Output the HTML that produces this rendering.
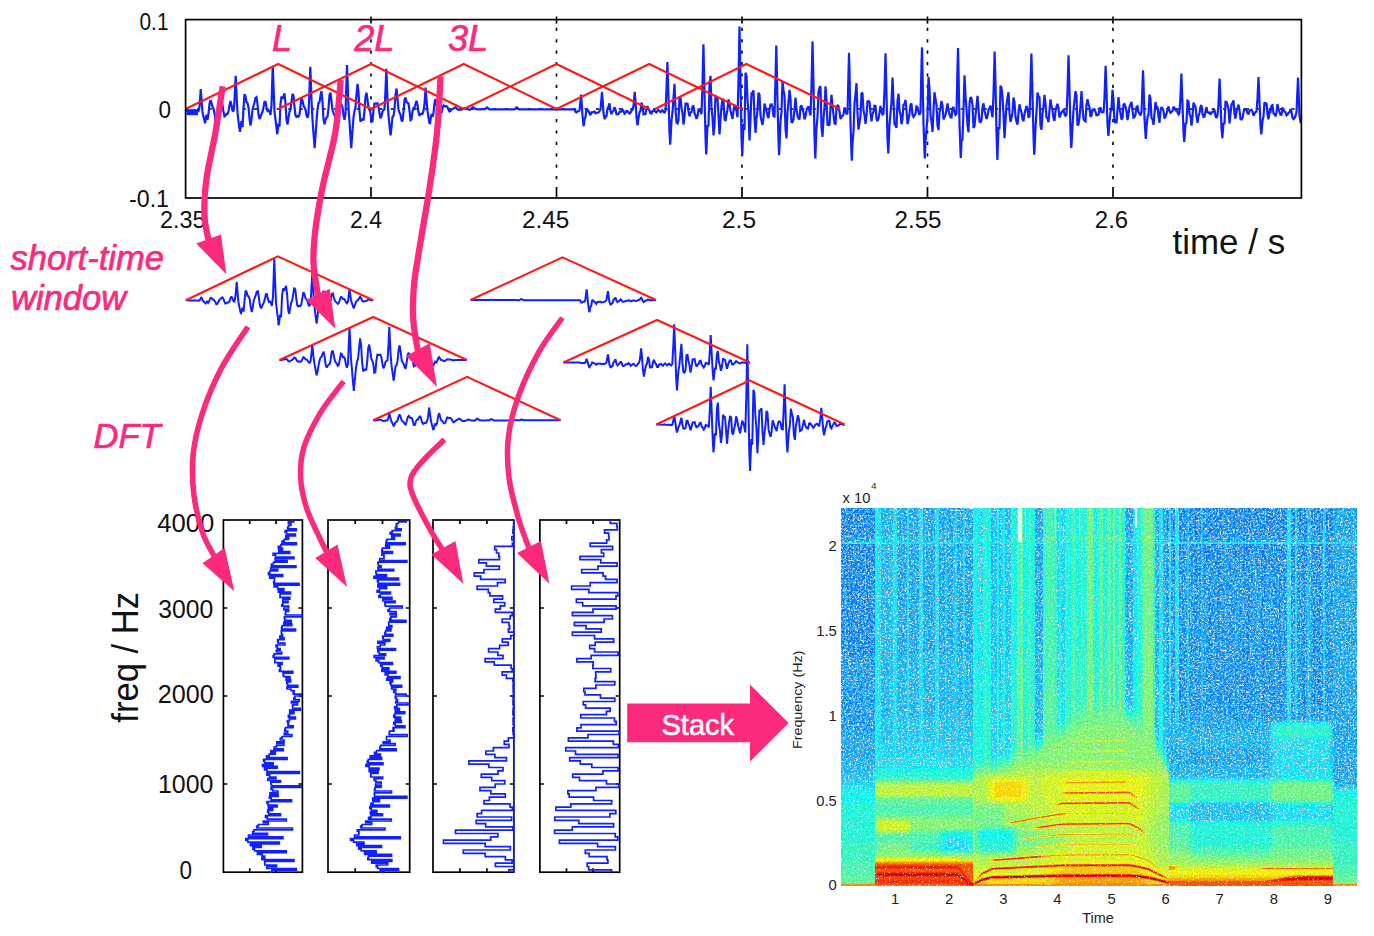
<!DOCTYPE html>
<html><head><meta charset="utf-8"><title>STFT</title>
<style>
html,body{margin:0;padding:0;background:#fff}
svg{display:block}
text{font-family:"Liberation Sans",sans-serif}
.pk{fill:#fb2a7c;font-style:italic;stroke:#fb2a7c;stroke-width:.7}
.ar{fill:none;stroke:#fb2a7c;stroke-linecap:butt;stroke-linejoin:round}
.bl{fill:none;stroke:#1020ff;stroke-linejoin:miter;stroke-miterlimit:2}
.rd{fill:none;stroke:#ff1a1a;stroke-width:2.1;stroke-linejoin:miter}
.ax{fill:none;stroke:#000;stroke-width:1.7}
.gd{fill:none;stroke:#000;stroke-width:1.6;stroke-dasharray:3.2 8.2}
</style></head>
<body>
<svg width="1374" height="936" viewBox="0 0 1374 936">
<rect width="1374" height="936" fill="#fff"/>
<g id="topplot">
<path class="gd" d="M371 16.4V186"/>
<path class="ax" d="M371 198v-11"/>
<path class="ax" d="M371 19.6v4"/>
<path class="gd" d="M556.5 16.4V186"/>
<path class="ax" d="M556.5 198v-11"/>
<path class="ax" d="M556.5 19.6v4"/>
<path class="gd" d="M742 16.4V186"/>
<path class="ax" d="M742 198v-11"/>
<path class="ax" d="M742 19.6v4"/>
<path class="gd" d="M927.5 16.4V186"/>
<path class="ax" d="M927.5 198v-11"/>
<path class="ax" d="M927.5 19.6v4"/>
<path class="gd" d="M1113 16.4V186"/>
<path class="ax" d="M1113 198v-11"/>
<path class="ax" d="M1113 19.6v4"/>
<path class="gd" d="M185.6 109H1301.4"/>
<path class="bl" stroke-width="2.2" d="M185.5 109.5L186.5 110.6L187.5 111L188.5 111L189.5 111.6L190.5 111.4L191.5 111.9L192.5 112.2L193.5 110.6L194.5 110.2L195.5 111.4L196.5 111.2L197.5 110.7L198.5 111.1L199.5 106.6L200.5 93L200.7 89.1L201.5 99.5L202.5 111.9L203.5 117.1L204.5 120.5L205 123.2L205.5 120.8L206.5 114.7L207.5 119.7L208.5 114L209.5 103.8L210.5 100L211.5 102.9L212.5 107L213.5 109L214.5 113.3L215.5 120.1L216.5 120.6L217.5 114.4L218.5 108.5L219.5 105.9L220.5 103.2L221.5 101.4L222.5 104.9L223.5 111.7L224.5 116.5L225.5 115.8L226.5 114L227.5 114.1L228.5 111.8L229.5 105L230.5 101.1L231.5 105.5L232.5 110.6L233.5 111.4L234.5 101L235.5 80L235.7 75.8L236.5 93.7L237.5 112.9L238.5 121.5L239.5 128.8L240 131.9L240.5 127.6L241.5 120.9L242.5 127.1L243.5 108.2L244.5 94.1L245.5 96.3L246.5 102.2L247.5 103.1L248.5 107.1L249.5 118.6L250.5 125.5L251.5 119L252.5 109.7L253.5 105.7L254.5 102.5L255.5 98L256.5 97.3L257.5 104.5L258.5 114.3L259.5 118.9L260.5 117.1L261.5 114L262.5 111.8L263.5 107.3L264.5 101.8L265.5 101.8L266.5 107.5L267.5 110.9L268.5 110.2L269.5 111.6L270.5 115L271.5 105.1L272.5 73.5L272.8 65.7L273.5 86.1L274.5 111.7L275.5 119.9L276.5 127.6L277.1 134.2L277.5 132.3L278.5 123.6L279.5 126.6L280.5 103.9L281.5 96.4L282.5 98.9L283.5 96.1L284.5 93.3L285.5 103.6L286.5 119.9L287.5 124.5L288.5 117.6L289.5 111.9L290.5 109.2L291.5 102L292.5 93.8L293.5 95.7L294.5 106.8L295.5 115.5L296.5 116.8L297.5 115.9L298.5 116.7L299.5 114.9L300.5 105.7L301.5 97.9L302.5 100.4L303.5 105.9L304.5 107.3L305.5 109.6L306.5 115.1L307.5 117.8L308.5 113.9L309.5 89.2L310.3 66.9L310.5 72.2L311.5 100.3L312.5 119.6L313.5 133.4L314.5 146L314.6 148.1L315.5 136.2L316.5 121.3L317.5 109.4L318.5 103.1L319.5 102.2L320.5 95.4L321.5 91.1L322.5 102.1L323.5 119.2L324.5 124.4L325.5 119.7L326.5 117.6L327.5 116.7L328.5 107.9L329.5 95.1L330.5 92.7L331.5 101.6L332.5 109.9L333.5 113.1L334.5 115.2L335.5 118.4L336.5 116.5L337.5 107.4L338.5 99.2L339.5 100.2L340.5 104.8L341.5 104.7L342.5 107.2L343.5 115.4L344.5 119.8L345.5 113.7L346.5 80.4L347 65.1L347.5 78.9L348.5 107.6L349.5 121.9L350.5 137.1L351.3 148.1L351.5 144L352.5 130.5L353.5 117.4L354.5 110.9L355.5 107.3L356.5 94.7L357.5 83.8L358.5 91.9L359.5 111.5L360.5 121.8L361.5 119.7L362.5 119.2L363.5 120.3L364.5 110.9L365.5 96.8L366.5 92.7L367.5 99.6L368.5 107.6L369.5 109.6L370.5 113.2L371.5 121.9L372.5 121.4L373.5 110.3L374.5 103.4L375.5 103.5L376.5 103.7L377.5 103.3L378.5 106.3L379.5 113.3L380.5 118.3L381.5 116.1L382.5 111.5L383.5 110.2L384.5 109.3L385.5 91L386.3 68.9L386.5 73.4L387.5 100.1L388.5 115.6L389.5 125.5L390.5 134.9L390.6 135.4L391.5 126.6L392.5 116.9L393.5 115.8L394.5 109.5L395.5 95.1L396.5 88.5L397.5 98L398.5 109.6L399.5 112.7L400.5 114.7L401.5 120.3L402.5 121.5L403.5 112.1L404.5 100.1L405.5 97.4L406.5 101.8L407.5 103.1L408.5 103.4L409.5 110.9L410.5 120.2L411.5 119.5L412.5 111.5L413.5 107.9L414.5 107.8L415.5 104L416.5 100.7L417.5 104.6L418.5 112.3L419.5 115.7L420.5 114.6L421.5 113.7L422.5 113.8L423.5 110.8L424.5 104.2L425.5 89.5L425.6 87.6L426.5 100.2L427.5 111.2L428.5 117.5L429.5 123.2L429.9 124.2L430.5 119.8L431.5 114L432.5 116.9L433.5 113.1L434.5 102.9L435.5 99.1L436.5 104.7L437.5 109.1L438.5 109.8L439.5 111.9L440.5 113.2L441.5 112.5L442.5 107.9L443.5 105.5L444.5 106.4L445.5 105.9L446.5 106.3L447.5 107.1L448.5 109.7L449.5 111.4L450.5 110.8L451.5 109.5L452.5 109L453.5 108.6L454.5 107.7L455.5 107.3L456.5 108.1L457.5 109.3L458.5 109.8L459.5 109.7L460.5 109.7L461.5 109.7L462.5 109.1L463.5 108.5L464.5 108.4L465.5 108.7L466.5 109L467.5 109.2L468.5 109.4L469.5 109.6L470.5 109.6L471.5 108.7L472.5 107.3L473.5 107.3L474.5 108.4L475.5 109L476.5 109.1L477.5 109.3L478.5 109.4L479.5 109.4L480.5 109.3L481.5 109.2L482.5 109.2L483.5 109.1L484.5 109.3L485.5 108.8L486.5 107.7L487.5 107.7L488.5 108.8L489.5 109.3L490.5 109.3L491.5 109.3L492.5 109.3L493.5 109.3L494.5 109.3L495.5 109.3L496.5 109.3L497.5 109.3L498.5 109.3L499.5 109.3L500.5 109.3L501.5 109.3L502.5 109.3L503.5 109.3L504.5 109.3L505.5 109.3L506.5 109.3L507.5 109.3L508.5 109.3L509.5 109.3L510.5 109.3L511.5 109.3L512.5 109.3L513.5 109.3L514.5 109.3L515.5 108.5L516.5 107.4L517.5 107.9L518.5 109L519.5 109.3L520.5 109.3L521.5 109.3L522.5 109.3L523.5 109.3L524.5 109.3L525.5 109.3L526.5 109.3L527.5 109.3L528.5 109.3L529.5 109.3L530.5 109.3L531.5 109.3L532.5 109.3L533.5 109.3L534.5 109.3L535.5 109.3L536.5 109.3L537.5 109.3L538.5 109.3L539.5 109.3L540.5 109.3L541.5 109.3L542.5 109.3L543.5 109.3L544.5 109.3L545.5 109.3L546.5 109.3L547.5 109.3L548.5 109.3L549.5 109.3L550.5 109.3L551.5 109.3L552.5 109.3L553.5 109.3L554.5 109.3L555.5 109.3L556.5 109.3L557.5 109.3L558.5 109.3L559.5 109.3L560.5 109.3L561.5 109.3L562.5 109.3L563.5 109.3L564.5 109.3L565.5 109.3L566.5 109.3L567.5 109.3L568.5 109.3L569.5 109.3L570.5 109.3L571.5 109.3L572.5 109.3L573.5 109.3L574.5 109.3L575.5 112L576.5 112.4L577.5 111.3L578.5 111.2L579.5 110.4L580.5 100.5L581 94.7L581.5 99.5L582.5 115.4L583.5 125.2L583.8 126L584.5 119.5L585.5 117L586.5 108.7L587.5 110.1L588.5 111.2L589.5 113.2L590.5 115.2L591.5 112.4L592.5 112.4L593.5 111.8L594.5 111.6L595.5 113.3L596.5 112.8L597.5 112.7L598.5 112.5L599.5 111.2L600.5 109.5L601.5 97.8L602 91.8L602.5 98.1L603.5 113L604.5 118.3L604.8 119.3L605.5 116.5L606.5 116.1L607.5 108.5L608.5 106.4L609.5 103.3L610.5 111.2L611.5 114.1L612.5 111.8L613.5 110.8L614.5 107.1L615.5 109.7L616.5 114.2L617.5 114.3L618.5 113.8L619.5 111.9L620.5 111.4L621.5 111.5L622.5 109.8L623.5 111.1L624.5 113.8L625.5 112.8L626.5 111L627.5 111L628.5 112.5L629.5 113.6L630.5 112.8L631.5 110.7L632.5 109.8L633.5 106.1L634.5 94.7L634.7 91.9L635.5 101.4L636.5 117.2L637.5 125.4L638.5 118.2L639.5 112.4L640.5 110.6L641.5 102.7L642.5 105.9L643.5 114.3L644.5 113.9L645.5 114L646.5 108.5L647.5 106.1L648.5 109.6L649.5 110.5L650.5 113.4L651.5 113.4L652.5 111L653.5 110.8L654.5 110.6L655.5 111.9L656.5 112.5L657.5 110.5L658.5 110L659.5 111.3L660.5 112.2L661.5 111.1L662.5 110.2L663.5 111.9L664.5 112.5L665.5 110.7L666.5 88.8L667.4 62.1L667.5 65L668.5 98.1L669.5 132.2L670.2 144.7L670.5 139.6L671.5 120.3L672.5 112.5L673.5 97.9L674.5 83.8L675.5 109.3L676.5 122.5L677.5 123.4L678.5 120.1L679.5 98.1L680.5 97.7L681.5 107.7L682.5 112.9L683.5 124.6L684.5 116.5L685.5 103.7L686.5 104L687.5 103.2L688.5 111.4L689.5 116.4L690.5 112.5L691.5 112.1L692.5 106.5L693.5 105.7L694.5 113L695.5 115.7L696.5 118.9L697.5 116.2L698.5 109.8L699.5 110.6L700.5 110.8L701.5 114.3L702.5 84.3L703.4 44.2L703.5 48.1L704.5 93.3L705.5 136.5L706.2 154.5L706.5 149L707.5 125.2L708.5 126L709.5 85.1L710.5 75.8L711.5 107.8L712.5 117.5L713.5 135.5L714.5 124.4L715.5 95.3L716.5 98.3L717.5 99.1L718.5 115.5L719.5 134.5L720.5 119.2L721.5 106.9L722.5 99.2L723.5 100L724.5 119L725.5 121.1L726.5 114.3L727.5 109.4L728.5 99.4L729.5 103.3L730.5 110.9L731.5 114.8L732.5 118.9L733.5 111.1L734.5 105L735.5 107.2L736.5 111L737.5 117.2L738.5 80.3L739.5 26.6L740.5 81.2L741.5 137.4L742.3 155.7L742.5 149.3L743.5 123.8L744.5 129.9L745.5 72.7L746.5 75.9L747.5 99.8L748.5 112.5L749.5 140.4L750.5 119L751.5 93.4L752.5 92.6L753.5 90.4L754.5 118L755.5 132.8L756.5 118.9L757.5 110.3L758.5 92.6L759.5 94.7L760.5 115.7L761.5 120.6L762.5 124.9L763.5 117.8L764.5 103.6L765.5 107.1L766.5 111.2L767.5 115.4L768.5 118.2L769.5 109.3L770.5 104.6L771.5 104.3L772.5 107.3L773.5 116.1L774.5 116.5L775.5 79.7L776.3 45.6L776.5 54.3L777.5 101.3L778.5 140.8L779.1 155.3L779.5 146L780.5 121.2L781.5 111.9L782.5 81.1L783.5 90.4L784.5 95.4L785.5 128.4L786.5 138.4L787.5 111.9L788.5 101.5L789.5 89.9L790.5 98.8L791.5 122.8L792.5 121.9L793.5 119.4L794.5 109.1L795.5 97.7L796.5 109.5L797.5 115.6L798.5 118.5L799.5 119.3L800.5 106.7L801.5 105.5L802.5 109.7L803.5 112.2L804.5 119.3L805.5 116.4L806.5 110.2L807.5 107.8L808.5 106.3L809.5 111.4L810.5 115.5L811.5 86.6L812.5 41.4L813.5 84.1L814.5 136.9L815.3 158.5L815.5 153L816.5 127.9L817.5 117.1L818.5 92.1L819.5 87.6L820.5 86.2L821.5 126.9L822.5 136.8L823.5 118.7L824.5 107.3L825.5 86.4L826.5 100.3L827.5 124.7L828.5 125.1L829.5 124.7L830.5 107.2L831.5 94.8L832.5 106.7L833.5 114.1L834.5 123.6L835.5 124L836.5 108.9L837.5 105L838.5 106.2L839.5 111.2L840.5 119.1L841.5 116.6L842.5 116.1L843.5 114.2L844.5 107.3L845.5 110L846.5 114.3L847.5 113L848.5 73.4L849 52.9L849.5 71.4L850.5 123.7L851.5 153.4L851.8 160.6L852.5 143L853.5 131.5L854.5 103.6L855.5 94.3L856.5 83.2L857.5 112.9L858.5 129.6L859.5 122.9L860.5 116.3L861.5 92.7L862.5 93.5L863.5 110.6L864.5 115.1L865.5 123.8L866.5 116.1L867.5 101.3L868.5 101.1L869.5 101.8L870.5 113.2L871.5 121.3L872.5 114.3L873.5 111.6L874.5 105.7L875.5 106.1L876.5 118.8L877.5 121.2L878.5 118.6L879.5 112.5L880.5 106L881.5 111.6L882.5 114.5L883.5 113.7L884.5 89.8L885.5 53.2L886.5 94.4L887.5 138.8L888.3 153.5L888.5 147.9L889.5 124.7L890.5 113.1L891.5 102.1L892.5 77.5L893.5 100.6L894.5 124.1L895.5 125.5L896.5 127.9L897.5 101.3L898.5 93.6L899.5 110.5L900.5 114.5L901.5 124.2L902.5 118.7L903.5 104.7L904.5 104.2L905.5 99.9L906.5 110L907.5 124.1L908.5 119.5L909.5 113.5L910.5 104.9L911.5 103.5L912.5 114.9L913.5 116.8L914.5 115.3L915.5 113.8L916.5 106.4L917.5 107.1L918.5 112L919.5 115L920.5 111.6L921.5 65.3L922 47.4L922.5 70.9L923.5 124.4L924.5 151.6L924.8 158.5L925.5 141.1L926.5 129.9L927.5 116.1L928.5 76.9L929.5 88.6L930.5 115.5L931.5 121.4L932.5 132L933.5 110.4L934.5 92.2L935.5 99.3L936.5 104.8L937.5 125.6L938.5 130.1L939.5 112.6L940.5 107.8L941.5 101L942.5 105.5L943.5 119.5L944.5 117L945.5 115L946.5 109.6L947.5 103.3L948.5 110.4L949.5 114.2L950.5 117.2L951.5 117.4L952.5 108.1L953.5 107L954.5 111.8L955.5 114.8L956.5 113.7L957.5 67.6L958 48L958.5 69.7L959.5 123.7L960.5 151.5L960.8 158L961.5 140.9L962.5 139.2L963.5 109.6L964.5 75.4L965.5 96L966.5 108.9L967.5 125.2L968.5 132.3L969.5 103.9L970.5 97L971.5 98.5L972.5 105.1L973.5 127.9L974.5 126.1L975.5 115.3L976.5 106.5L977.5 95.9L978.5 108.9L979.5 121.7L980.5 122.1L981.5 120.2L982.5 107.1L983.5 103.3L984.5 110.9L985.5 114.8L986.5 119.1L987.5 116L988.5 109.9L989.5 108.1L990.5 105.6L991.5 111.3L992.5 117.4L993.5 94.3L994.5 56.8L994.6 51.6L995.5 82.7L996.5 133.4L997.4 159.9L997.5 155.3L998.5 128L999.5 128.1L1000.5 85.6L1001.5 87.9L1002.5 97.4L1003.5 114.1L1004.5 138.3L1005.5 121L1006.5 105.1L1007.5 97.6L1008.5 92.3L1009.5 112.9L1010.5 122L1011.5 117.7L1012.5 112.6L1013.5 97.5L1014.5 102.1L1015.5 116.8L1016.5 121.7L1017.5 124.7L1018.5 113.2L1019.5 104.3L1020.5 109.2L1021.5 112.1L1022.5 119L1023.5 121.2L1024.5 113.9L1025.5 109.8L1026.5 105.9L1027.5 109.1L1028.5 117.7L1029.5 116.4L1030.5 86.3L1031.4 53.6L1031.5 57.7L1032.5 94.9L1033.5 135.8L1034.2 154.8L1034.5 150.4L1035.5 127.6L1036.5 111.9L1037.5 92.6L1038.5 96.4L1039.5 97.2L1040.5 125.6L1041.5 129.8L1042.5 113.5L1043.5 106.7L1044.5 94.9L1045.5 103.6L1046.5 117.5L1047.5 118.5L1048.5 122.2L1049.5 110.1L1050.5 99.4L1051.5 106.3L1052.5 110.2L1053.5 118L1054.5 120.9L1055.5 111.2L1056.5 106.6L1057.5 103.8L1058.5 108.3L1059.5 117.5L1060.5 115.1L1061.5 112.4L1062.5 111.2L1063.5 109.7L1064.5 114L1065.5 115.7L1066.5 114.7L1067.5 90.8L1068.5 55.2L1069.5 90L1070.5 131.6L1071.3 148L1071.5 144.9L1072.5 126.4L1073.5 110.1L1074.5 100.4L1075.5 91.1L1076.5 96.1L1077.5 125.4L1078.5 124.5L1079.5 117.7L1080.5 105.8L1081.5 91.1L1082.5 107.3L1083.5 118.8L1084.5 120.7L1085.5 121.3L1086.5 104.6L1087.5 99.2L1088.5 104.3L1089.5 107.1L1090.5 116.8L1091.5 115.6L1092.5 108.9L1093.5 110L1094.5 109.4L1095.5 111.9L1096.5 115.3L1097.5 115.2L1098.5 114.5L1099.5 108.5L1100.5 107.5L1101.5 112.2L1102.5 111.8L1103.5 112.7L1104.5 97.6L1105.5 69.3L1105.6 65.9L1106.5 91.3L1107.5 123.9L1108.4 135.8L1108.5 134.9L1109.5 121.8L1110.5 112.2L1111.5 108.3L1112.5 89.9L1113.5 99.9L1114.5 122.6L1115.5 121.3L1116.5 123.1L1117.5 109.8L1118.5 97.2L1119.5 107.9L1120.5 113.4L1121.5 119.6L1122.5 118.2L1123.5 104.6L1124.5 104.1L1125.5 106.5L1126.5 111.5L1127.5 120L1128.5 113.7L1129.5 106.8L1130.5 104.2L1131.5 101.8L1132.5 110.4L1133.5 117.6L1134.5 117.2L1135.5 114.5L1136.5 106.8L1137.5 106.2L1138.5 112.2L1139.5 113.7L1140.5 115.3L1141.5 112.1L1142.5 85.1L1143 70.2L1143.5 83L1144.5 118.1L1145.5 134.8L1145.8 138.9L1146.5 127.5L1147.5 117L1148.5 115L1149.5 94.6L1150.5 98.9L1151.5 117.8L1152.5 119.4L1153.5 124.8L1154.5 113.4L1155.5 102L1156.5 107.4L1157.5 106.6L1158.5 116.6L1159.5 122.7L1160.5 109.9L1161.5 107.1L1162.5 108.3L1163.5 111.2L1164.5 118.5L1165.5 116.7L1166.5 113.7L1167.5 110.1L1168.5 106.4L1169.5 110.8L1170.5 112.8L1171.5 112L1172.5 110.9L1173.5 106.7L1174.5 108.2L1175.5 109.9L1176.5 108.5L1177.5 112.3L1178.5 114.3L1179.5 112.9L1180.5 95.8L1181.4 73.5L1181.5 77.5L1182.5 105.1L1183.5 131.8L1184.2 142L1184.5 139.1L1185.5 123.7L1186.5 122.5L1187.5 100.7L1188.5 101.3L1189.5 114.2L1190.5 116L1191.5 125.6L1192.5 116.8L1193.5 102.6L1194.5 105.2L1195.5 106.6L1196.5 116.2L1197.5 122.8L1198.5 116L1199.5 113L1200.5 106.7L1201.5 105.1L1202.5 114.1L1203.5 117L1204.5 116.7L1205.5 111.5L1206.5 107.1L1207.5 112.3L1208.5 112.9L1209.5 112.6L1210.5 114.4L1211.5 112.4L1212.5 112.2L1213.5 110.9L1214.5 109.8L1215.5 115.9L1216.5 118.1L1217.5 115L1218.5 104.1L1219.5 80.7L1219.6 78.6L1220.5 101.3L1221.5 128.6L1222.4 138.3L1222.5 135.8L1223.5 122.8L1224.5 124.1L1225.5 101.8L1226.5 102L1227.5 104.9L1228.5 109.4L1229.5 123.5L1230.5 113.7L1231.5 104.4L1232.5 102.7L1233.5 100.3L1234.5 114.2L1235.5 118.7L1236.5 111.1L1237.5 108.5L1238.5 104.6L1239.5 110.2L1240.5 119.1L1241.5 119.4L1242.5 118.1L1243.5 112.5L1244.5 108.3L1245.5 109.8L1246.5 109.9L1247.5 113.1L1248.5 114.4L1249.5 110.5L1250.5 110.1L1251.5 109.8L1252.5 111.8L1253.5 115.8L1254.5 113.6L1255.5 111.9L1256.5 111.7L1257.5 98.4L1258.5 77L1259.5 101.6L1260.5 125.9L1261.3 134.5L1261.5 132.4L1262.5 120.9L1263.5 116.3L1264.5 102.1L1265.5 105L1266.5 102.7L1267.5 114.3L1268.5 119.4L1269.5 111.4L1270.5 111.9L1271.5 105.8L1272.5 105.3L1273.5 113.6L1274.5 113.7L1275.5 116.5L1276.5 112.2L1277.5 104.1L1278.5 108.7L1279.5 112.2L1280.5 114.8L1281.5 114.7L1282.5 108.3L1283.5 109L1284.5 111.8L1285.5 112.3L1286.5 115.4L1287.5 114.5L1288.5 112.8L1289.5 112.3L1290.5 109.1L1291.5 111.7L1292.5 117.8L1293.5 119.1L1294.5 118.1L1295.5 115.8L1296.5 112.1L1297.5 89.5L1298 77.6L1298.5 90L1299.5 115.2L1300.5 122L1300.8 123.1"/>
<path class="bl" stroke-width="6" d="M186.6 112.2H198"/>
<path class="rd" d="M185.5 109L278.2 64L371 109M278.2 109L371 64L463.8 109M371 109L463.8 64L556.5 109M463.8 109L556.5 64L649.2 109M556.5 109L649.2 64L742 109M655 109L746.4 64L840 109"/>
<rect class="ax" x="185.6" y="19.6" width="1115.8" height="178.4"/>
</g>
<g fill="#111">
<text x="168.5" y="30" font-size="24.5" text-anchor="end" textLength="29" lengthAdjust="spacingAndGlyphs">0.1</text>
<text x="171" y="118" font-size="24.5" text-anchor="end" textLength="12.5" lengthAdjust="spacingAndGlyphs">0</text>
<text x="169" y="207" font-size="24.5" text-anchor="end" textLength="40" lengthAdjust="spacingAndGlyphs">-0.1</text>
<text x="182.8" y="228.3" font-size="24.5" text-anchor="middle" textLength="45.5" lengthAdjust="spacingAndGlyphs">2.35</text>
<text x="366" y="228.3" font-size="24.5" text-anchor="middle" textLength="32" lengthAdjust="spacingAndGlyphs">2.4</text>
<text x="545.7" y="228.3" font-size="24.5" text-anchor="middle" textLength="47.4" lengthAdjust="spacingAndGlyphs">2.45</text>
<text x="739" y="228.3" font-size="24.5" text-anchor="middle" textLength="34" lengthAdjust="spacingAndGlyphs">2.5</text>
<text x="918" y="228.3" font-size="24.5" text-anchor="middle" textLength="47" lengthAdjust="spacingAndGlyphs">2.55</text>
<text x="1111.5" y="228.3" font-size="24.5" text-anchor="middle" textLength="33.3" lengthAdjust="spacingAndGlyphs">2.6</text>
<text x="1172.6" y="254.3" font-size="34.7" text-anchor="start" textLength="112.5" lengthAdjust="spacingAndGlyphs">time / s</text>
</g>
<g id="windows">
<path class="bl" stroke-width="2" d="M185.8 300.3L185.8 300.3L186.8 300.3L187.8 300.3L188.8 300.4L189.9 300.4L190.9 300.4L191.9 300.5L192.9 300.6L193.9 300.4L194.9 300.4L195.9 300.6L196.9 300.6L198 300.5L199 300.6L200 299.9L201 297.7L201.2 297L202 298.6L203 300.8L204 301.9L205.1 302.7L205.6 303.4L206.1 302.9L207.1 301.6L208.1 302.9L209.1 301.6L210.1 298.9L211.1 297.8L212.2 298.5L213.2 299.7L214.2 300.3L215.2 301.7L216.2 304L217.2 304.2L218.2 302.2L219.2 300.1L220.3 299.1L221.3 298L222.3 297.3L223.3 298.6L224.3 301.4L225.3 303.5L226.3 303.3L227.4 302.6L228.4 302.6L229.4 301.6L230.4 298.4L231.4 296.4L232.4 298.5L233.4 301.1L234.4 301.6L235.5 296L236.5 284.4L236.7 281.9L237.5 291.7L238.5 302.5L239.5 307.6L240.5 312.1L241 314.1L241.5 311.5L242.6 307.6L243.6 311.6L244.6 299.8L245.6 290.6L246.6 291.9L247.6 295.8L248.6 296.3L249.7 299L250.7 307.1L251.7 312.1L252.7 307.6L253.7 300.9L254.7 297.8L255.7 295.4L256.7 291.8L257.8 291.2L258.8 296.8L259.8 304.6L260.8 308.3L261.8 307L262.8 304.5L263.8 302.7L264.9 298.9L265.9 294.1L266.9 294L267.9 298.9L268.9 302L269.9 301.4L270.9 302.7L271.9 305.9L273 296.6L274 266.3L274.3 258.7L275 278.1L276 303L277 311.1L278 318.8L278.6 325.3L279 323.3L280.1 314.6L281.1 317.3L282.1 295.4L283.1 288.3L284.1 290.9L285.1 288.3L286.1 285.9L287.2 295.4L288.2 310.1L289.2 313.9L290.2 307.8L291.2 302.8L292.2 300.5L293.2 294.4L294.2 287.7L295.3 289.4L296.3 298.5L297.3 305.5L298.3 306.4L299.3 305.6L300.3 306.2L301.3 304.7L302.4 297.9L303.4 292.2L304.4 294.1L305.4 298.1L306.4 299.1L307.4 300.7L308.4 304.5L309.4 306.2L310.5 303.5L311.5 287.4L312.3 273.4L312.5 276.9L313.5 294.9L314.5 306.8L315.5 315.1L316.5 322.3L316.6 323.5L317.6 316.2L318.6 307.4L319.6 300.5L320.6 297L321.6 296.6L322.6 293.1L323.6 291L324.6 296.8L325.7 305.4L326.7 307.8L327.7 305.4L328.7 304.3L329.7 303.8L330.7 299.8L331.7 294.2L332.8 293.4L333.8 297.2L334.8 300.6L335.8 301.9L336.8 302.7L337.8 303.8L338.8 303L339.9 299.7L340.9 297L341.9 297.4L342.9 299L343.9 299L344.9 299.8L345.9 302.2L346.9 303.3L348 301.6L349 293L349.5 289.3L350 293L351 300L352 303.2L353 306.3L353.8 308.3L354 307.4L355.1 304.4L356.1 301.8L357.1 300.6L358.1 300L359.1 298.2L360.1 296.8L361.1 298.1L362.1 300.6L363.2 301.7L364.2 301.3L365.2 301.2L366.2 301.1L367.2 300.4L368.2 299.6L369.2 299.6L370.3 300L371.3 300.3L372.3 300.3L373.3 300.3L373.3 300.3"/>
<path class="bl" stroke-width="2" d="M279.5 360L280.1 360.1L281.1 360.3L282.1 359.9L283.1 359.5L284.1 359.5L285.1 359.2L286.1 358.9L287.2 359.6L288.2 361L289.2 361.6L290.2 361L291.2 360.4L292.2 360L293.2 359L294.2 357.6L295.3 357.8L296.3 359.6L297.3 361.2L298.3 361.6L299.3 361.4L300.3 361.7L301.3 361.4L302.4 359.2L303.4 357.2L304.4 357.7L305.4 359.1L306.4 359.5L307.4 360.2L308.4 361.9L309.4 362.8L310.5 361.6L311.5 353.2L312.3 345.3L312.5 347.1L313.5 356.9L314.5 364L315.5 369.4L316.5 374.6L316.6 375.5L317.6 371L318.6 365.1L319.6 360.2L320.6 357.4L321.6 356.9L322.6 353.8L323.6 351.6L324.6 356.7L325.7 365L326.7 367.7L327.7 365.5L328.7 364.5L329.7 364.1L330.7 359.4L331.7 352.2L332.8 350.7L333.8 355.7L334.8 360.5L335.8 362.4L336.8 363.8L337.8 365.8L338.8 364.8L339.9 359L340.9 353.6L341.9 354.1L342.9 357.2L343.9 357.1L344.9 358.7L345.9 364.6L346.9 367.8L348 363.4L349 338.8L349.5 327.3L350 337.4L351 358.9L352 370L353 382.1L353.8 391L354 387.8L355.1 377.4L356.1 366.9L357.1 361.6L358.1 358.6L359.1 347.9L360.1 338.4L361.1 345.1L362.1 362.2L363.2 371.4L364.2 369.7L365.2 369.3L366.2 370.4L367.2 361.8L368.2 348.4L369.2 344.4L370.3 350.9L371.3 358.7L372.3 360.6L373.3 364.2L374.3 372.8L375.3 372.1L376.3 361.3L377.4 354.7L378.4 354.8L379.4 355L380.4 354.7L381.4 357.5L382.4 363.9L383.4 368.3L384.4 366.3L385.5 362.1L386.5 361L387.5 360.3L388.5 344.9L389.3 326.7L389.5 330.5L390.5 352.7L391.5 365.3L392.6 373.1L393.6 380.3L393.7 380.6L394.6 373.6L395.6 366L396.6 365.1L397.6 360.4L398.6 349.9L399.6 345.3L400.7 352.2L401.7 360.4L402.7 362.5L403.7 363.9L404.7 367.5L405.7 368.1L406.7 362L407.8 354.4L408.8 352.8L409.8 355.6L410.8 356.5L411.8 356.7L412.8 361.1L413.8 366.3L414.9 365.9L415.9 361.4L416.9 359.4L417.9 359.4L418.9 357.4L419.9 355.8L420.9 357.8L421.9 361.6L423 363.2L424 362.6L425 362.1L426 362.1L427 360.8L428 358L429 352.1L429.1 351.4L430.1 356.5L431.1 360.9L432.1 363.2L433.1 365.2L433.5 365.4L434.1 363.8L435.1 361.7L436.1 362.6L437.1 361.3L438.2 358.1L439.2 357.1L440.2 358.8L441.2 360L442.2 360.2L443.2 360.7L444.2 361L445.3 360.8L446.3 359.8L447.3 359.3L448.3 359.5L449.3 359.4L450.3 359.5L451.3 359.7L452.4 360.1L453.4 360.3L454.4 360.2L455.4 360.1L456.4 360L457.4 360L458.4 359.9L459.4 359.9L460.5 359.9L461.5 360L462.5 360L463.5 360L464.5 360L465.5 360L466.5 360L467 360"/>
<path class="bl" stroke-width="2" d="M373.2 420.2L373.3 420.2L374.3 420.4L375.3 420.5L376.3 420.2L377.4 420L378.4 419.9L379.4 419.8L380.4 419.8L381.4 420L382.4 420.6L383.4 421.2L384.4 421.1L385.5 420.5L386.5 420.4L387.5 420.2L388.5 417.3L389.3 413.3L389.5 414L390.5 418.6L391.5 421.5L392.6 423.6L393.6 425.8L393.7 425.9L394.6 424.2L395.6 422.1L396.6 421.9L397.6 420.3L398.6 416.4L399.6 414.4L400.7 417L401.7 420.4L402.7 421.4L403.7 422.1L404.7 424L405.7 424.5L406.7 421.3L407.8 416.9L408.8 415.8L409.8 417.4L410.8 417.9L411.8 417.9L412.8 421L413.8 425L414.9 424.9L415.9 421.3L416.9 419.7L417.9 419.6L418.9 417.8L419.9 416.1L420.9 417.9L421.9 421.9L423 423.8L424 423.2L425 422.8L426 422.9L427 421.2L428 417.4L429 408.6L429.1 407.5L430.1 414.9L431.1 421.6L432.1 425.5L433.1 429.3L433.5 430L434.1 427.2L435.1 423.5L436.1 425.5L437.1 423L438.2 415.9L439.2 413.2L440.2 417.1L441.2 420.3L442.2 420.8L443.2 422.3L444.2 423.4L445.3 422.9L446.3 419.3L447.3 417.4L448.3 418.1L449.3 417.7L450.3 418L451.3 418.7L452.4 420.7L453.4 422.2L454.4 421.8L455.4 420.7L456.4 420.2L457.4 419.8L458.4 419L459.4 418.6L460.5 419.3L461.5 420.5L462.5 420.9L463.5 420.9L464.5 420.9L465.5 420.8L466.5 420.3L467.6 419.7L468.6 419.6L469.6 419.9L470.6 420.2L471.6 420.4L472.6 420.6L473.6 420.8L474.6 420.7L475.7 419.9L476.7 418.7L477.7 418.7L478.7 419.7L479.7 420.2L480.7 420.3L481.7 420.5L482.8 420.6L483.8 420.5L484.8 420.4L485.8 420.4L486.8 420.3L487.8 420.3L488.8 420.4L489.9 420L490.9 419.2L491.9 419.2L492.9 420L493.9 420.4L494.9 420.4L495.9 420.4L496.9 420.4L498 420.4L499 420.4L500 420.4L501 420.4L502 420.4L503 420.4L504 420.4L505.1 420.4L506.1 420.4L507.1 420.4L508.1 420.4L509.1 420.4L510.1 420.4L511.1 420.4L512.1 420.4L513.2 420.4L514.2 420.3L515.2 420.3L516.2 420.3L517.2 420.3L518.2 420.3L519.2 420.3L520.3 420L521.3 419.5L522.3 419.7L523.3 420.2L524.3 420.3L525.3 420.3L526.3 420.3L527.3 420.3L528.4 420.3L529.4 420.3L530.4 420.3L531.4 420.3L532.4 420.3L533.4 420.3L534.4 420.3L535.5 420.3L536.5 420.3L537.5 420.3L538.5 420.3L539.5 420.3L540.5 420.3L541.5 420.3L542.6 420.3L543.6 420.3L544.6 420.3L545.6 420.2L546.6 420.2L547.6 420.2L548.6 420.2L549.6 420.2L550.7 420.2L551.7 420.2L552.7 420.2L553.7 420.2L554.7 420.2L555.7 420.2L556.7 420.2L557.8 420.2L558.8 420.2L559.8 420.2L560.6 420.2"/>
<path class="bl" stroke-width="2" d="M470.5 300L470.6 300L471.6 300L472.6 300L473.6 300L474.6 300L475.7 300L476.7 299.9L477.7 299.9L478.7 300L479.7 300L480.7 300L481.7 300L482.8 300.1L483.8 300.1L484.8 300L485.8 300L486.8 300L487.8 300L488.8 300.1L489.9 299.9L490.9 299.7L491.9 299.7L492.9 299.9L493.9 300.1L494.9 300.1L495.9 300.1L496.9 300.1L498 300.1L499 300.1L500 300.1L501 300.1L502 300.1L503 300.1L504 300.1L505.1 300.1L506.1 300.1L507.1 300.1L508.1 300.1L509.1 300.1L510.1 300.1L511.1 300.1L512.1 300.1L513.2 300.1L514.2 300.1L515.2 300.1L516.2 300.1L517.2 300.2L518.2 300.2L519.2 300.2L520.3 299.7L521.3 299.1L522.3 299.4L523.3 300L524.3 300.2L525.3 300.2L526.3 300.2L527.3 300.2L528.4 300.2L529.4 300.2L530.4 300.2L531.4 300.2L532.4 300.2L533.4 300.2L534.4 300.2L535.5 300.2L536.5 300.2L537.5 300.2L538.5 300.2L539.5 300.2L540.5 300.2L541.5 300.2L542.6 300.2L543.6 300.2L544.6 300.2L545.6 300.2L546.6 300.2L547.6 300.3L548.6 300.3L549.6 300.3L550.7 300.3L551.7 300.3L552.7 300.3L553.7 300.3L554.7 300.3L555.7 300.3L556.7 300.3L557.8 300.3L558.8 300.3L559.8 300.3L560.8 300.3L561.8 300.3L562.8 300.3L563.8 300.3L564.8 300.3L565.9 300.3L566.9 300.3L567.9 300.3L568.9 300.3L569.9 300.3L570.9 300.3L571.9 300.3L573 300.3L574 300.3L575 300.3L576 300.3L577 300.3L578 300.3L579 300.2L580.1 300.2L581.1 302.4L582.1 302.7L583.1 301.8L584.1 301.7L585.1 301.1L586.1 293.6L586.6 289.4L587.1 293L588.2 304.6L589.2 311.6L589.5 312.1L590.2 307.4L591.2 305.6L592.2 299.8L593.2 300.8L594.2 301.5L595.3 302.7L596.3 304L597.3 302.1L598.3 302.1L599.3 301.7L600.3 301.6L601.3 302.5L602.3 302.2L603.4 302.1L604.4 301.9L605.4 301.2L606.4 300.3L607.4 294.2L607.9 291.2L608.4 294.5L609.4 302L610.5 304.5L610.8 305L611.5 303.6L612.5 303.3L613.5 299.8L614.5 298.8L615.5 297.5L616.5 300.9L617.6 302.1L618.6 301.1L619.6 300.7L620.6 299.3L621.6 300.3L622.6 301.8L623.6 301.8L624.6 301.6L625.7 300.9L626.7 300.8L627.7 300.8L628.7 300.2L629.7 300.6L630.7 301.3L631.7 301L632.8 300.5L633.8 300.5L634.8 300.8L635.8 301L636.8 300.8L637.8 300.3L638.8 300.1L639.8 299.5L640.9 297.7L641.1 297.3L641.9 298.9L642.9 301.2L643.9 302.1L644.9 301.1L645.9 300.4L646.9 300.2L648 299.5L649 299.8L650 300.3L651 300.3L652 300.2L653 300L654 299.9L655.1 300L656 300"/>
<path class="bl" stroke-width="2" d="M563.3 362.5L563.8 362.5L564.8 362.5L565.9 362.5L566.9 362.5L567.9 362.5L568.9 362.5L569.9 362.5L570.9 362.5L571.9 362.5L573 362.5L574 362.5L575 362.5L576 362.5L577 362.5L578 362.5L579 362.6L580.1 362.6L581.1 363.1L582.1 363.2L583.1 363L584.1 363L585.1 362.8L586.1 360.4L586.6 358.9L587.1 360.1L588.2 364.2L589.2 367L589.5 367.2L590.2 365.5L591.2 364.9L592.2 362.4L593.2 362.9L594.2 363.2L595.3 363.9L596.3 364.7L597.3 363.7L598.3 363.8L599.3 363.6L600.3 363.5L601.3 364.3L602.3 364.1L603.4 364.1L604.4 364L605.4 363.5L606.4 362.7L607.4 357.2L607.9 354.3L608.4 357.3L609.4 364.5L610.5 367.2L610.8 367.7L611.5 366.3L612.5 366.2L613.5 362.2L614.5 361.1L615.5 359.3L616.5 363.7L617.6 365.5L618.6 364.2L619.6 363.6L620.6 361.3L621.6 362.9L622.6 365.8L623.6 365.9L624.6 365.7L625.7 364.4L626.7 364.1L627.7 364.2L628.7 363.1L629.7 364L630.7 365.9L631.7 365.2L632.8 364L633.8 364L634.8 365.1L635.8 366.1L636.8 365.5L637.8 363.8L638.8 363.1L639.8 360.1L640.9 350.7L641.1 348.4L641.9 356.1L642.9 369.5L643.9 376.6L644.9 370.5L645.9 365.5L646.9 363.9L648 356.8L649 359.6L650 367.4L651 367.1L652 367.2L653 362L654 359.7L655.1 363.1L656.1 364L657.1 366.9L658.1 366.9L659.1 364.5L660.1 364.3L661.1 364L662.1 365.3L663.2 365.8L664.2 363.9L665.2 363.4L666.2 364.6L667.2 365.4L668.2 364.3L669.2 363.6L670.3 365L671.3 365.5L672.3 363.9L673.3 345.8L674.2 324.2L674.3 326.6L675.3 353.7L676.3 380.9L677 390.5L677.3 386.4L678.4 371.2L679.4 365.2L680.4 354.2L681.4 343.9L682.4 362.8L683.4 372.1L684.4 372.6L685.5 370.2L686.5 355.1L687.5 354.9L688.5 361.6L689.5 365.1L690.5 372.5L691.5 367.2L692.6 359.3L693.6 359.4L694.6 359.1L695.6 363.9L696.6 366.7L697.6 364.5L698.6 364.2L699.6 361.1L700.7 360.8L701.7 364.6L702.7 365.9L703.7 367.5L704.7 366L705.7 362.9L706.7 363.2L707.8 363.3L708.8 364.9L709.8 351.8L710.7 335.1L710.8 336.8L711.8 356L712.8 373.5L713.5 380.4L713.8 378.1L714.8 368.6L715.9 368.7L716.9 354L717.9 351L718.9 362.1L719.9 365.3L720.9 370.8L721.9 367.1L723 358.5L724 359.5L725 359.9L726 364.2L727 368.8L728 364.9L729 362L730 360.4L731.1 360.7L732.1 364.4L733.1 364.7L734.1 363.4L735.1 362.6L736.1 361.1L737.1 361.7L738.2 362.7L739.2 363.2L740.2 363.5L741.2 362.7L742.2 362.2L743.2 362.4L744.2 362.6L745.3 362.9L746.3 361.4L747.3 360.2L748.3 362L749.3 362.7L749.9 362.5"/>
<path class="bl" stroke-width="2" d="M656.3 424.5L657.1 424.5L658.1 424.6L659.1 424.6L660.1 424.6L661.1 424.6L662.1 424.7L663.2 424.8L664.2 424.6L665.2 424.6L666.2 424.7L667.2 424.9L668.2 424.8L669.2 424.7L670.3 424.9L671.3 425.1L672.3 424.8L673.3 420.8L674.2 415.5L674.3 416L675.3 422.3L676.3 429.5L677 432.4L677.3 431.4L678.4 427.2L679.4 425.4L680.4 421.6L681.4 417.7L682.4 424.6L683.4 428.4L684.4 428.8L685.5 428L686.5 421L687.5 420.7L688.5 424.1L689.5 425.9L690.5 430.2L691.5 427.3L692.6 422.5L693.6 422.5L694.6 422.1L695.6 425.5L696.6 427.7L697.6 426.1L698.6 425.9L699.6 423.3L700.7 422.9L701.7 426.4L702.7 427.8L703.7 429.6L704.7 428.2L705.7 424.9L706.7 425.4L707.8 425.5L708.8 427.5L709.8 410.3L710.7 386.7L710.8 388.9L711.8 415.1L712.8 441.1L713.5 452.4L713.8 449.2L714.8 434.6L715.9 435.3L716.9 409L717.9 402.6L718.9 423.7L719.9 430.3L720.9 442.9L721.9 435.3L723 414.7L724 416.8L725 417.2L726 429.4L727 443.8L728 432.3L729 422.9L730 416.7L731.1 417.2L732.1 432.6L733.1 434.5L734.1 428.9L735.1 424.8L736.1 416.3L737.1 419.6L738.2 426.2L739.2 429.7L740.2 433.4L741.2 426.4L742.2 420.8L743.2 422.8L744.2 426.4L745.3 432.4L746.3 396.8L747.3 344.2L748.3 397.1L749.3 452.8L750.1 470.9L750.3 464.5L751.3 439L752.3 444.8L753.4 389.7L754.4 393.1L755.4 415.9L756.4 427.7L757.4 453.3L758.4 433.6L759.4 410.5L760.5 409.9L761.5 408.2L762.5 432.3L763.5 444.9L764.5 432.9L765.5 425.5L766.5 411L767.5 412.9L768.6 429.9L769.6 433.7L770.6 436.9L771.6 431.2L772.6 420.4L773.6 423.1L774.6 426.1L775.7 429.1L776.7 431.1L777.7 424.7L778.7 421.5L779.7 421.3L780.7 423.3L781.7 429.2L782.8 429.4L783.8 405.7L784.6 384.4L784.8 390L785.8 419.7L786.8 443.9L787.4 452.4L787.8 446.6L788.8 431.7L789.8 426.2L790.9 408.7L791.9 414.1L792.9 417.1L793.9 434.9L794.9 439.9L795.9 426L796.9 420.7L798 415.1L799 419.6L800 431L801 430.4L802 429.2L803 424.5L804 419.6L805 424.7L806.1 427.2L807.1 428.3L808.1 428.5L809.1 423.6L810.1 423.2L811.1 424.8L812.1 425.6L813.2 427.9L814.2 426.9L815.2 424.9L816.2 424.1L817.2 423.7L818.2 425.2L819.2 426.2L820.3 418.7L821.3 407.8L822.3 418.6L823.3 430.8L824.1 435.3L824.3 434L825.3 428.4L826.3 426.1L827.3 421.4L828.4 420.8L829.4 420.8L830.4 427.2L831.4 428.4L832.4 425.8L833.4 424.3L834.4 422L835.5 423.6L836.5 425.9L837.5 425.7L838.5 425.5L839.5 424.4L840.5 423.9L841.5 424.4L842.5 424.6L843.6 424.7L844.6 424.5L844.8 424.5"/>
<path class="rd" d="M185.8 300.3L277.9 256.3L373.3 300.3M279.5 360L373.3 317L467 360M373.2 420.2L467.1 376.9L560.6 420.2M470.5 300L562.5 257.3L656 300M563.3 362.5L657.1 320L749.9 362.5M656.3 424.5L749.6 380.5L844.8 424.5"/>
</g>
<g id="dft">
<rect class="ax" x="223.4" y="520" width="79" height="352.2"/>
<path class="ax" stroke-width="1.4" d="M249.7 520v4M249.7 872.2v-4M276.1 520v4M276.1 872.2v-4M223.4 608h4M302.4 608h-4M223.4 696h4M302.4 696h-4M223.4 784h4M302.4 784h-4"/>
<path class="bl" stroke-width="1.7" d="M293.8 520V521.8H288.4V523.5H290.9V525.3H288.6V527H287.7V528.8H296.3V530.6H285.1V532.3H286.6V534.1H295.4V535.8H285.8V537.6H288.6V539.4H284.2V541.1H282V542.9H296.4V544.6H280.8V546.4H278.3V548.2H282.4V549.9H278.8V551.7H289.8V553.4H273.1V555.2H275.5V557H294V558.7H275.2V560.5H287.1V562.2H273.5V564H271.5V565.8H295.9V567.5H270.9V569.3H277.7V571H269.8V572.8H268.5V574.6H282.7V576.3H269.7V578.1H274.5V579.8H274.4V581.6H273.7V583.4H299V585.1H274.1V586.9H277.6V588.6H283.8V590.4H278.3V592.2H290.5V593.9H280.1V595.7H280V597.4H289.8V599.2H282.9V601H288V602.7H282.8V604.5H281.9V606.2H288.6V608H284V609.8H288.6V611.5H285.7V613.3H285.3V615H301.9V616.8H284.4V618.6H284.8V620.3H291.1V622.1H283.9V623.8H291.8V625.6H282.1V627.4H281.6V629.1H295.5V630.9H281.3V632.6H281.5V634.4H282.5V636.2H279.9V637.9H284.1V639.7H277.6V641.4H278.1V643.2H284.9V645H276V646.7H277.3V648.5H280.2V650.2H276.4V652H281.7V653.8H274.2V655.5H273.2V657.3H288.8V659H274.9V660.8H274.8V662.6H282.1V664.3H278.1V666.1H280.3V667.8H280.5V669.6H279.4V671.4H292.8V673.1H283.1V674.9H283.6V676.6H290V678.4H286.1V680.2H290.6V681.9H286.8V683.7H287.6V685.4H297.8V687.2H287V689H291V690.7H294.1V692.5H293.2V694.2H301.2V696H295V697.8H293.9V699.5H299.2V701.3H291.4V703H297.5V704.8H292.5V706.6H292.8V708.3H300.3V710.1H289.7V711.8H293.9V713.6H289.7V715.4H288.4V717.1H295.4V718.9H289.4V720.6H287.4V722.4H288.6V724.2H288V725.9H293.2V727.7H285.4V729.4H284.8V731.2H287.7V733H284.3V734.7H291.8V736.5H282V738.2H280.3V740H284V741.8H276.8V743.5H283.8V745.3H276.4V747H274.1V748.8H283.3V750.6H270.8V752.3H275.3V754.1H269.2V755.8H266.5V757.6H287.1V759.4H263.6V761.1H264.6V762.9H273.1V764.6H262.5V766.4H277.3V768.2H264.5V769.9H267V771.7H299.4V773.4H266.9V775.2H269.5V777H275.9V778.7H267.8V780.5H280.5V782.2H270.8V784H271.5V785.8H301.2V787.5H271V789.3H272.8V791H277.9V792.8H270V794.6H278.1V796.3H269.4V798.1H271.1V799.8H291.6V801.6H267V803.4H268V805.1H277.1V806.9H268.4V808.6H272.7V810.4H267.7V812.2H268.6V813.9H280.6V815.7H265.5V817.4H267.3V819.2H286.3V821H263.3V822.7H268.2V824.5H258.4V826.2H256.7V828H292.5V829.8H254.1V831.5H252.7V833.3H267.5V835H248.5V836.8H282.9V838.6H245.8V840.3H247.8V842.1H279.3V843.8H250.4V845.6H261.2V847.4H252.9V849.1H254.5V850.9H286.2V852.6H257.4V854.4H262.1V856.2H264.7V857.9H261.9V859.7H293.9V861.4H264.9V863.2H264.8V865H276.5V866.7H266.8V868.5H296.3V870.2H271.9V872H269.5V872.2"/>
<rect class="ax" x="328" y="520" width="81.7" height="352.2"/>
<path class="ax" stroke-width="1.4" d="M355.2 520v4M355.2 872.2v-4M382.5 520v4M382.5 872.2v-4M328 608h4M409.7 608h-4M328 696h4M409.7 696h-4M328 784h4M409.7 784h-4"/>
<path class="bl" stroke-width="1.7" d="M406.4 520V521.8H398.5V523.5H396.3V525.3H396.9V527H395.5V528.8H401.1V530.6H392.2V532.3H390.2V534.1H400.1V535.8H391.7V537.6H394.4V539.4H386.7V541.1H386.1V542.9H405.2V544.6H385.7V546.4H389.5V548.2H382.4V549.9H381.8V551.7H392.5V553.4H382V555.2H383.9V557H384V558.7H379.7V560.5H406.8V562.2H378V564H378.5V565.8H381.1V567.5H377.9V569.3H393.7V571H375.9V572.8H376.3V574.6H386.4V576.3H374V578.1H398.5V579.8H377.5V581.6H378.3V583.4H399.6V585.1H377.8V586.9H386.6V588.6H379.5V590.4H377.1V592.2H390.5V593.9H380.4V595.7H378.8V597.4H391.9V599.2H382.9V601H395.2V602.7H384.8V604.5H385.3V606.2H402.2V608H389.6V609.8H388V611.5H396.1V613.3H390.1V615H396.2V616.8H390.9V618.6H389.8V620.3H405.9V622.1H388.8V623.8H388.7V625.6H391.8V627.4H386.6V629.1H390.9V630.9H385.6V632.6H384.9V634.4H392.8V636.2H382.7V637.9H383.2V639.7H389.8V641.4H377.9V643.2H384.8V645H380.2V646.7H377.4V648.5H395.5V650.2H377.8V652H379.3V653.8H385.6V655.5H374.1V657.3H384.1V659H376.1V660.8H378.6V662.6H392.4V664.3H380.7V666.1H382.2V667.8H388.8V669.6H381.8V671.4H395.9V673.1H385.2V674.9H387.9V676.6H399.9V678.4H386.7V680.2H392.6V681.9H390.1V683.7H391V685.4H401.6V687.2H391.7V689H395.8V690.7H393.7V692.5H395.6V694.2H406.1V696H395.3V697.8H396.2V699.5H397.5V701.3H395.7V703H408V704.8H396.9V706.6H394.7V708.3H399.4V710.1H395.3V711.8H404.8V713.6H394.9V715.4H393.8V717.1H400.5V718.9H395.2V720.6H401.3V722.4H393.8V724.2H395.3V725.9H404.9V727.7H393.1V729.4H393.9V731.2H389.5V733H389.2V734.7H407.1V736.5H386.5V738.2H386.5V740H390V741.8H383.2V743.5H395.1V745.3H380.6V747H379.8V748.8H396.2V750.6H376.6V752.3H374.5V754.1H380.4V755.8H370.2V757.6H381.6V759.4H368.3V761.1H367.3V762.9H382.9V764.6H366V766.4H369.1V768.2H379V769.9H369.2V771.7H378V773.4H370.8V775.2H370.7V777H382.7V778.7H374.2V780.5H375.8V782.2H381.2V784H375.6V785.8H381.1V787.5H375V789.3H374.5V791H391.5V792.8H374.4V794.6H374.6V796.3H406.9V798.1H372.7V799.8H379.5V801.6H373V803.4H370.9V805.1H389.4V806.9H369.8V808.6H371.3V810.4H376.9V812.2H370.4V813.9H382.5V815.7H371V817.4H368.6V819.2H391.2V821H365.7V822.7H371.6V824.5H362.1V826.2H360.7V828H384.9V829.8H357.3V831.5H359V833.3H358.8V835H354.5V836.8H400.3V838.6H350.5V840.3H353.6V842.1H363.9V843.8H356.8V845.6H381.5V847.4H358.7V849.1H361.2V850.9H376.1V852.6H364.6V854.4H391.5V856.2H368.5V857.9H367.8V859.7H391.8V861.4H371.7V863.2H387.7V865H376.2V866.7H377.6V868.5H398.5V870.2H380.2V872H383.7V872.2"/>
<rect class="ax" x="433" y="520" width="80.8" height="352.2"/>
<path class="ax" stroke-width="1.4" d="M459.9 520v4M459.9 872.2v-4M486.9 520v4M486.9 872.2v-4M433 608h4M513.8 608h-4M433 696h4M513.8 696h-4M433 784h4M513.8 784h-4"/>
<path class="bl" stroke-width="1.7" d="M513.8 520V523.3H513.7V526.6H513.3V529.9H512.9V533.2H513.8V536.5H511.8V539.8H513.6V543.1H512.4V546.4H494.7V549.7H496.5V553H498.8V556.3H499.5V559.6H478.8V562.9H486.4V566.2H499.3V569.5H483.9V572.8H474.3V576.1H480.7V579.4H505.2V582.7H497.5V586H477.1V589.3H488.3V592.6H489.9V595.9H502.6V599.2H493.8V602.5H504.7V605.8H500.3V609.1H495.3V612.4H512.2V615.7H510.2V619H502.2V622.3H509V625.6H509.7V628.9H508.4V632.2H513.8V635.5H510.8V638.8H502.3V642.1H508.2V645.4H499.6V648.7H488.6V652H497.8V655.3H503V658.6H485.1V661.9H494.3V665.2H511.1V668.5H512.2V671.8H502.2V675.1H506.4V678.4H512.9V681.7H513.4V685H513.1V688.3H513.2V691.6H513.4V694.9H513.5V698.2H513.1V701.5H513V704.8H513.8V708.1H513.2V711.4H512.9V714.7H513.8V718H513.1V721.3H513.2V724.6H513.8V727.9H512.9V731.2H513.2V734.5H513.8V737.8H508.4V741.1H504.3V744.4H509V747.7H493.4V751H485.9V754.3H494.9V757.6H506.5V760.9H468.9V764.2H488.9V767.5H503V770.8H498V774.1H481.3V777.4H491.7V780.7H504.8V784H495.2V787.3H480V790.6H490.9V793.9H505.3V797.2H489.4V800.5H484V803.8H510.1V807.1H512.3V810.4H481.6V813.7H477.1V817H511.6V820.3H476.2V823.6H485.7V826.9H512.9V830.2H455.5V833.5H497.9V836.8H490.7V840.1H443.5V843.4H485.3V846.7H510.4V850H463.3V853.3H485.2V856.6H505.4V859.9H512.1V863.2H495.4V866.5H513.8V869.8H508.8V872.2"/>
<path class="bl" stroke-width="1.3" d="M513.8 520V872.2"/>
<rect class="ax" x="539.9" y="520" width="79.8" height="352.2"/>
<path class="ax" stroke-width="1.4" d="M566.5 520v4M566.5 872.2v-4M593.1 520v4M593.1 872.2v-4M539.9 608h4M619.7 608h-4M539.9 696h4M619.7 696h-4M539.9 784h4M619.7 784h-4"/>
<path class="bl" stroke-width="1.7" d="M610.3 520V523.3H616.9V526.6H617.3V529.9H604.6V533.2H608.7V536.5H609V539.8H606.7V543.1H590.2V546.4H612.6V549.7H601.4V553H603.7V556.3H580V559.6H600.8V562.9H617.1V566.2H598V569.5H581.7V572.8H603.1V576.1H605.6V579.4H617.1V582.7H590.2V586H571.6V589.3H588.9V592.6H617.8V595.9H616V599.2H576.4V602.5H582.7V605.8H616.1V609.1H593V612.4H572.4V615.7H612.4V619H604.1V622.3H574.4V625.6H586.1V628.9H601.2V632.2H572.4V635.5H594.6V638.8H613.7V642.1H595.2V645.4H589.7V648.7H594.6V652H618.2V655.3H591.1V658.6H576.8V661.9H593.2V665.2H592.8V668.5H610.7V671.8H595.7V675.1H595.9V678.4H595.1V681.7H614.8V685H595.9V688.3H583.8V691.6H585V694.9H600.5V698.2H614.8V701.5H583.3V704.8H585.6V708.1H610.1V711.4H606.5V714.7H580.8V718H614.5V721.3H616.2V724.6H581V727.9H576.9V731.2H619V734.5H588V737.8H568.4V741.1H613.4V744.4H618.4V747.7H565.8V751H575.5V754.3H618.1V757.6H569.7V760.9H580.3V764.2H591.8V767.5H618.1V770.8H602.9V774.1H572.7V777.4H579.5V780.7H606.5V784H619V787.3H595.9V790.6H567.9V793.9H569.2V797.2H593.6V800.5H611.7V803.8H570.8V807.1H555.9V810.4H615.8V813.7H609.9V817H554.8V820.3H578.8V823.6H613.6V826.9H572.3V830.2H554.6V833.5H615.2V836.8H617.8V840.1H559.4V843.4H597.6V846.7H615.4V850H585.3V853.3H589.2V856.6H607V859.9H607.9V863.2H587.2V866.5H588.7V869.8H611.6V872.2"/>
</g>
<g fill="#111">
<text x="185.7" y="532.1" font-size="25.5" text-anchor="middle" textLength="57" lengthAdjust="spacingAndGlyphs">4000</text>
<text x="185.7" y="618.1" font-size="25.5" text-anchor="middle" textLength="55" lengthAdjust="spacingAndGlyphs">3000</text>
<text x="185.7" y="702.8" font-size="25.5" text-anchor="middle" textLength="56" lengthAdjust="spacingAndGlyphs">2000</text>
<text x="185.7" y="792.5" font-size="25.5" text-anchor="middle" textLength="55.5" lengthAdjust="spacingAndGlyphs">1000</text>
<text x="185.7" y="879.1" font-size="25.5" text-anchor="middle" textLength="12.5" lengthAdjust="spacingAndGlyphs">0</text>
<text transform="translate(138 722.7) rotate(-90)" font-size="36" textLength="130.7" lengthAdjust="spacingAndGlyphs">freq / Hz</text>
</g>
<defs>
<clipPath id="sc"><rect x="841" y="508" width="516" height="378"/></clipPath>
<filter id="n0" x="0" y="0" width="100%" height="100%" color-interpolation-filters="sRGB"><feTurbulence type="fractalNoise" baseFrequency="0.45" numOctaves="1" seed="4"/><feColorMatrix type="matrix" values="0 0 0 0 0.3 0 0 0 0 0.78 0 0 0 0 1 14 0 0 0 -6.8"/><feGaussianBlur stdDeviation="0.5"/></filter>
<filter id="n1" x="0" y="0" width="100%" height="100%" color-interpolation-filters="sRGB"><feTurbulence type="fractalNoise" baseFrequency="0.6" numOctaves="1" seed="11"/><feColorMatrix type="matrix" values="0 0 0 0 1 0 0 0 0 1 0 0 0 0 1 0 14 0 0 -8.4"/><feGaussianBlur stdDeviation="0.45"/></filter>
<filter id="n2" x="0" y="0" width="100%" height="100%" color-interpolation-filters="sRGB"><feTurbulence type="fractalNoise" baseFrequency="0.75" numOctaves="1" seed="9"/><feColorMatrix type="matrix" values="0 0 0 0 1 0 0 0 0 1 0 0 0 0 1 14 0 0 0 -9.0"/></filter>
<filter id="tx" x="0" y="0" width="100%" height="100%" color-interpolation-filters="sRGB"><feTurbulence type="fractalNoise" baseFrequency="0.6" numOctaves="2" seed="21"/><feColorMatrix type="matrix" values="4 0 0 0 -1.5 0 4 0 0 -1.5 0 0 4 0 -1.5 0 0 0 0 .10"/></filter>
</defs>
<g id="spec" clip-path="url(#sc)" shape-rendering="crispEdges" fill="none" stroke-width="2">
<rect x="841" y="508" width="516" height="378" fill="#0080ff" stroke="none"/>
<path stroke="#0062ff" d="m1196 508v27"/>
<path stroke="#0077ff" d="m842 508v28m0 8v112m2-148v28m0 8v112m2-148v28m0 8v44m2-80v28m0 8v112m2-148v28m0 8v112m2-148v28m0 8v112m2-148v28m0 8v112m2-148v28m0 8v112m2-148v28m0 8v112m2-148v28m0 8v112m2-148v28m0 8v112m2-148v28m0 8v112m2-148v28m0 8v112m2-148v28m0 8v112m2-148v28m0 8v112m2-148v28m0 8v112m2-148v28m0 8v112m294-148v27m0 9v5m4-41v27m0 9v3m2-39v28m0 8v29m6-65v28m0 5v1m0 2v167m2-203v27m2-27v28m0 8v35m6-71v27m0 9v1m2-37v28m0 8v12m2-48v28m0 8v16m2-25v7m0 2v172m4-208v28m0 8v41m4-77v28m0 8v33m2-69v28m0 8v18m2-54v28m0 8v20m2-56v28m0 5v1m0 2v166m2-202v28m0 8v19m2-55v27m0 9v1m2-37v28m0 8v26m2-62v28m0 5v1m0 2v168m2-204v28m0 8v31m2-67v28m0 8v7m6-43v27m0 9v6m2-42v28m0 5v1m0 2v165m4-201v28m0 8v14m2-50v28m0 8v21m4-57v27m2-27v27m2-27v28m0 5v1m0 2v167m2-203v28m0 8v32m2-68v28m0 5v1m0 2v170m2-206v28m0 8v9m2-45v28m0 8v13m4-49v28m0 8v8m2-44v28m0 8v24m4-60v28m0 5v1m0 2v166m2-202v28m0 5v1m0 2v169m2-205v28m0 8v32m2-68v27m2-27v28m0 8v24m2-60v28m0 8v26m2-62v28m0 5v1m0 2v167m4-203v28m0 8v32m2-68v28m0 5v1m0 2v167m2-203v28m0 8v18m2-54v28m0 8v40m2-76v28m0 8v21m6-57v28m0 8v16m2-52v28m0 8v24m4-60v18m2-18v27m2-27v28m0 8v24m2-60v28m0 5v1m0 2v164m2-200v28m0 8v18m6-54v28m0 8v18m2-54v29m0 4v1m0 2v171m4-207v28m0 5v1m0 2v169m2-205v28m0 5v1m0 2v168m2-204v28m0 8v25m4-61v28m0 8v13m2-49v28m0 8v38m2-74v28m0 8v23m2-59v28m0 8v32"/>
<path stroke="#008cff" d="m842 536v6m0 114v76m2-196v6m0 114v76m2-196v6m0 46v144m2-196v6m0 114v76m2-196v6m0 114v76m2-196v6m0 114v76m2-196v6m0 114v76m2-196v6m0 114v76m2-196v6m0 114v76m2-196v6m0 114v76m2-196v6m0 114v76m2-196v6m0 114v76m2-196v6m0 114v76m2-196v6m0 114v76m2-196v6m0 114v76m2-196v6m0 114v76m2-196v6m0 114v76m162-224v27m0 9v2m94-38v25m38 2v7m0 7v120m4-134v7m0 5v172m2-183v6m0 31v147m6-184v5m0 170v10m2-186v7m0 2v175m2-183v6m0 37v142m2-213v28m0 5v1m0 2v172m4-181v7m0 3v174m2-183v6m0 14v163m2-183v6m0 18v160m2-4v7m2-215v28m0 5v1m0 2v173m2-181v6m0 43v136m4-185v6m0 35v144m2-185v6m0 20v158m2-184v6m0 22v156m2-184v5m0 169v11m2-185v6m0 21v157m2-185v7m0 3v174m2-183v6m0 28v150m2-184v5m0 171v10m2-186v6m0 33v145m2-184v6m0 9v168m2-211v29m0 4v1m0 2v173m2-209v29m0 4v1m0 2v174m2-183v7m0 8v169m2-183v5m0 168v12m2-213v29m0 4v1m0 2v174m2-182v6m0 16v162m2-184v6m0 23v155m2-212v29m0 4v1m0 2v174m2-183v7m0 2v174m2-183v7m0 2v175m2-183v5m0 170v10m2-185v6m0 34v145m2-185v5m0 173v8m2-186v6m0 11v166m2-183v6m0 15v163m2-212v29m0 4v1m0 2v174m2-182v6m0 10v167m2-183v6m0 26v152m2-212v28m0 8v41m2-49v5m0 169v11m2-185v5m0 172v9m2-186v6m0 34v145m2-186v7m0 2v175m2-183v6m0 26v151m2-183v6m0 28v149m2-183v5m0 170v8m2-211v28m0 5v1m0 2v172m2-180v6m0 34v143m2-183v5m0 170v8m2-183v6m0 20v157m2-183v6m0 42v135m2-183v6m0 23v154m6-183v6m0 18v159m2-183v6m0 26v151m4-193v11m0 4v1m0 2v174m2-183v7m0 2v174m2-182v6m0 26v151m2-183v5m0 167v11m2-183v6m0 20v157m6-183v6m0 20v157m2-182v4m0 174v5m2-212v29m0 4v1m0 2v174m2-182v5m0 172v6m2-183v5m0 171v7m2-183v6m0 27v150m4-183v6m0 15v162m2-183v6m0 40v137m2-183v6m0 25v152m2-183v6m0 34v143"/>
<path stroke="#00a1ff" d="m842 732v26m2-26v26m2-26v26m2-26v26m2-26v26m2-26v26m2-26v26m2-26v26m2-26v26m2-26v26m2-26v26m2-26v26m2-26v26m2-26v26m2-26v26m2-26v26m2-26v26m24-250v28m0 8v110m2-146v28m0 8v110m2-146v28m0 8v110m2-146v28m0 8v110m2-146v28m0 8v110m4-146v28m0 8v110m2-146v28m0 8v110m2-146v28m0 8v110m2-146v28m0 8v110m2-146v28m0 8v110m6-146v28m0 8v110m2-146v28m0 8v110m2-146v28m0 8v110m2-146v28m0 8v110m2-146v28m0 8v110m2-146v28m0 8v110m6-146v28m0 8v110m2-146v28m0 8v110m2-146v28m0 8v110m4-146v28m0 8v110m2-146v28m0 8v110m2-146v28m0 8v110m6-146v28m0 8v110m2-146v28m0 8v110m2-146v28m0 8v110m4-146v28m0 8v110m2-146v28m0 8v110m2-146v28m0 8v110m2-146v28m0 8v110m64-119v7m0 4v121m2-159v28m0 5v1m0 2v99m2-135v28m0 5v1m0 2v98m2-134v28m0 5v1m0 2v89m84-125v27m2-27v28m0 5v1m0 2v89m2-100v4m0 4v1m0 2v115m2-151v27m0 9v6m24-42v28m0 8v11m2-47v28m0 5v1m0 2v86m6-122v28m0 8v37m2-73v28m0 5v1m0 2v83m2 42v86m2-7v18m2-47v11m0 18v18m2-46v11m0 17v18m2-18v18m2-18v18m2-45v11m0 16v18m2-47v11m0 18v18m2-45v10m0 17v18m2-230v5m0 175v13m0 19v18m2-18v18m2-47v11m0 18v18m2-47v12m0 17v18m2-46v11m0 17v18m2-43v9m0 16v18m2-230v5m0 176v12m0 19v18m2-45v10m0 17v18m2-18v18m2-45v10m0 17v18m2-46v11m0 17v18m2-46v11m0 17v18m2-45v10m0 17v18m2-46v11m0 17v18m2-47v11m0 18v18m2-46v11m0 17v18m2-44v10m0 16v18m2-46v11m0 17v18m2-47v11m0 18v18m2-229v4m0 176v13m0 18v18m2-229v4m0 177v12m0 18v18m2-47v11m0 18v18m2-45v10m0 17v18m2-229v4m0 177v12m0 18v18m2-46v11m0 17v18m2-46v11m0 17v18m2-229v4m0 177v12m0 18v18m2-48v12m0 18v18m2-47v11m0 18v18m2-45v11m0 16v18m2-45v10m0 17v18m2-44v10m0 16v18m2-47v12m0 17v18m2-46v11m0 17v18m2-229v4m0 177v12m0 18v18m2-47v12m0 17v18m2-46v11m0 17v18m2-230v6m0 43v143m0 20v18m2-45v10m0 17v18m2-44v10m0 16v18m2-45v10m0 17v18m2-47v7m0 26v9m2-42v3m2-3v2m2-2v2m2-185v5m0 175v4m2-1v2m2-2v2m2-2v1m2-1v2m2-2v1m6-1v1m2-1v1m4-183v4m0 177v2m2-2v2m2-1v1m2-1v2m2-2v1m6-1v1m2 0v1m2-184v4m0 177v2m2-1v2m2-2v2m2-2v1m4-1v1m2-1v2m2-2v2m2-2v2m2-213v29m0 4v1m0 2v240m2-276v29m0 4v1m0 2v240m2-276v29m0 4v1m0 2v240m2-276v29m0 4v1m0 2v240m2-276v29m0 4v1m0 2v240m2-276v29m0 4v1m0 2v240m2-276v29m0 4v1m0 2v240m2-276v29m0 4v1m0 2v240m2-276v29m0 4v1m0 2v240m2-276v29m0 4v1m0 2v240m2-276v29m0 4v1m0 2v240m2-276v29m0 4v1m0 2v240"/>
<path stroke="#00b6ff" d="m842 758v15m2-15v15m2-15v15m2-15v15m2-15v15m2-15v15m2-15v15m2-15v15m2-15v15m2-15v15m2-15v15m2-15v15m2-15v15m2-15v15m2-15v15m2-15v15m2-15v15m8-265v28m0 5v1m0 2v173m2-209v28m0 5v1m0 2v173m2-209v28m0 5v1m0 2v173m2-209v28m0 5v1m0 2v173m2-209v27m0 9v4m2-40v28m0 8v12m6-20v6m0 112v63m2-181v6m0 112v63m2-181v6m0 112v63m2-181v6m0 112v63m2-181v6m0 112v63m4-181v6m0 112v63m2-181v6m0 112v63m2-181v6m0 112v63m2-181v6m0 112v63m2-181v6m0 112v63m6-181v6m0 112v63m2-181v6m0 112v63m2-181v6m0 112v63m2-181v6m0 112v63m2-181v6m0 112v63m2-181v6m0 112v63m6-181v6m0 112v63m2-181v6m0 112v63m2-181v6m0 112v63m2-209v28m0 8v9m2-17v6m0 112v63m2-181v6m0 112v63m2-181v6m0 112v63m2-209v28m0 8v15m4-23v6m0 112v63m2-181v6m0 112v63m2-181v6m0 112v63m4-181v6m0 112v63m2-181v6m0 112v63m2-181v6m0 112v63m2-181v6m0 112v63m20-209v28m0 5v1m0 2v93m4-129v28m0 8v18m4-54v28m0 8v19m6-55v19m30 140v67m2-198v5m0 102v82m2-189v5m0 101v82m2-188v5m0 92v76m84-174v7m0 2v118m2-126v5m0 92v66m2-162v4m0 118v44m2-168v7m0 8v120m24-134v6m0 13v119m2-138v5m0 89v76m6-170v6m0 39v113m2-158v5m0 86v77m2 51v3m2-29v19m0 18v11m2-47v18m0 18v11m2-46v17m0 18v11m2-47v18m0 18v11m2-48v19m0 18v11m2-45v16m0 18v11m2-47v18m0 18v11m2-46v17m0 18v11m2-48v19m0 18v11m2-269v27m0 184v29m0 18v11m2-47v18m0 18v11m2-46v17m0 18v11m2-46v17m0 18v11m2-45v16m0 18v11m2-48v19m0 18v11m2-46v17m0 18v11m2-269v29m0 4v1m0 2v204m0 18v11m2-46v17m0 18v11m2-46v17m0 18v11m2-46v17m0 18v11m2-46v17m0 18v11m2-46v17m0 18v11m2-47v18m0 18v11m2-46v17m0 18v11m2-45v16m0 18v11m2-46v17m0 18v11m2-47v18m0 18v11m2-47v18m0 18v11m2-47v18m0 18v11m2-47v18m0 18v11m2-46v17m0 18v11m2-47v18m0 18v11m2-46v17m0 18v11m2-46v17m0 18v11m2-47v18m0 18v11m2-47v18m0 18v11m2-47v18m0 18v11m2-45v16m0 18v11m2-46v17m0 18v11m2-45v16m0 18v11m2-46v17m0 18v11m2-46v17m0 18v11m2-47v18m0 18v11m2-46v17m0 18v11m2-46v17m0 18v11m2-49v20m0 18v11m2-46v17m0 18v11m2-45v16m0 18v11m2-46v17m0 18v11m2-51v26m0 9v16m2-55v3m0 25v14m2-43v1m2-1v1m2-2v1m2 0v1m2-1v1m2-2v1m2 0v1m2-2v1m6-1v1m2-1v2m4-2v1m2-1v1m2-1v2m2-1v1m2-2v1m2-213v28m0 8v29m0 137v9m2-211v28m0 5v1m0 2v176m2 0v1m2 0v1m2-2v1m2 0v1m2-1v1m2-2v2m4-2v1m2 0v1m2-1v1m2-1v2m2-186v4m0 243v2m2-249v4m0 243v2m2-249v4m0 243v2m2-249v4m0 243v2m2-249v4m0 243v2m2-249v4m0 243v2m2-249v4m0 243v2m2-249v4m0 243v2m2-249v4m0 243v2m2-249v4m0 243v2m2-249v4m0 243v2m2-249v4m0 243v2"/>
<path stroke="#00caff" d="m842 773v7m2-7v7m2-7v7m2-7v7m2-7v7m2-7v7m2-7v7m2-7v7m2-7v7m2-7v7m2-7v7m2-7v7m2-7v7m2-7v7m2-7v7m2-7v7m2-7v7m8-244v5m0 176v25m2-206v5m0 176v25m2-206v5m0 176v25m2-206v5m0 176v25m2-207v7m0 6v194m2-206v6m0 14v186m6-25v25m2-25v25m2-25v25m2-25v25m2-25v25m4-25v25m2-25v25m2-25v25m2-25v25m2-25v25m6-25v25m2-25v25m2-25v25m2-25v25m2-25v25m2-25v25m6-25v25m2-25v25m2-25v25m2-206v6m0 11v189m2-25v25m2-25v25m2-25v25m2-206v6m0 17v183m4-25v25m2-25v25m2-25v25m4-25v25m2-25v25m2-25v25m2-25v25m20-206v5m0 96v76m2-205v29m0 4v1m0 2v111m2-119v6m0 20v118m4-144v6m0 21v118m6-154v10m0 4v1m0 2v114m2-150v29m0 4v1m0 2v113m2-149v29m0 4v1m0 2v107m26 83v4m2-13v11m2-12v11m2-26v24m84-71v39m2-2v5m2-1v4m2-37v36m24-32v60m2-28v33m6-45v55m2-45v49m2 5v2m2-40v9m0 48v1m2-1v1m2-1v1m2-56v8m0 47v1m2-57v8m0 48v1m2-1v1m2-1v1m2-1v1m2-1v1m2-243v7m0 2v175m0 58v1m2-1v1m2-1v1m0 27v14m2-42v1m0 27v15m2-43v1m0 26v16m2-43v1m0 26v16m2-43v1m0 26v16m2-283v4m0 236v1m0 26v16m2-43v1m0 26v16m2-43v1m0 26v16m2-43v1m0 26v16m2-43v1m0 26v16m2-43v1m0 26v16m2-43v1m0 26v16m2-43v1m0 26v16m2-43v1m0 26v16m2-43v1m0 26v16m2-43v1m0 26v16m2-43v1m0 26v16m2-43v1m0 26v16m2-43v1m0 26v16m2-43v1m0 26v16m2-43v1m0 26v16m2-43v1m0 26v16m2-43v1m0 26v16m2-43v1m0 26v16m2-43v1m0 26v16m2-43v1m0 26v16m2-43v1m0 26v16m2-43v1m0 26v16m2-43v1m0 26v16m2-43v1m0 26v16m2-43v1m0 26v16m2-43v1m0 26v16m2-43v1m0 26v16m2-43v1m0 26v16m2-43v1m0 26v16m2-43v1m0 26v16m2-43v1m0 26v16m2-43v1m0 26v16m2-43v1m0 27v15m2-95v8m0 3v14m0 14v13m2-55v2m0 29v6m2-37v1m2-2v1m4 0v1m2-2v1m4-1v1m6-1v1m4-6v3m2 2v1m2-1v1m4 0v1m2-2v1m2-186v6m0 31v137m0 9v2m2-185v5m0 179v1m2 0v1m2 0v1m2-2v1m2 0v1m2-1v1m4-6v1m2 3v1m4 0v1m2 0v2m0 20v25m0 4v2m2 10v1m2-1v1m2-1v1m2-1v1m2-1v1m2-1v1m2-1v1m2-1v1m2-1v1m2-1v1m2-1v1m2-1v1"/>
<path stroke="#00dfff" d="m842 780v5m2-5v5m2-5v5m2-5v5m2-5v5m2-5v5m2-5v5m2-5v5m2-5v5m2-5v5m2-5v5m2-5v5m2-5v5m2-5v5m2-5v5m2-5v5m2-5v5m8-43v15m2-15v15m2-15v15m2-15v15m2-15v15m2-15v15m6-15v15m2-15v15m2-15v15m2-15v15m2-15v15m4-15v15m2-15v15m2-15v15m2-15v15m2-15v15m6-15v15m2-15v15m2-15v15m2-15v15m2-15v15m2-15v15m6-15v15m2-15v15m2-15v15m2-15v15m2-15v15m2-15v15m2-15v15m2-15v15m2-249v29m0 4v1m0 2v213m2-15v15m2-15v15m2-15v15m2-249v29m0 4v1m0 2v213m2-15v15m2-15v15m2-15v15m2-15v15m10-249v27m0 9v90m10 79v44m2-220v4m0 114v98m2-73v75m4-74v73m2-246v29m0 4v1m0 2v151m4-158v4m0 117v92m2-213v4m0 116v92m2-212v4m0 110v96m26-9v3m2-5v3m2-4v3m2-5v3m16-228v29m0 4v1m0 2v145m4-181v28m0 8v115m2-151v28m0 5v1m0 2v128m62 29v4m2-1v3m2 0v2m2-3v3m24 25v3m2 2v3m6 7v3m2 1v3m2 4v2m2-54v12m0 58v1m2-1v1m2-1v1m2-67v10m0 56v1m2-69v11m0 57v1m2-1v1m2-1v1m2-1v1m2-1v1m2-1v1m2-1v1m0 26v15m2-42v1m0 25v1m0 14v1m2-42v1m0 25v1m0 15v1m2-43v1m0 24v1m0 16v1m2-43v1m0 24v1m0 16v1m2-43v1m0 24v1m0 16v1m2-43v1m0 24v1m0 16v1m2-43v1m0 24v1m0 16v1m2-43v1m0 24v1m0 16v1m2-43v1m0 24v1m0 16v1m2-43v1m0 24v1m0 16v1m2-43v1m0 24v1m0 16v1m2-43v1m0 24v1m0 16v1m2-43v1m0 24v1m0 16v1m2-43v1m0 24v1m0 16v1m2-43v1m0 24v1m0 16v1m2-43v1m0 24v1m0 16v1m2-43v1m0 24v1m0 16v1m2-43v1m0 24v1m0 16v1m2-43v1m0 24v1m0 16v1m2-43v1m0 24v1m0 16v1m2-43v1m0 24v1m0 16v1m2-43v1m0 24v1m0 16v1m2-43v1m0 24v1m0 16v1m2-43v1m0 24v1m0 16v1m2-43v1m0 24v1m0 16v1m2-43v1m0 24v1m0 16v1m2-43v1m0 24v1m0 16v1m2-43v1m0 24v1m0 16v1m2-43v1m0 24v1m0 16v1m2-43v1m0 24v1m0 16v1m2-43v1m0 24v1m0 16v1m2-43v1m0 24v1m0 16v1m2-43v1m0 24v1m0 16v1m2-43v1m0 24v1m0 16v1m2-43v1m0 24v1m0 16v1m2-43v1m0 24v1m0 16v1m2-43v1m0 24v1m0 16v1m2-43v1m0 24v1m0 16v1m2-43v1m0 25v1m0 15v1m2-88v3m0 41v1m0 26v16m2-96v1m0 14v14m0 6v18m0 28v14m2-96v1m0 27v10m0 14v2m2-55v1m2-1v1m4-1v1m2-1v1m2-1v1m2-9v6m2-11v12m2 1v1m2-1v1m2-215v28m0 8v172m0 3v2m2 1v1m2-1v1m2-1v1m4-1v1m2-2v1m2-1v1m2 0v1m2 0v1m2-2v1m6-1v1m2-215v28m0 8v173m0 1v3m2 1v1m2-1v1m2 0v1m0 22v23m0 5v3m2-52v4m0 8v8m0 25v4m0 2v2m0 27v15m2-33v2m2-2v2m2-2v2m2-2v2m2-2v2m2-2v2m2-2v2m2-2v2m2-2v2m2-2v2m2-2v2m2-2v2"/>
<path stroke="#00f4ff" d="m842 542v2m0 241v4m2-247v2m0 241v4m2-247v2m0 241v4m2-247v2m0 241v4m2-247v2m0 241v4m2-247v2m0 241v4m2-247v2m0 241v4m2-247v2m0 241v4m2-247v2m0 241v4m2-247v2m0 241v4m2-247v2m0 241v4m2-247v2m0 241v4m2-247v2m0 241v4m2-247v2m0 241v4m2-247v2m0 241v4m2-247v2m0 241v4m2-247v2m0 241v4m2-29v7m2-259v28m0 5v227m2-260v27m0 7v226m2-226v2m0 213v11m2-226v2m0 213v11m2-226v2m0 213v11m2-226v2m0 213v11m2-226v2m0 213v11m2-226v2m0 213v11m2-260v28m0 6v226m2-260v28m0 6v226m2-226v2m0 213v11m2-226v2m0 213v11m2-226v2m0 213v11m2-226v2m0 213v11m2-226v2m0 213v11m2-260v28m0 6v226m2-226v2m0 213v11m2-226v2m0 213v11m2-226v2m0 213v11m2-226v2m0 213v11m2-226v2m0 213v11m2-260v28m0 6v226m2-260v29m0 4v227m2-226v2m0 213v11m2-226v2m0 213v11m2-226v2m0 213v11m2-226v2m0 213v11m2-226v2m0 213v11m2-226v2m0 213v11m2-260v27m0 7v226m2-260v28m0 6v226m2-226v2m0 213v11m2-226v2m0 213v11m2-226v2m0 213v11m0 79v1m2-306v2m0 213v11m0 72v9m2-307v2m0 213v11m0 70v11m2-307v2m0 213v11m0 70v11m2-307v2m0 213v11m0 70v11m2-307v2m0 213v11m0 70v11m2-312v4m0 1v2m0 213v11m0 70v11m2-307v2m0 213v11m0 70v11m2-307v2m0 213v11m0 70v11m2-307v2m0 213v11m0 70v11m2-312v4m0 1v2m0 213v11m0 70v11m2-307v2m0 213v11m0 70v11m2-307v2m0 213v11m0 75v6m2-307v2m0 213v11m2-226v2m0 213v11m6-260v28m0 5v137m2-170v28m0 6v100m2-107v9m0 90v76m10-168v2m0 213v3m2-218v2m0 209v5m2-216v2m0 211v3m4-216v2m0 210v4m2-221v4m0 1v2m0 151v60m4-213v2m0 206v5m2-213v2m0 205v5m2-212v2m0 203v5m26-210v2m0 197v2m2-201v2m0 195v2m2-199v2m0 194v2m2-198v2m0 192v3m16-202v4m0 1v2m0 145v34m4-187v8m0 115v59m2-182v5m0 1v2m0 128v45m62-175v2m0 161v3m2-166v2m0 163v2m2-167v2m0 165v3m2-170v2m0 165v3m2-204v28m0 6v105m2-139v28m0 6v104m20-104v2m0 193v3m2-198v2m0 198v3m2-237v28m0 6v101m2-135v28m0 6v119m2-119v2m0 208v3m2-213v2m0 212v3m2-217v2m0 218v2m2-256v29m0 4v167m0 71v1m0 24v16m2-278v2m0 235v1m0 25v14m2-277v2m0 235v1m0 25v14m2-311v28m0 5v171m0 67v1m0 25v14m2-311v28m0 5v169m0 69v1m0 25v14m2-277v2m0 235v1m0 25v14m2-277v2m0 235v1m0 25v14m2-277v2m0 235v1m0 25v14m2-277v2m0 235v1m0 25v14m2-277v2m0 235v1m0 24v16m2-278v2m0 235v1m0 24v1m0 15v1m2-279v2m0 235v1m0 23v1m0 16v2m2-280v2m0 235v1m0 22v2m0 17v1m2-280v2m0 235v1m0 22v1m0 18v1m2-280v2m0 235v1m0 22v1m0 18v1m2-280v2m0 235v1m0 22v1m0 18v1m2-280v2m0 235v1m0 22v1m0 18v1m2-280v2m0 235v1m0 22v1m0 18v1m2-280v2m0 235v1m0 22v1m0 18v1m2-280v2m0 235v1m0 22v1m0 18v1m2-280v2m0 235v1m0 22v1m0 18v1m2-280v2m0 235v1m0 22v1m0 18v1m2-280v2m0 235v1m0 22v1m0 18v1m2-280v2m0 235v1m0 22v1m0 18v1m2-280v2m0 235v1m0 22v1m0 18v1m2-280v2m0 235v1m0 22v1m0 18v1m2-280v2m0 235v1m0 22v1m0 18v1m2-280v2m0 235v1m0 22v1m0 18v1m2-280v2m0 235v1m0 22v1m0 18v1m2-280v2m0 235v1m0 22v1m0 18v1m2-280v2m0 235v1m0 22v1m0 18v1m2-280v2m0 235v1m0 22v1m0 18v1m2-280v2m0 235v1m0 22v1m0 18v1m2-280v2m0 235v1m0 22v1m0 18v1m2-280v2m0 235v1m0 22v1m0 18v1m2-280v2m0 235v1m0 22v1m0 18v1m2-280v2m0 235v1m0 22v1m0 18v1m2-280v2m0 235v1m0 22v1m0 18v1m2-280v2m0 235v1m0 22v1m0 18v1m2-280v2m0 235v1m0 22v1m0 18v1m2-280v2m0 235v1m0 22v1m0 18v1m2-280v2m0 235v1m0 22v1m0 18v1m2-280v2m0 235v1m0 22v1m0 18v1m2-280v2m0 235v1m0 22v1m0 18v1m2-280v2m0 235v1m0 22v1m0 18v1m2-280v2m0 235v1m0 22v1m0 18v1m2-280v2m0 235v1m0 22v1m0 18v1m2-280v2m0 235v1m0 22v1m0 18v1m2-280v2m0 235v1m0 22v1m0 18v1m2-280v2m0 235v1m0 22v2m0 17v1m2-280v2m0 234v2m0 23v1m0 16v2m2-280v2m0 181v9m0 2v3m0 38v2m0 25v1m0 14v2m2-279v2m0 180v1m0 14v12m0 10v14m0 2v1m0 27v15m2-278v2m0 179v1m0 16v38m0 27v15m2-278v2m0 179v1m0 16v38m0 27v15m2-278v2m0 179v1m0 16v38m0 27v15m2-278v2m0 179v1m0 16v38m0 27v15m2-278v2m0 179v1m0 16v38m0 27v15m2-278v2m0 179v1m0 16v38m0 27v15m2-312v28m0 6v172m0 6v1m0 19v38m0 27v15m2-312v29m0 4v168m0 12v1m0 18v38m0 27v15m2-278v2m0 179v1m0 16v38m0 27v15m2-278v2m0 179v1m0 16v38m0 27v15m2-284v8m0 177v1m0 18v38m0 27v15m2-278v2m0 179v1m0 16v38m0 27v15m2-278v2m0 179v1m0 16v38m0 27v15m2-278v2m0 179v1m0 16v38m0 27v15m2-278v2m0 179v1m0 16v38m0 27v15m2-278v2m0 179v1m0 16v38m0 27v15m2-278v2m0 178v1m0 17v38m0 27v15m2-278v2m0 178v1m0 17v38m0 27v15m2-278v2m0 179v1m0 16v38m0 27v15m2-278v2m0 180v1m0 15v38m0 27v15m2-278v2m0 179v1m0 16v38m0 27v15m2-278v2m0 179v1m0 16v38m0 27v15m2-278v2m0 179v1m0 16v38m0 27v15m2-278v2m0 179v1m0 16v38m0 27v15m2-284v8m0 177v1m0 18v38m0 27v15m2-278v2m0 179v1m0 16v38m0 27v15m2-278v2m0 179v1m0 16v38m0 27v15m2-278v2m0 180v1m0 14v7m0 23v5m0 3v1m0 27v15m2-278v2m0 185v8m0 41v1m0 25v1m0 15v1m2-279v2m0 245v2m2-249v2m0 245v2m2-249v2m0 245v2m2-249v2m0 245v2m2-249v2m0 245v2m2-249v2m0 245v2m2-249v2m0 245v2m2-249v2m0 245v2m2-249v2m0 245v2m2-249v2m0 245v2m2-249v2m0 245v2m2-249v2m0 245v2"/>
<rect x="841" y="508" width="516" height="378" fill="#fff" stroke="none" opacity=".75" filter="url(#n0)"/>
<rect x="841" y="508" width="516" height="378" fill="#fff" stroke="none" opacity=".9" filter="url(#n1)"/>
<path stroke="#0afff5" d="m842 789v15m2-15v15m2-15v15m2-15v15m2-15v15m2-15v15m2-15v15m2-15v15m2-15v15m2-15v15m2-15v15m2-15v15m2-15v15m2-15v15m2-15v15m2-15v15m2-15v15m2-296v28m0 5v219m0 7v5m2-236v5m0 227v4m2-237v7m0 226v4m2-4v4m2-4v4m2-4v4m2-4v4m2-4v4m2-4v4m2-236v6m0 226v4m2-236v6m0 226v4m2-4v4m2-4v4m2-4v4m2-4v4m2-4v4m2-236v6m0 226v4m2-4v4m2-4v4m2-4v4m2-4v4m2-4v4m2-236v6m0 226v4m2-235v4m0 227v4m2-4v4m2-4v4m2-4v4m2-4v4m2-4v4m2-4v4m2-237v7m0 226v4m2-236v6m0 226v4m2-4v4m2-4v4m0 71v6m2-81v4m0 62v13m0 1v2m2-82v4m0 61v7m0 9v1m2-82v4m0 61v5m0 11v1m2-82v4m0 61v5m0 11v1m2-82v4m0 61v5m0 11v1m2-82v4m0 61v5m0 11v1m2-82v4m0 61v5m0 11v1m2-82v4m0 61v5m0 11v1m2-82v4m0 61v5m0 11v1m2-82v4m0 61v5m0 11v1m2-82v4m0 61v5m0 11v1m2-82v4m0 61v5m0 11v1m2-82v4m0 62v9m0 6v1m2-82v4m0 66v11m2-81v4m2-264v28m0 6v111m2-145v28m0 5v141m2-146v5m0 137v81m2-223v6m0 100v82m2-14v50m0 72v6m2-6v7m2-7v7m2-331v28m0 5v132m0 159v7m2-331v29m0 4v150m0 141v7m2-79v3m0 69v7m2-81v3m0 71v7m2-81v3m0 71v7m2-331v29m0 4v153m0 138v7m2-81v2m0 72v7m2-84v3m0 74v7m2-331v28m0 5v131m0 160v7m2-84v3m0 74v9m2-87v3m0 75v12m2-92v3m0 78v6m4-331v28m0 5v123m2-156v28m0 6v110m8-144v28m0 6v117m2-151v28m0 6v106m8-140v28m0 6v116m2 85v2m2-4v3m2-4v2m2-3v2m16-18v4m2-219v27m0 7v74m2 102v5m2-6v5m6-214v28m0 5v127m8-160v28m0 6v106m18-140v27m0 7v83m30 83v3m2-2v3m2 0v2m2-2v3m2-179v6m0 105v59m2-170v6m0 104v62m20 32v3m2 2v2m2-211v6m0 101v87m2-194v6m0 119v83m2 11v2m2 2v2m2 3v2m2-229v4m0 239v1m0 22v1m0 16v1m2-41v1m0 23v1m0 14v2m2-41v1m0 23v1m0 14v2m2-285v5m0 239v1m0 23v1m0 14v2m2-285v5m0 239v1m0 23v1m0 14v2m2-41v1m0 23v1m0 14v2m2-41v1m0 23v1m0 14v2m2-41v1m0 23v1m0 14v2m2-41v1m0 23v1m0 14v2m2-41v1m0 22v1m0 16v1m2-41v1m0 22v1m0 17v1m2-42v1m0 21v1m0 19v1m2-43v1m0 20v1m0 20v2m2-44v1m0 20v1m0 20v2m2-44v1m0 20v1m0 20v2m2-44v1m0 20v1m0 20v2m2-44v1m0 20v1m0 20v2m2-44v1m0 20v1m0 20v2m2-44v1m0 20v1m0 20v2m2-44v1m0 20v1m0 20v2m2-44v1m0 20v1m0 20v2m2-44v1m0 20v1m0 20v2m2-44v1m0 20v1m0 20v2m2-44v1m0 20v1m0 20v2m2-44v1m0 20v1m0 20v2m2-44v1m0 20v1m0 20v2m2-44v1m0 20v1m0 20v2m2-44v1m0 20v1m0 20v2m2-44v1m0 20v1m0 20v2m2-44v1m0 20v1m0 20v2m2-44v1m0 20v1m0 20v2m2-44v1m0 20v1m0 20v2m2-44v1m0 20v1m0 20v2m2-44v1m0 20v1m0 20v2m2-44v1m0 20v1m0 20v2m2-44v1m0 20v1m0 20v2m2-44v1m0 20v1m0 20v2m2-44v1m0 20v1m0 20v2m2-44v1m0 20v1m0 20v2m2-44v1m0 20v1m0 20v2m2-44v1m0 20v1m0 20v2m2-44v1m0 20v1m0 20v2m2-44v1m0 20v1m0 20v2m2-44v1m0 20v1m0 20v2m2-44v1m0 20v1m0 20v2m2-44v1m0 20v1m0 20v2m2-44v1m0 20v1m0 20v2m2-44v1m0 20v1m0 20v2m2-44v1m0 20v1m0 20v2m2-44v1m0 20v1m0 20v2m2-44v1m0 21v1m0 19v1m2-89v2m0 43v1m0 23v1m0 17v1m2-97v2m0 10v2m0 39v1m0 25v1m0 15v2m2-98v1m0 13v2m0 38v1m0 25v1m0 15v1m2-97v2m0 12v2m0 38v1m0 25v1m0 15v1m2-97v2m0 12v2m0 38v1m0 25v1m0 15v1m2-97v2m0 12v2m0 38v1m0 25v1m0 15v1m2-97v2m0 12v2m0 38v1m0 25v1m0 15v1m2-97v2m0 12v2m0 38v1m0 25v1m0 15v1m2-285v6m0 179v2m0 15v2m0 38v1m0 25v1m0 15v1m2-284v4m0 181v1m0 15v2m0 38v1m0 25v1m0 15v1m2-97v2m0 12v2m0 38v1m0 25v1m0 15v1m2-97v2m0 12v2m0 38v1m0 25v1m0 15v1m2-99v1m0 15v2m0 38v1m0 25v1m0 15v1m2-97v1m0 13v2m0 38v1m0 25v1m0 15v1m2-97v1m0 13v2m0 38v1m0 25v1m0 15v1m2-97v2m0 12v2m0 38v1m0 25v1m0 15v1m2-97v2m0 12v2m0 38v1m0 25v1m0 15v1m2-97v2m0 12v2m0 38v1m0 25v1m0 15v1m2-98v1m0 14v2m0 38v1m0 25v1m0 15v1m2-98v1m0 14v2m0 38v1m0 25v1m0 15v1m2-97v2m0 12v2m0 38v1m0 25v1m0 15v1m2-96v1m0 12v2m0 38v1m0 25v1m0 15v1m2-97v1m0 13v2m0 38v1m0 25v1m0 15v1m2-97v2m0 12v2m0 38v1m0 25v1m0 15v1m2-97v2m0 12v2m0 38v1m0 25v1m0 15v1m2-97v2m0 12v2m0 38v1m0 25v1m0 15v1m2-99v1m0 15v2m0 38v1m0 25v1m0 15v1m2-97v2m0 12v2m0 38v1m0 25v1m0 15v1m2-97v2m0 12v2m0 38v1m0 25v1m0 15v1m2-96v6m0 5v3m0 39v2m0 24v1m0 15v2m2-43v1m0 23v1m0 17v2m2-32v7m2-7v7m2-7v7m2-7v7m2-7v7m2-7v7m2-7v7m2-7v7m2-7v7m2-7v7m2-7v7m2-7v7"/>
<path stroke="#1fffe0" d="m842 804v38m2-38v38m2-38v38m2-38v38m2-38v38m2-38v38m2-38v38m2-38v38m2-38v38m2-38v38m2-38v38m2-38v38m2-38v38m2-38v38m2-38v38m2-38v38m2-38v38m2-306v5m0 231v5m2-5v5m2-5v5m2-5v5m2-5v5m2-5v5m2-5v5m2-5v5m2-5v5m2-5v5m2-5v5m2-5v5m2-5v5m2-5v5m2-5v5m2-5v5m2-5v5m2-5v5m2-5v5m2-5v5m2-5v5m2-5v5m2-5v5m2-5v5m2-5v5m2-5v5m2-5v5m2-5v5m2-5v5m2-5v5m2-5v5m2-5v5m2-5v5m0 63v9m2-77v5m0 57v9m0 6v1m2-78v5m0 56v1m0 16v1m2-79v5m0 55v1m0 17v1m2-79v5m0 55v1m0 17v1m2-79v5m0 55v1m0 17v1m2-79v5m0 55v1m0 17v1m2-79v5m0 55v1m0 17v1m2-79v5m0 55v1m0 17v1m2-79v5m0 55v1m0 17v1m2-79v5m0 55v1m0 17v1m2-79v5m0 55v1m0 17v1m2-79v5m0 55v1m0 17v1m2-79v5m0 55v1m0 17v1m2-79v5m0 55v2m0 16v1m2-79v5m0 56v5m0 11v2m2-79v5m0 57v16m2-314v6m0 111v105m2-222v5m0 141v79m2-2v5m2-40v38m0 69v13m2-84v4m0 66v2m0 6v12m2-342v29m0 4v156m0 133v2m0 7v11m2-342v29m0 4v148m0 141v2m0 7v11m2-314v5m0 132v84m0 73v2m0 7v11m2-313v4m0 150v67m0 72v2m0 7v11m2-87v2m0 65v2m0 7v11m2-89v3m0 66v2m0 7v11m2-89v3m0 66v2m0 7v11m2-313v4m0 153v63m0 73v2m0 7v11m2-90v3m0 67v2m0 7v11m2-92v3m0 69v2m0 7v11m2-314v5m0 131v81m0 77v2m0 7v11m2-92v2m0 70v2m0 9v9m2-93v2m0 71v2m0 12v6m2-95v3m0 73v2m0 6v10m2-341v29m0 4v149m0 143v9m2-306v5m0 123v83m2-211v6m0 110v93m8-209v6m0 117v83m2-206v6m0 106v91m2-231v27m0 7v80m4-114v190m2-162v6m0 116v78m2 9v2m2-3v2m2-4v3m2-4v2m16-16v3m2-195v7m0 74v83m2 24v3m2-4v3m2-217v28m0 5v122m2-155v29m0 4v147m2-152v5m0 127v46m6-206v27m0 7v73m2-79v6m0 106v58m2-198v28m0 6v107m4-141v27m0 7v87m2-121v28m0 6v116m8-150v28m0 6v115m2-122v7m0 83v74m2-191v29m0 4v147m6-180v28m0 5v125m2-158v28m0 6v116m6-150v28m0 6v100m4-134v27m0 7v82m2-116v27m0 7v79m4-113v28m0 6v97m2-131v28m0 6v105m2 64v2m2-1v2m2 0v2m2-1v2m2-11v6m2-4v6m2-206v28m0 5v128m2-161v28m0 5v138m14-171v27m0 7v74m2 127v2m2 2v2m2-19v15m2-1v6m2 7v2m2 2v2m2 3v2m2 13v1m0 20v1m0 18v2m2-42v1m0 21v1m0 17v1m2-41v1m0 21v1m0 17v1m2-41v1m0 21v1m0 17v1m2-41v1m0 21v1m0 17v1m2-41v1m0 21v1m0 17v1m2-41v1m0 21v1m0 17v1m2-41v1m0 21v1m0 17v1m2-41v1m0 21v1m0 17v1m2-41v1m0 20v1m0 18v2m2-42v1m0 19v2m0 19v2m2-43v1m0 19v1m0 21v10m2-52v1m0 18v1m0 23v21m2-64v2m0 17v1m0 23v22m2-65v2m0 17v1m0 23v22m2-65v2m0 17v1m0 23v22m2-65v2m0 17v1m0 23v22m2-65v2m0 17v1m0 23v22m2-65v2m0 17v1m0 23v22m2-65v2m0 17v1m0 23v22m2-65v2m0 17v1m0 23v22m2-65v2m0 17v1m0 23v22m2-65v2m0 17v1m0 23v22m2-65v2m0 17v1m0 23v22m2-65v2m0 17v1m0 23v22m2-65v2m0 17v1m0 23v22m2-65v2m0 17v1m0 23v22m2-65v2m0 17v1m0 23v22m2-65v2m0 17v1m0 23v22m2-65v2m0 17v1m0 23v22m2-65v2m0 17v1m0 23v22m2-65v2m0 17v1m0 23v22m2-65v2m0 17v1m0 23v22m2-65v2m0 17v1m0 23v22m2-65v2m0 17v1m0 23v22m2-65v2m0 17v1m0 23v22m2-65v2m0 17v1m0 23v22m2-65v2m0 17v1m0 23v22m2-65v2m0 17v1m0 23v22m2-65v2m0 17v1m0 23v22m2-65v2m0 17v1m0 23v22m2-65v2m0 17v1m0 23v22m2-65v2m0 17v1m0 23v22m2-65v2m0 17v1m0 23v22m2-65v2m0 17v1m0 23v22m2-65v2m0 17v1m0 23v22m2-65v2m0 17v1m0 23v22m2-65v2m0 17v1m0 23v22m2-65v2m0 17v1m0 23v22m2-65v1m0 18v1m0 23v21m2-64v1m0 19v1m0 21v8m2-51v1m0 21v1m0 19v2m2-97v10m0 42v2m0 22v1m0 18v1m2-98v7m0 4v2m0 41v1m0 23v1m0 17v2m2-97v7m0 3v2m0 41v1m0 23v1m0 17v2m2-97v8m0 1v3m0 41v1m0 23v1m0 17v2m2-97v7m0 3v2m0 41v1m0 23v1m0 17v2m2-97v7m0 3v2m0 41v1m0 23v1m0 17v2m2-97v7m0 3v2m0 41v1m0 23v1m0 17v2m2-100v1m0 12v2m0 41v1m0 23v1m0 17v2m2-100v1m0 12v2m0 41v1m0 23v1m0 17v2m2-97v7m0 3v2m0 41v1m0 23v1m0 17v2m2-97v7m0 3v2m0 41v1m0 23v1m0 17v2m2-100v1m0 12v2m0 41v1m0 23v1m0 17v2m2-98v7m0 4v2m0 41v1m0 23v1m0 17v2m2-98v8m0 3v2m0 41v1m0 23v1m0 17v2m2-97v7m0 3v2m0 41v1m0 23v1m0 17v2m2-97v8m0 2v2m0 41v1m0 23v1m0 17v2m2-97v7m0 3v2m0 41v1m0 23v1m0 17v2m2-99v1m0 11v2m0 41v1m0 23v1m0 17v2m2-99v2m0 10v2m0 41v1m0 23v1m0 17v2m2-97v7m0 3v2m0 41v1m0 23v1m0 17v2m2-97v8m0 1v3m0 41v1m0 23v1m0 17v2m2-98v7m0 4v2m0 41v1m0 23v1m0 17v2m2-97v8m0 1v3m0 41v1m0 23v1m0 17v2m2-97v8m0 1v3m0 41v1m0 23v1m0 17v2m2-97v7m0 3v2m0 41v1m0 23v1m0 17v2m2-100v1m0 12v2m0 41v1m0 23v1m0 17v2m2-97v7m0 3v2m0 41v1m0 23v1m0 17v2m2-97v7m0 3v2m0 41v1m0 23v1m0 17v2m2-92v5m0 44v1m0 22v1m0 18v1m2-43v1m0 21v1m0 20v1m2-26v43m2-43v43m2-43v43m2-43v43m2-43v43m2-43v43m2-43v43m2-43v43m2-43v43m2-43v43m2-43v43m2-43v43"/>
<path stroke="#34ffcb" d="m842 842v20m2-20v20m2-20v20m2-20v20m2-20v20m2-20v20m2-20v20m2-20v20m2-20v20m2-20v20m2-20v20m2-20v20m2-20v20m2-20v20m2-20v20m2-20v20m2-20v20m2-85v2m2-2v2m2-2v2m2-2v2m2-2v2m2-2v2m2-2v2m2-2v2m2-2v2m2-2v2m2-2v2m2-2v2m2-2v2m2-2v2m2-2v2m2-2v2m2-2v2m2-2v2m2-2v2m2-2v2m0 68v1m2-71v2m0 65v5m2-72v2m0 65v5m2-72v2m0 65v5m2-72v2m0 65v5m2-72v2m0 65v5m2-72v2m0 65v5m2-72v2m0 65v5m2-72v2m0 65v5m2-72v2m0 65v5m2-72v2m0 65v5m2-72v2m0 63v7m2-72v2m0 57v14m2-73v2m0 54v7m0 9v2m2-74v2m0 53v2m0 16v1m2-74v2m0 52v2m0 18v1m2-75v2m0 52v1m0 19v1m2-75v2m0 52v1m0 19v1m2-75v2m0 52v1m0 19v1m2-75v2m0 52v1m0 19v1m2-75v2m0 52v1m0 19v1m2-75v2m0 52v1m0 19v1m2-75v2m0 52v1m0 19v1m2-75v2m0 52v1m0 19v1m2-75v2m0 52v1m0 19v1m2-75v2m0 52v1m0 19v1m2-75v2m0 52v1m0 19v1m2-75v2m0 52v1m0 19v1m2-75v2m0 53v1m0 18v1m2-75v2m0 54v1m0 16v1m2-93v6m2-3v4m2-1v3m0 64v9m2-78v3m0 64v2m0 13v6m2-86v3m0 62v1m0 20v1m2-314v4m0 156v64m0 68v1m0 20v1m2-314v4m0 148v71m0 69v1m0 20v1m2-94v5m0 67v1m0 20v1m2-93v5m0 66v1m0 20v1m2-86v2m0 62v1m0 20v1m2-87v2m0 63v1m0 20v1m2-87v2m0 63v1m0 20v1m2-94v4m0 68v1m0 20v1m2-88v2m0 64v1m0 20v1m2-90v3m0 65v1m0 20v1m2-98v6m0 70v1m0 20v1m2-91v3m0 66v1m0 20v1m2-92v3m0 67v1m0 20v1m2-93v3m0 68v2m0 18v2m2-314v4m0 149v62m0 78v3m0 9v7m2-102v6m0 81v7m2-96v7m8-10v6m2-9v8m2-212v7m0 80v79m2-193v190m2 0v44m2-6v7m2 4v2m2-3v2m2-3v2m2-4v2m2-237v27m0 7v72m2-106v28m0 5v133m8-166v28m0 6v111m2-145v29m0 4v150m2 39v3m2-34v26m2 1v4m2-5v3m2-192v5m0 122v54m2-180v4m0 147v30m2-4v6m2-212v28m0 6v101m4-108v7m0 73v84m2 7v7m2-177v6m0 107v56m2-197v28m0 5v142m2-148v7m0 87v71m2-164v6m0 116v45m8-167v6m0 115v46m2-4v8m2-170v4m0 147v18m6-170v5m0 125v38m2-168v6m0 116v46m6-168v6m0 100v60m4-167v7m0 82v75m2-164v7m0 79v78m4-163v6m0 97v62m2-165v6m0 105v55m2 11v3m2-2v2m2 0v2m2-1v3m2-8v5m2-3v4m2-182v5m0 128v45m2-178v5m0 138v37m2-208v28m0 5v143m12-149v7m0 74v83m2 46v2m2 2v2m2-6v4m2 1v3m2 6v2m2 2v2m2 3v1m2 13v1m0 18v1m0 21v1m2-42v1m0 19v1m0 19v1m2-21v1m0 19v1m2-21v1m0 19v1m2-21v1m0 19v1m2-21v1m0 19v1m2-21v1m0 19v1m2-21v1m0 19v1m2-21v1m0 19v1m2-41v1m0 18v1m0 21v1m2-42v2m0 16v1m0 23v21m2-63v19m0 32v14m2-65v18m0 45v4m2-66v17m0 46v3m2-66v17m0 46v3m2-66v17m0 46v3m2-66v17m0 46v3m2-66v17m0 46v3m2-66v17m0 46v3m2-66v17m0 46v3m2-66v17m0 46v3m2-66v17m0 46v3m2-66v17m0 46v3m2-66v17m0 46v3m2-66v17m0 46v3m2-66v17m0 46v3m2-66v17m0 46v3m2-66v17m0 46v3m2-66v17m0 46v3m2-66v17m0 46v3m2-66v17m0 46v3m2-66v17m0 46v3m2-66v17m0 46v3m2-66v17m0 46v3m2-66v17m0 46v3m2-66v17m0 46v3m2-66v17m0 46v3m2-66v17m0 46v3m2-66v17m0 46v3m2-66v17m0 46v3m2-66v17m0 46v3m2-66v17m0 46v3m2-66v17m0 46v3m2-66v17m0 46v3m2-66v17m0 46v3m2-66v17m0 46v3m2-66v17m0 46v3m2-66v17m0 46v3m2-66v17m0 46v3m2-67v18m0 45v4m2-67v1m0 17v1m0 30v16m2-66v1m0 19v1m0 22v21m2-43v1m0 20v5m2-96v4m0 44v1m0 21v1m0 20v4m2-94v3m0 44v1m0 21v1m0 20v4m2-93v1m0 45v1m0 21v1m0 20v4m2-94v3m0 44v1m0 21v1m0 20v4m2-94v3m0 44v1m0 21v1m0 20v4m2-94v3m0 44v1m0 21v1m0 20v4m2-103v1m0 4v7m0 44v1m0 21v1m0 20v4m2-103v3m0 1v8m0 44v1m0 21v1m0 20v4m2-94v3m0 44v1m0 21v1m0 20v4m2-94v3m0 44v1m0 21v1m0 20v4m2-103v12m0 44v1m0 21v1m0 20v4m2-95v4m0 44v1m0 21v1m0 20v4m2-94v3m0 44v1m0 21v1m0 20v4m2-94v3m0 44v1m0 21v1m0 20v4m2-93v2m0 44v1m0 21v1m0 20v4m2-94v3m0 44v1m0 21v1m0 20v4m2-102v11m0 44v1m0 21v1m0 20v4m2-101v10m0 44v1m0 21v1m0 20v4m2-94v3m0 44v1m0 21v1m0 20v4m2-93v1m0 45v1m0 21v1m0 20v4m2-95v4m0 44v1m0 21v1m0 20v4m2-93v1m0 45v1m0 21v1m0 20v4m2-93v1m0 45v1m0 21v1m0 20v4m2-94v3m0 44v1m0 21v1m0 20v4m2-103v12m0 44v1m0 21v1m0 20v4m2-94v3m0 44v1m0 21v1m0 20v4m2-94v3m0 44v1m0 21v1m0 20v4m2-46v1m0 20v1m0 20v6m2-48v1m0 19v1m0 22v22m2-5v24m2-24v24m2-24v24m2-24v24m2-24v24m2-24v24m2-24v24m2-24v24m2-24v24m2-24v24m2-24v24m2-24v24"/>
<path stroke="#49ffb6" d="m842 862v13m2-13v13m2-13v13m2-13v13m2-13v13m2-13v13m2-13v13m2-13v13m2-13v13m2-13v13m2-13v13m2-13v13m2-13v13m2-13v13m2-13v13m2-13v13m2-13v13m2-96v1m0 25v8m0 22v14m2-70v1m0 25v8m0 22v6m2-62v1m0 25v8m0 23v4m2-61v1m0 25v8m0 23v4m2-61v1m0 25v8m0 23v4m2-61v1m0 25v8m0 23v4m2-61v1m0 25v8m0 23v4m2-61v1m0 25v8m0 23v4m2-61v1m0 25v8m0 23v4m2-61v1m0 25v8m0 23v4m2-61v1m0 25v8m0 23v4m2-61v1m0 25v8m0 23v4m2-61v1m0 25v8m0 23v4m2-61v1m0 25v8m0 23v4m2-61v1m0 25v8m0 23v4m2-61v1m0 25v8m0 23v4m2-61v1m0 25v8m0 22v5m2-61v1m0 25v8m0 21v7m2-62v1m0 25v8m0 21v15m2-70v1m0 25v8m0 21v13m0 1v2m2-71v1m0 25v8m0 21v10m0 5v1m2-71v1m0 25v8m0 21v10m0 5v1m2-71v1m0 25v8m0 21v10m0 5v1m2-71v1m0 25v8m0 21v10m0 5v1m2-71v1m0 25v8m0 21v10m0 5v1m2-71v1m0 25v8m0 21v10m0 5v1m2-71v1m0 25v8m0 21v10m0 5v1m2-71v1m0 25v8m0 21v10m0 5v1m2-71v1m0 25v8m0 21v10m0 5v1m2-71v1m0 25v8m0 21v10m0 5v1m2-71v1m0 25v8m0 21v8m0 7v2m2-72v1m0 25v8m0 20v3m0 14v1m2-72v1m0 25v8m0 19v1m0 18v1m2-73v1m0 25v8m0 18v1m0 19v2m2-74v1m0 25v8m0 17v1m0 21v1m2-74v1m0 25v8m0 17v1m0 21v1m2-74v1m0 25v8m0 17v1m0 21v1m2-74v1m0 25v8m0 17v1m0 21v1m2-74v1m0 25v8m0 17v1m0 21v1m2-74v1m0 25v8m0 17v1m0 21v1m2-74v1m0 25v8m0 17v1m0 21v1m2-74v1m0 25v8m0 17v1m0 21v1m2-74v1m0 25v8m0 17v1m0 21v1m2-74v1m0 25v8m0 17v1m0 21v1m2-74v1m0 25v8m0 17v1m0 21v1m2-74v1m0 25v8m0 17v1m0 21v1m2-74v1m0 25v8m0 17v1m0 21v1m2-74v1m0 25v8m0 17v2m0 20v1m2-74v1m0 25v8m0 18v2m0 18v1m2-88v4m2-3v3m2-1v2m0 60v2m0 9v10m2-85v3m0 60v1m0 21v2m2-85v2m0 59v1m0 22v1m2-91v4m0 63v1m0 22v1m2-92v5m0 63v1m0 22v1m2-90v4m0 62v1m0 22v1m2-89v3m0 62v1m0 22v1m2-85v2m0 59v1m0 22v1m2-86v2m0 60v1m0 22v1m2-86v2m0 60v1m0 22v1m2-91v3m0 64v1m0 22v1m2-87v2m0 61v1m0 22v1m2-88v2m0 62v1m0 22v1m2-93v3m0 66v1m0 22v1m2-89v2m0 63v1m0 22v1m2-90v2m0 64v1m0 22v1m2-91v2m0 65v1m0 22v1m2-100v5m0 72v1m0 19v2m2-98v4m0 74v3m0 7v7m2-96v4m0 79v4m2-331v28m0 6v111m2-145v28m0 6v110m4 96v4m2-5v4m2-50v45m2-48v47m2-3v5m2-4v4m2 2v2m2-3v2m2-3v2m2-4v3m2-213v7m0 72v85m2-163v5m0 133v59m2-225v29m0 4v146m2-179v29m0 4v149m2-182v28m0 5v137m2-142v6m0 111v71m2-187v4m0 150v37m2 5v3m2-11v5m2 0v3m2-5v4m2-15v7m2-6v6m2-4v4m2-188v6m0 101v68m2-203v28m0 5v133m2 25v16m2-2v5m2-13v8m2-177v5m0 142v27m2-10v10m2-7v8m8-8v8m2-4v6m2-7v6m6-8v7m2-7v7m2-203v27m0 7v92m4 68v8m4-11v10m2-10v10m4-8v9m2-8v8m2 6v2m2-2v3m2-1v3m2-1v2m2-5v4m2-3v4m2-8v6m2-4v7m2-187v5m0 143v36m12-21v37m2 11v2m2 2v2m2-4v4m2 0v4m2 4v3m2 1v2m2 2v1m2 13v18m0 23v23m2-64v2m0 16v1m0 21v22m2-63v2m0 17v1m0 21v15m2-56v2m0 17v1m0 21v15m2-56v2m0 17v1m0 21v15m2-56v2m0 17v1m0 21v15m2-56v2m0 17v1m0 21v15m2-56v2m0 17v1m0 21v15m2-56v3m0 16v1m0 21v20m2-60v4m0 13v1m0 23v22m2-62v16m0 45v4m2-2v4m2-2v3m2-3v4m2-4v4m2-4v4m2-4v4m2-4v4m2-4v4m2-4v4m2-4v4m2-4v4m2-4v4m2-4v4m2-4v4m2-4v4m2-4v4m2-4v4m2-4v4m2-4v4m2-4v4m2-4v4m2-4v4m2-4v4m2-4v4m2-4v4m2-4v4m2-4v4m2-4v4m2-4v4m2-4v4m2-4v4m2-4v4m2-4v4m2-4v4m2-4v4m2-4v4m2-4v4m2-4v4m2-4v3m2-69v17m0 47v4m2-69v1m0 17v1m0 44v3m2-67v1m0 19v1m0 26v18m2-65v1m0 19v1m0 25v19m2-65v1m0 19v1m0 25v19m2-65v1m0 19v1m0 25v19m2-65v1m0 19v1m0 25v19m2-65v1m0 19v1m0 25v19m2-65v1m0 19v1m0 25v19m2-121v4m0 52v1m0 19v1m0 25v19m2-119v1m0 53v1m0 19v1m0 25v19m2-65v1m0 19v1m0 25v19m2-65v1m0 19v1m0 25v19m2-65v1m0 19v1m0 25v19m2-65v1m0 19v1m0 25v19m2-65v1m0 19v1m0 25v19m2-65v1m0 19v1m0 25v19m2-65v1m0 19v1m0 25v19m2-65v1m0 19v1m0 25v19m2-65v1m0 19v1m0 25v19m2-65v1m0 19v1m0 25v19m2-65v1m0 19v1m0 25v19m2-65v1m0 19v1m0 25v19m2-65v1m0 19v1m0 25v19m2-65v1m0 19v1m0 25v19m2-65v1m0 19v1m0 25v19m2-65v1m0 19v1m0 25v19m2-65v1m0 19v1m0 25v19m2-65v1m0 19v1m0 25v19m2-65v1m0 19v1m0 25v19m2-64v1m0 18v1m0 27v18m2-65v3m0 14v2m0 45v3m2 16v9m2-9v9m2-9v9m2-9v9m2-9v9m2-9v9m2-9v9m2-9v9m2-9v9m2-9v9m2-9v9m2-9v9"/>
<path stroke="#5effa1" d="m842 875v9m2-9v9m2-9v9m2-9v9m2-9v9m2-9v9m2-9v9m2-9v9m2-9v9m2-9v9m2-9v9m2-9v9m2-9v9m2-9v9m2-9v9m2-9v9m2-9v9m2-104v1m0 18v6m0 8v3m0 17v2m0 14v2m2-71v1m0 19v5m0 8v3m0 18v1m0 6v8m2-69v1m0 19v5m0 8v3m0 18v2m0 4v3m2-63v1m0 19v5m0 8v3m0 18v2m0 4v3m2-63v1m0 19v5m0 8v3m0 18v2m0 4v3m2-63v1m0 19v5m0 8v3m0 18v2m0 4v3m2-63v1m0 19v5m0 8v3m0 18v2m0 4v3m2-63v1m0 19v5m0 8v3m0 18v2m0 4v3m2-63v1m0 19v5m0 8v3m0 18v2m0 4v3m2-63v1m0 19v5m0 8v3m0 18v2m0 4v3m2-63v1m0 19v5m0 8v3m0 18v2m0 4v3m2-63v1m0 19v5m0 8v3m0 18v2m0 4v3m2-63v1m0 19v5m0 8v3m0 18v2m0 4v3m2-63v1m0 19v5m0 8v3m0 18v2m0 4v3m2-63v1m0 19v5m0 8v3m0 18v2m0 4v3m2-63v1m0 19v5m0 8v3m0 18v2m0 4v3m2-63v1m0 19v5m0 8v3m0 18v1m0 5v3m2-63v1m0 19v5m0 8v3m0 17v1m0 7v8m2-69v1m0 19v5m0 8v3m0 16v2m0 15v2m2-71v1m0 19v5m0 8v3m0 16v2m0 16v2m2-72v1m0 19v5m0 8v3m0 16v2m0 16v2m2-72v1m0 19v5m0 8v3m0 16v2m0 16v2m2-72v1m0 19v5m0 8v3m0 16v2m0 16v2m2-72v1m0 19v5m0 8v3m0 16v2m0 16v2m2-72v1m0 19v5m0 8v3m0 16v2m0 16v2m2-72v1m0 19v5m0 8v3m0 16v2m0 16v2m2-72v1m0 19v5m0 8v3m0 16v2m0 16v2m2-72v1m0 19v5m0 8v3m0 16v2m0 16v2m2-72v1m0 19v5m0 8v3m0 16v2m0 16v2m2-72v1m0 19v5m0 8v3m0 16v2m0 16v2m2-72v1m0 19v5m0 8v3m0 16v2m0 17v1m2-72v1m0 19v5m0 8v3m0 15v2m0 18v2m2-73v1m0 19v5m0 8v3m0 14v2m0 20v1m2-73v1m0 19v5m0 8v3m0 13v2m0 22v1m2-74v1m0 19v5m0 8v3m0 13v1m0 23v1m2-74v1m0 19v5m0 8v3m0 13v1m0 23v1m2-74v1m0 19v5m0 8v3m0 13v1m0 23v1m2-74v1m0 19v5m0 8v3m0 13v1m0 23v1m2-74v1m0 19v5m0 8v3m0 13v1m0 23v1m2-74v1m0 19v5m0 8v3m0 13v1m0 23v1m2-74v1m0 19v5m0 8v3m0 13v1m0 23v1m2-74v1m0 19v5m0 8v3m0 13v1m0 23v1m2-74v1m0 19v5m0 8v3m0 13v1m0 23v1m2-74v1m0 19v5m0 8v3m0 13v1m0 23v1m2-74v1m0 19v5m0 8v3m0 13v1m0 23v1m2-74v1m0 19v5m0 8v3m0 13v1m0 23v1m2-74v1m0 19v5m0 8v3m0 13v1m0 23v1m2-74v1m0 19v5m0 8v3m0 13v1m0 23v1m2-74v1m0 18v6m0 8v3m0 14v1m0 21v2m2-86v3m2-3v3m0 58v20m2-80v2m0 57v1m0 21v2m2-84v3m0 56v1m0 24v1m2-84v2m0 55v2m0 24v1m2-88v3m0 58v2m0 24v1m2-88v3m0 58v2m0 24v1m2-87v3m0 57v2m0 24v1m2-87v3m0 57v2m0 24v1m2-84v2m0 55v2m0 24v1m2-85v2m0 56v2m0 24v1m2-85v2m0 56v2m0 24v1m2-89v3m0 59v2m0 24v1m2-86v2m0 57v2m0 24v1m2-87v2m0 58v2m0 24v1m2-91v4m0 61v1m0 24v1m2-88v2m0 60v1m0 24v1m2-89v2m0 61v1m0 24v1m2-90v3m0 61v1m0 24v1m2-96v4m0 67v1m0 22v1m2-95v4m0 68v2m0 17v3m2-95v4m0 71v4m0 4v8m2-311v6m0 111v93m0 89v4m2-303v6m0 110v93m2-237v28m0 5v136m2 75v4m2-5v4m2-9v6m2-7v6m2-4v5m2-5v4m2 0v3m2-4v2m2-3v2m2-3v2m2-51v40m2-6v7m2-203v4m0 146v48m2-198v4m0 149v45m2-199v5m0 137v54m2-8v11m2-7v7m2 1v3m2-9v5m2-2v3m2-4v3m2-11v6m2-6v5m2-5v5m2-18v11m2-186v5m0 133v43m2-2v7m2-4v5m2-10v7m2-10v7m2-7v7m2-6v6m8-6v6m2-4v5m2-6v6m2-210v28m0 5v138m2-171v189m2 14v6m2-6v6m2-182v7m0 92v69m2-195v28m0 5v124m2 45v7m4-8v7m2-7v7m4-6v7m2-7v7m2 1v3m2-2v3m2-1v3m2-2v3m2-4v4m2-3v5m2-7v6m2-3v5m2-8v8m12 8v6m2 7v3m2 1v3m2-3v3m2 1v3m2 4v2m2 1v1m2 2v2m2 75v3m2-65v16m0 44v3m2-64v17m0 37v10m2-64v17m0 37v10m2-64v17m0 37v10m2-64v17m0 37v10m2-64v17m0 37v10m2-64v17m0 37v10m2-63v16m0 42v5m2-61v13m0 46v4m2-1v3m2-1v3m2-2v4m2-3v3m2-3v3m2-3v3m2-3v3m2-3v3m2-3v3m2-3v3m2-3v3m2-3v3m2-3v3m2-3v3m2-3v3m2-3v3m2-3v3m2-3v3m2-3v3m2-3v3m2-3v3m2-3v3m2-3v3m2-3v3m2-3v3m2-3v3m2-3v3m2-3v3m2-3v3m2-3v3m2-3v3m2-3v3m2-3v3m2-3v3m2-3v3m2-3v3m2-3v3m2-3v3m2-3v3m2-4v4m2-5v4m2-72v17m0 48v5m2-71v2m0 16v1m0 45v4m2-68v1m0 17v1m0 45v3m2-67v1m0 17v1m0 45v3m2-67v1m0 17v1m0 45v3m2-67v1m0 17v1m0 45v3m2-67v1m0 17v1m0 45v3m2-67v1m0 17v1m0 45v3m2-67v1m0 17v1m0 45v3m2-67v1m0 17v1m0 45v3m2-67v1m0 17v1m0 45v3m2-67v1m0 17v1m0 45v3m2-67v1m0 17v1m0 45v3m2-67v1m0 17v1m0 45v3m2-67v1m0 17v1m0 45v3m2-67v1m0 17v1m0 45v3m2-67v1m0 17v1m0 45v3m2-67v1m0 17v1m0 45v3m2-67v1m0 17v1m0 45v3m2-67v1m0 17v1m0 45v3m2-67v1m0 17v1m0 45v3m2-67v1m0 17v1m0 45v3m2-67v1m0 17v1m0 45v3m2-67v1m0 17v1m0 45v3m2-67v1m0 17v1m0 45v3m2-67v1m0 17v1m0 45v3m2-67v1m0 17v1m0 45v3m2-67v1m0 17v1m0 45v3m2-67v1m0 17v1m0 45v3m2-66v2m0 14v2m0 46v3m2-65v14m0 50v5m2 20v6m2-6v6m2-6v6m2-6v6m2-6v6m2-6v6m2-6v6m2-6v6m2-6v6m2-6v6m2-6v6m2-6v6"/>
<path stroke="#73ff8c" d="m876 781v1m0 16v1m0 17v2m0 14v1m0 18v2m2-72v1m0 16v2m0 16v2m0 15v1m0 15v2m2-70v1m0 16v2m0 16v2m0 25v7m2-69v1m0 16v2m0 16v2m0 25v7m2-69v1m0 16v2m0 16v2m0 25v7m2-69v1m0 16v2m0 16v2m0 25v7m2-69v1m0 16v2m0 16v2m0 25v7m2-69v1m0 16v2m0 16v2m0 25v7m2-69v1m0 16v2m0 16v2m0 25v7m2-69v1m0 16v2m0 16v2m0 25v7m2-69v1m0 16v2m0 16v2m0 25v7m2-69v1m0 16v2m0 16v2m0 25v7m2-69v1m0 16v2m0 16v2m0 25v7m2-69v1m0 16v2m0 16v2m0 25v7m2-69v1m0 16v2m0 16v2m0 25v7m2-69v1m0 16v2m0 16v2m0 15v1m0 9v7m2-69v1m0 16v2m0 16v2m0 15v1m0 9v7m2-69v1m0 16v2m0 16v2m0 14v1m0 16v2m2-70v1m0 16v2m0 16v3m0 11v2m0 19v2m2-72v1m0 16v2m0 16v3m0 11v2m0 20v2m2-73v1m0 16v2m0 16v3m0 11v2m0 20v2m2-73v1m0 16v2m0 16v3m0 11v2m0 20v2m2-73v1m0 16v2m0 16v3m0 11v2m0 20v2m2-73v1m0 16v2m0 16v3m0 11v2m0 20v2m2-73v1m0 16v2m0 16v3m0 11v2m0 20v2m2-73v1m0 16v2m0 16v3m0 11v2m0 20v2m2-73v1m0 16v2m0 16v3m0 11v2m0 20v2m2-73v1m0 16v2m0 16v3m0 11v2m0 20v2m2-73v1m0 16v2m0 16v3m0 11v2m0 20v2m2-73v1m0 16v2m0 16v3m0 11v2m0 20v2m2-73v1m0 16v2m0 16v3m0 11v2m0 20v2m2-73v1m0 16v2m0 16v3m0 10v2m0 22v1m2-73v1m0 16v2m0 16v3m0 10v1m0 23v2m2-74v1m0 16v2m0 16v3m0 9v1m0 25v1m2-74v1m0 16v2m0 16v3m0 9v1m0 25v1m2-74v1m0 16v2m0 16v3m0 9v1m0 25v1m2-74v1m0 16v2m0 16v3m0 9v1m0 25v1m2-74v1m0 16v2m0 16v3m0 9v1m0 25v1m2-74v1m0 16v2m0 16v3m0 9v1m0 25v1m2-74v1m0 16v2m0 16v3m0 9v1m0 25v1m2-74v1m0 16v2m0 16v3m0 9v1m0 25v1m2-74v1m0 16v2m0 16v3m0 9v1m0 25v1m2-74v1m0 16v2m0 16v3m0 9v1m0 25v1m2-74v1m0 16v2m0 16v3m0 9v1m0 25v1m2-74v1m0 16v2m0 16v3m0 9v1m0 25v1m2-74v1m0 16v2m0 16v3m0 9v1m0 25v1m2-74v1m0 16v2m0 16v3m0 9v1m0 25v1m2-74v1m0 16v2m0 16v3m0 9v1m0 25v1m2-74v1m0 16v1m0 17v3m0 9v2m0 24v1m2-84v2m0 57v13m2-72v2m0 40v9m0 5v2m0 20v3m2-81v2m0 34v16m0 1v4m0 24v1m2-82v2m0 34v20m0 26v1m2-83v2m0 34v19m0 27v1m2-86v3m0 36v19m0 27v1m2-86v3m0 36v19m0 27v1m2-85v2m0 36v19m0 27v1m2-85v2m0 36v19m0 27v1m2-83v1m0 35v19m0 27v1m2-84v2m0 35v19m0 27v1m2-84v1m0 36v19m0 27v1m2-87v3m0 37v19m0 27v1m2-85v2m0 37v14m0 2v2m0 27v1m2-86v2m0 55v1m0 27v1m2-88v2m0 57v2m0 26v1m2-87v2m0 56v2m0 26v1m2-88v2m0 58v1m0 26v1m2-88v2m0 58v1m0 26v1m2-93v4m0 61v2m0 24v2m2-93v4m0 62v2m0 22v1m2-92v4m0 65v2m0 16v3m2-104v12m0 73v4m0 6v6m2-102v12m0 76v5m0 3v5m2-310v5m0 136v75m0 81v5m0 3v5m2-90v4m0 73v5m0 2v6m2-91v4m0 74v5m0 2v6m2-94v5m0 77v3m0 3v5m2-94v5m0 78v3m0 3v5m2-93v4m0 78v3m0 2v6m2-94v4m0 79v2m0 3v5m2-90v3m0 78v1m0 3v4m2-91v3m0 84v2m2-90v3m2-4v3m2-14v8m2-7v7m2-12v10m2-10v9m2-12v10m2-7v8m2-8v7m2-3v4m2-8v6m2-5v4m2-5v4m2-9v7m2-8v7m2-7v6m2-13v10m2-15v14m2-9v9m2-8v7m2-10v9m2-12v10m2-10v10m2-10v9m2-218v29m0 4v147m0 25v12m2-217v190m0 8v19m2-217v28m0 5v132m0 47v4m2-7v9m2-8v8m2-8v8m2-190v5m0 138v47m2-29v29m2-9v9m2-9v9m2-23v23m2-190v5m0 124v61m2-9v9m2-218v28m0 5v132m0 47v4m2-8v10m2-10v10m2-218v29m0 4v146m0 27v11m2-8v9m2-9v9m2-5v6m2-5v5m2-3v4m2-3v5m2-5v6m2-4v6m2-7v7m2-5v7m2-7v8m2-228v28m0 6v101m2-135v28m0 5v139m2-172v28m0 6v103m2-137v28m0 6v106m2-140v28m0 6v100m2 100v7m2 3v3m2 1v2m2-2v4m2 0v3m2 3v2m2 0v2m2 2v1m2 77v4m2-6v4m2-4v3m2-3v3m2-3v3m2-3v3m2-3v3m2-3v3m2-3v4m2-2v3m2-1v3m2-1v3m2-1v2m2-2v3m2-3v3m2-3v3m2-3v3m2-3v3m2-3v3m2-3v3m2-3v3m2-3v3m2-3v3m2-3v3m2-3v3m2-3v3m2-3v3m2-3v3m2-3v3m2-3v3m2-3v3m2-3v3m2-3v3m2-3v3m2-3v3m2-3v3m2-3v3m2-3v3m2-3v3m2-3v3m2-3v3m2-3v3m2-3v3m2-3v3m2-3v3m2-3v3m2-3v3m2-3v3m2-3v3m2-3v3m2-4v4m2-6v5m2-74v16m0 50v8m2-75v17m0 49v9m2-75v17m0 49v9m2-75v17m0 49v9m2-75v17m0 49v9m2-75v17m0 49v9m2-75v17m0 49v9m2-75v17m0 49v9m2-75v17m0 49v9m2-75v17m0 49v9m2-75v17m0 49v9m2-75v17m0 49v9m2-75v17m0 49v9m2-75v17m0 49v9m2-75v17m0 49v9m2-75v17m0 49v9m2-75v17m0 49v9m2-75v17m0 49v9m2-75v17m0 49v9m2-75v17m0 49v9m2-75v17m0 49v9m2-75v17m0 49v9m2-75v17m0 49v9m2-75v17m0 49v9m2-75v17m0 49v9m2-75v17m0 49v9m2-75v17m0 49v9m2-75v17m0 49v9m2-73v14m0 51v8m2-4v4m2 22v4m2-4v4m2-4v4m2-4v4m2-4v4m2-4v4m2-4v4m2-4v4m2-4v4m2-4v4m2-4v4m2-4v4"/>
<path stroke="#88ff77" d="m876 782v2m0 13v1m0 20v2m0 11v1m0 21v3m2-74v1m0 14v1m0 20v1m0 13v1m0 18v4m2-73v1m0 14v1m0 20v1m0 14v1m0 16v5m2-73v1m0 14v1m0 20v1m0 14v1m0 16v5m2-73v1m0 14v1m0 20v1m0 14v1m0 16v5m2-73v1m0 14v1m0 20v1m0 14v1m0 16v5m2-73v1m0 14v1m0 20v1m0 14v1m0 16v5m2-73v1m0 14v1m0 20v1m0 14v1m0 16v5m2-73v1m0 14v1m0 20v1m0 14v1m0 16v5m2-73v1m0 14v1m0 20v1m0 14v1m0 16v5m2-73v1m0 14v1m0 20v1m0 14v1m0 16v5m2-73v1m0 14v1m0 20v1m0 14v1m0 16v5m2-73v1m0 14v1m0 20v1m0 14v1m0 16v5m2-73v1m0 14v1m0 20v1m0 14v1m0 16v5m2-73v1m0 14v1m0 20v1m0 14v1m0 16v5m2-73v1m0 14v1m0 20v1m0 31v5m2-73v1m0 14v1m0 20v1m0 13v1m0 17v5m2-73v1m0 14v1m0 20v3m0 9v2m0 19v4m2-73v1m0 14v1m0 21v7m0 2v2m0 23v3m2-74v1m0 14v1m0 21v8m0 1v2m0 24v2m2-74v1m0 14v1m0 21v8m0 1v2m0 24v2m2-74v1m0 14v1m0 21v8m0 1v2m0 24v2m2-74v1m0 14v1m0 21v8m0 1v2m0 24v2m2-74v1m0 14v1m0 21v8m0 1v2m0 24v2m2-74v1m0 14v1m0 21v8m0 1v2m0 24v2m2-74v1m0 14v1m0 21v8m0 1v2m0 24v2m2-74v1m0 14v1m0 21v8m0 1v2m0 24v2m2-74v1m0 14v1m0 21v8m0 1v2m0 24v2m2-74v1m0 14v1m0 21v8m0 1v2m0 24v2m2-74v1m0 14v1m0 21v8m0 1v2m0 24v2m2-74v1m0 14v1m0 21v8m0 1v2m0 24v2m2-74v1m0 14v1m0 21v10m0 25v2m2-74v1m0 14v1m0 21v10m0 26v1m2-74v1m0 14v1m0 21v9m0 27v1m2-74v1m0 14v1m0 21v9m0 27v1m2-74v1m0 14v1m0 21v9m0 27v1m2-74v1m0 14v1m0 21v9m0 27v1m2-74v1m0 14v1m0 21v9m0 27v1m2-74v1m0 14v1m0 21v9m0 27v1m2-74v1m0 14v1m0 21v9m0 27v1m2-74v1m0 14v1m0 21v9m0 27v1m2-74v1m0 14v1m0 21v9m0 27v1m2-74v1m0 14v1m0 21v9m0 27v1m2-74v1m0 14v1m0 21v9m0 27v1m2-74v1m0 14v1m0 21v9m0 27v1m2-74v1m0 14v1m0 21v9m0 27v1m2-74v1m0 14v1m0 21v9m0 27v1m2-74v1m0 14v1m0 21v9m0 27v1m2-74v1m0 14v1m0 21v9m0 27v1m2-83v2m0 32v23m0 13v9m2-79v2m0 30v8m0 9v5m0 25v2m2-81v2m0 29v3m0 16v1m0 29v2m2-82v2m0 29v3m0 47v1m2-82v2m0 29v3m0 47v1m2-84v3m0 30v3m0 47v1m2-84v2m0 31v3m0 47v1m2-84v2m0 31v3m0 47v1m2-84v2m0 32v2m0 47v1m2-83v2m0 31v2m0 47v1m2-83v2m0 31v2m0 47v1m2-84v2m0 32v2m0 47v1m2-85v2m0 33v2m0 47v1m2-84v2m0 32v3m0 14v2m0 30v1m2-85v2m0 34v19m0 29v1m2-87v3m0 42v12m0 29v1m2-86v2m0 83v1m2-87v3m0 54v1m0 28v1m2-87v2m0 55v1m0 28v1m2-90v3m0 57v1m0 28v1m2-90v3m0 57v2m0 25v2m2-90v4m0 58v3m0 21v3m2-95v8m0 62v3m0 9v1m0 6v3m2-93v9m0 64v3m0 5v1m0 1v1m0 5v3m2-97v14m0 64v3m0 7v1m0 5v3m2-89v6m0 64v3m0 13v2m2-89v6m0 66v2m0 13v2m2-91v8m0 66v3m0 3v1m0 7v3m2-92v8m0 67v3m0 5v1m0 5v3m2-92v7m0 69v2m0 11v2m2-92v8m0 69v2m0 2v1m0 7v2m2-89v6m0 69v3m0 8v3m2-91v8m0 70v3m0 2v1m0 2v5m2-92v9m0 70v3m0 2v7m2-92v10m0 70v3m0 2v7m2-98v16m0 71v1m0 3v7m2-98v16m0 71v1m0 3v7m2-100v18m0 74v7m2-100v19m0 74v7m2-102v21m0 74v5m2-99v20m0 74v3m2-98v21m0 74v1m2-95v20m2-22v22m2-23v23m2-24v22m2-24v24m2-25v24m2-25v25m2-28v9m0 1v9m0 2v7m2-29v9m0 2v8m0 3v7m2-29v9m0 2v8m0 3v7m2-30v10m0 2v8m0 3v7m2-31v11m0 2v8m0 3v7m2-33v13m0 2v8m0 3v7m2-33v13m0 2v8m0 3v7m2-34v14m0 2v8m0 3v7m2-223v4m0 147v25m0 12v15m0 2v8m0 3v7m2-62v8m0 19v15m0 2v8m0 3v7m2-224v5m0 132v47m0 4v16m0 2v8m0 3v7m2-34v14m0 2v8m0 3v7m2-34v14m0 2v8m0 3v7m2-34v14m0 2v8m0 3v7m2-34v14m0 2v8m0 3v7m2-34v14m0 2v8m0 3v7m2-34v14m0 2v8m0 3v7m2-34v14m0 2v8m0 3v7m2-34v14m0 2v8m0 2v8m2-34v14m0 2v8m0 2v8m2-34v13m0 3v8m0 2v8m2-224v5m0 132v47m0 4v15m0 3v8m0 2v8m2-34v13m0 3v8m0 2v8m2-34v13m0 3v8m0 2v8m2-223v4m0 146v27m0 11v14m0 3v8m0 2v8m2-34v13m0 3v7m0 3v8m2-34v13m0 3v7m0 3v8m2-33v12m0 2v9m0 2v8m2-33v13m0 1v9m0 2v8m2-32v23m0 1v8m2-30v32m2-31v32m2-30v30m2-30v30m2-28v28m2-27v27m2-227v6m0 101v120m2-227v5m0 139v83m2-227v6m0 103v118m2-227v6m0 106v115m2-227v6m0 100v80m0 2v39m2-14v14m2-8v8m2-5v5m2-3v6m2-3v4m2 1v2m2 0v2m2 1v2m2 79v3m2-5v3m2-4v4m2-4v4m2-4v4m2-4v4m2-4v4m2-4v4m2-3v3m2-2v4m2-2v4m2-2v4m2-3v3m2-2v2m2-2v2m2-2v2m2-2v2m2-2v2m2-2v2m2-2v2m2-2v2m2-2v2m2-2v2m2-2v2m2-2v2m2-2v2m2-2v2m2-2v2m2-2v2m2-2v2m2-2v2m2-2v2m2-2v2m2-2v2m2-2v2m2-2v2m2-2v2m2-2v2m2-2v2m2-2v2m2-2v2m2-2v2m2-2v2m2-2v2m2-2v2m2-2v2m2-2v2m2-2v2m2-2v2m2-2v2m2-2v2m2-3v3m2-3v3m2-3v3m2-3v3m2-3v3m2-3v3m2-3v3m2-3v3m2-3v3m2-3v3m2-3v3m2-3v3m2-3v3m2-3v3m2-3v3m2-3v3m2-3v3m2-3v3m2-3v3m2-3v3m2-3v3m2-3v3m2-3v3m2-3v3m2-3v3m2-3v3m2-3v3m2-3v3m2-3v3m2-3v3m2-3v3"/>
<path stroke="#9dff62" d="m876 784v1m0 11v1m0 23v3m0 6v2m0 25v2m2-75v1m0 12v1m0 22v1m0 11v1m0 23v3m2-75v1m0 12v1m0 22v1m0 12v1m0 22v3m2-75v1m0 12v1m0 22v1m0 12v1m0 22v3m2-75v1m0 12v1m0 22v1m0 12v1m0 22v3m2-75v1m0 12v1m0 22v1m0 12v1m0 22v3m2-75v1m0 12v1m0 22v1m0 12v1m0 22v3m2-75v1m0 12v1m0 22v1m0 12v1m0 22v3m2-75v1m0 12v1m0 22v1m0 12v1m0 22v3m2-75v1m0 12v1m0 22v1m0 12v1m0 22v3m2-75v1m0 12v1m0 22v1m0 12v1m0 22v3m2-75v1m0 12v1m0 22v1m0 12v1m0 22v3m2-75v1m0 12v1m0 22v1m0 12v1m0 22v3m2-75v1m0 12v1m0 22v1m0 12v1m0 22v3m2-75v1m0 12v1m0 22v1m0 12v1m0 22v3m2-75v1m0 12v1m0 22v1m0 12v1m0 22v3m2-75v1m0 12v1m0 22v2m0 9v2m0 23v3m2-75v1m0 12v1m0 24v5m0 2v2m0 25v3m2-75v1m0 12v1m0 29v2m0 28v2m2-75v1m0 12v1m0 30v1m0 28v2m2-75v1m0 12v1m0 30v1m0 28v2m2-75v1m0 12v1m0 30v1m0 28v2m2-75v1m0 12v1m0 30v1m0 28v2m2-75v1m0 12v1m0 30v1m0 28v2m2-75v1m0 12v1m0 30v1m0 28v2m2-75v1m0 12v1m0 30v1m0 28v2m2-75v1m0 12v1m0 30v1m0 28v2m2-75v1m0 12v1m0 30v1m0 28v2m2-75v1m0 12v1m0 30v1m0 28v2m2-75v1m0 12v1m0 30v1m0 28v2m2-75v1m0 12v1m0 30v1m0 28v2m2-75v1m0 12v1m0 59v2m2-75v1m0 12v1m0 59v2m2-75v1m0 12v1m0 59v2m2-75v1m0 12v1m0 59v2m2-75v1m0 12v1m0 59v2m2-75v1m0 12v1m0 59v2m2-75v1m0 12v1m0 59v2m2-75v1m0 12v1m0 59v2m2-75v1m0 12v1m0 59v2m2-75v1m0 12v1m0 59v2m2-75v1m0 12v1m0 59v2m2-75v1m0 12v1m0 59v2m2-75v1m0 12v1m0 59v2m2-75v1m0 12v1m0 59v2m2-75v1m0 12v1m0 59v2m2-75v1m0 12v1m0 59v2m2-75v1m0 12v1m0 59v2m2-75v1m0 12v1m0 59v2m2-83v4m0 23v5m0 45v4m2-81v3m0 24v3m0 49v2m2-81v3m0 23v3m0 51v2m2-82v3m0 23v3m0 51v2m2-82v3m0 23v3m0 51v2m2-83v2m0 26v2m0 51v2m2-84v2m0 27v2m0 51v2m2-84v2m0 28v1m0 51v2m2-84v2m0 28v2m0 50v2m2-83v1m0 28v2m0 50v2m2-83v1m0 28v2m0 50v2m2-84v2m0 29v1m0 50v2m2-85v2m0 30v1m0 50v2m2-84v1m0 30v1m0 50v2m2-85v2m0 30v2m0 49v2m2-86v3m0 31v8m0 42v2m2-86v2m0 33v17m0 1v1m0 30v2m2-86v2m0 39v10m0 2v1m0 30v2m2-87v2m0 41v8m0 3v1m0 30v2m2-89v3m0 42v8m0 3v1m0 30v1m2-88v3m0 42v7m0 4v1m0 29v2m2-88v3m0 42v7m0 3v3m0 27v3m2-90v4m0 44v6m0 3v5m0 11v1m0 10v4m2-88v4m0 45v4m0 4v7m0 19v3m2-86v4m0 46v3m0 3v8m0 8v1m0 10v2m2-85v4m0 52v8m0 18v3m2-86v5m0 52v9m0 17v3m2-86v5m0 52v9m0 8v1m0 8v3m2-87v6m0 55v6m0 17v2m2-87v7m0 59v3m0 15v3m2-87v7m0 60v2m0 14v1m0 1v2m2-87v7m0 60v2m0 4v1m0 1v1m0 9v1m2-86v7m0 60v3m0 15v1m2-86v7m0 60v3m0 12v1m0 2v1m2-86v7m0 61v2m0 12v1m2-83v6m0 62v3m0 1v1m2-73v6m0 62v3m0 3v1m2-75v6m0 63v3m0 9v1m2-82v6m0 63v3m0 9v1m2-82v6m0 63v2m0 8v3m2-82v6m0 64v1m0 6v4m2-81v6m0 64v1m0 2v1m0 1v6m2-81v6m0 67v8m2-81v6m0 67v8m2-81v6m0 67v7m2-82v8m0 67v6m2-81v8m2-9v1m0 2v6m2-9v1m0 2v6m2-28v1m0 9v2m0 7v1m0 2v6m2-29v1m0 9v1m0 1v1m0 7v1m0 2v6m2-29v1m0 9v1m0 1v1m0 7v1m0 2v6m2-19v1m0 9v1m0 2v6m2-19v1m0 1v1m0 7v1m0 2v6m2-19v1m0 1v1m0 7v1m0 2v6m2-19v1m0 1v1m0 7v1m0 2v6m2-19v1m0 1v1m0 7v1m0 2v6m2-17v1m0 7v1m0 2v6m2-17v1m0 7v1m0 2v6m2-17v1m0 7v1m0 2v6m2-17v1m0 7v1m0 2v6m2-17v1m0 7v1m0 2v6m2-17v1m0 7v1m0 2v6m2-17v1m0 7v1m0 2v6m2-17v1m0 7v1m0 2v6m2-17v1m0 10v6m2-17v1m0 10v6m2-28v1m0 21v6m2-28v1m0 20v7m2-30v1m0 1v1m0 20v7m2-30v1m0 1v1m0 20v7m2-30v1m0 1v1m0 20v7m2-30v1m0 1v1m0 20v7m2-30v1m0 1v1m0 20v7m2-30v1m0 1v1m0 7v1m0 12v7m2-30v1m0 1v1m0 7v1m0 12v7m2-30v1m0 22v7m2-29v1m0 10v1m0 10v7m2-18v1m0 8v9m2-7v7m2-6v6m2-6v6m2-6v6m2-6v6m2-6v6m2-6v6m2-6v6m2-6v6m2-6v7m2-48v2m0 39v7m2-7v7m0 60v7m2-74v7m0 54v18m2-79v7m0 49v27m2-80v4m0 45v34m2-82v4m0 42v37m2-80v2m0 41v38m2-79v2m0 39v38m2-76v2m0 36v38m2 6v7m2-9v8m2-8v8m2-8v8m2-8v8m2-8v8m2-8v8m2-8v8m2-8v8m2-6v6m2-4v5m2-3v3m2-3v3m2-3v3m2-3v3m2-3v3m2-3v3m2-3v3m2-3v3m2-3v3m2-3v3m2-3v3m2-3v3m2-3v3m2-3v3m2-3v3m2-3v3m2-3v3m2-3v3m2-3v3m2-3v3m2-3v3m2-3v3m2-3v3m2-3v3m2-3v3m2-3v3m2-3v3m2-3v3m2-3v3m2-3v3m2-3v3m2-3v3m2-3v3m2-3v3m2-3v3m2-3v3m2-3v3m2-3v3m2-3v3m2-3v3m2-3v3m2-3v3m2-3v3m2-3v3m2-3v3m2-3v3m2-3v3m2-3v3m2-3v3m2-3v3m2-3v3m2-3v3m2-3v3m2-3v3m2-3v3m2-3v3m2-3v3m2-3v3m2-3v3m2-3v3m2-3v3m2-3v3m2-3v3m2-3v3m2-3v3m2-3v3m2-3v3m2-3v3m2-3v3m2-3v3m2-3v3"/>
<path stroke="#b1ff4e" d="m876 785v11m0 27v6m0 29v1m2-75v2m0 9v1m0 24v2m0 7v2m2-47v1m0 35v1m0 10v1m2-48v1m0 35v1m0 10v1m2-48v1m0 35v1m0 10v1m2-48v1m0 35v1m0 10v1m2-48v1m0 35v1m0 10v1m2-48v1m0 35v1m0 10v1m2-48v1m0 35v1m0 10v1m2-48v1m0 35v1m0 10v1m2-48v1m0 35v1m0 10v1m2-48v1m0 35v1m0 10v1m2-48v1m0 35v1m0 10v1m2-48v1m0 35v1m0 10v1m2-48v1m0 35v1m0 10v1m2-48v1m0 35v1m0 10v1m2-48v1m0 36v2m0 5v2m2-46v1m0 41v2m2-44v1m2-1v1m2-1v1m2-1v1m2-1v1m2-1v1m2-1v1m2-1v1m2-1v1m2-1v1m2-1v1m2-1v1m2-1v1m2-1v1m2-1v1m2-1v1m2-1v1m2-1v1m2-1v1m2-1v1m2-1v1m2-1v1m2-1v1m2-1v1m2-1v1m0 73v1m2-75v1m0 73v1m2-75v1m0 73v1m2-75v1m0 73v1m2-75v1m0 73v1m2-75v2m0 9v1m0 62v1m2-75v12m0 62v1m2-80v23m0 54v7m2-85v24m0 54v7m2-85v23m0 56v6m2-85v23m0 56v6m2-85v23m0 56v6m2-87v5m0 10v11m0 55v6m2-88v4m0 21v2m0 55v6m2-88v3m0 23v2m0 54v5m2-87v2m0 24v2m0 54v3m2-85v2m0 25v1m0 54v2m2-84v1m0 26v1m0 54v1m2-83v1m0 26v2m0 53v1m2-84v2m0 27v1m0 53v1m0 4v1m2-89v2m0 27v1m0 53v1m0 4v1m2-89v2m0 27v1m0 53v1m0 4v1m2-89v1m0 28v2m0 52v1m0 4v1m2-90v2m0 29v2m0 55v2m2-90v2m0 29v8m0 49v2m2-91v3m0 29v9m0 8v1m0 39v2m2-92v4m0 29v9m0 43v1m0 4v2m2-92v4m0 29v9m0 7v1m0 2v1m0 32v1m0 4v2m2-92v4m0 29v9m0 43v1m0 3v3m2-93v5m0 29v10m0 40v2m0 4v2m2-92v5m0 29v11m0 4v1m0 2v1m0 29v4m0 4v2m2-92v5m0 29v12m0 35v5m0 4v2m2-92v5m0 29v15m0 32v5m0 4v1m2-91v5m0 29v15m0 2v1m0 29v5m0 4v1m2-91v4m0 30v14m0 3v1m0 29v4m2-85v4m0 30v14m0 3v4m0 25v5m2-85v4m0 31v12m0 3v9m0 21v5m2-85v4m0 33v10m0 3v7m0 2v1m0 20v4m2-84v4m0 36v6m0 4v6m0 3v1m0 16v1m0 2v4m2-83v3m0 40v3m0 3v7m0 3v1m0 19v3m2-82v3m0 46v6m0 4v1m0 19v3m2-82v3m0 47v5m0 4v2m0 17v3m2-82v4m0 50v2m0 4v2m0 6v1m0 7v1m0 1v4m2-82v4m0 55v3m0 16v3m2-81v4m0 55v4m0 15v3m2-81v3m0 57v3m0 15v3m2-81v3m0 57v3m0 2v1m0 12v2m2-80v3m0 58v3m0 3v1m0 7v1m0 2v2m2-80v3m0 58v3m0 13v3m2-80v3m0 58v4m0 12v3m2-80v3m0 59v3m0 12v2m2-79v3m0 59v2m0 2v1m0 7v1m0 2v2m2-79v3m0 59v2m0 2v1m0 6v2m0 2v1m2-78v2m0 61v1m0 3v8m2-83v2m0 6v2m0 65v7m2-74v2m0 65v5m2-72v2m2-30v1m0 9v1m0 17v2m2-2v2m2-31v1m0 11v1m0 16v2m2-31v1m0 28v2m2-31v1m0 28v2m2-31v1m0 28v2m2-31v1m0 28v2m2-31v1m0 9v1m0 18v2m2-31v1m0 9v1m0 18v2m2-30v1m0 8v1m0 11v1m0 6v2m2-30v1m0 8v1m0 11v1m0 6v2m2-30v1m0 8v1m0 11v1m0 6v2m2-30v1m0 8v1m0 11v1m0 6v2m2-30v1m0 8v1m0 11v1m0 6v2m2-30v1m0 8v1m0 11v1m0 6v2m2-30v1m0 18v1m0 1v1m0 6v2m2-30v1m0 18v1m0 1v1m0 6v2m2-11v1m0 1v1m0 6v2m2-11v1m0 8v2m2-11v1m0 8v2m2-11v1m0 8v2m2-11v1m0 8v1m2-10v1m0 8v1m2-10v1m0 8v1m2-1v1m2-19v1m0 17v1m2-30v1m0 10v1m0 8v1m0 8v1m2-20v1m0 9v2m0 7v2m2-2v2m2-2v3m2-3v3m2-3v3m2-3v3m2-3v3m2-3v3m2-3v3m2-3v3m2-3v4m0 55v6m0 2v4m2-70v3m0 48v24m2-75v3m0 41v36m2-80v4m0 33v23m0 7v18m2-85v4m0 27v23m0 18v18m2-90v5m0 15v29m0 27v15m2-91v5m0 7v33m0 34v13m2-91v5m0 2v35m0 37v13m2-91v4m0 2v35m0 38v12m2-89v39m0 38v12m2-86v36m0 38v12m4 0v2m2-2v2m2-2v2m2-2v3m2-3v3m2-3v3m2-3v3m2-3v3m2-3v3m2-2v2m2-2v2m2-2v2m2-2v2m2-2v2m2-2v2m2-2v2m2-2v2m2-2v2m2-2v2m2-2v2m2-2v2m2-2v2m2-2v2m2-2v2m2-2v2m2-2v2m2-2v2m2-2v2m2-2v2m2-2v2m2-2v2m2-2v2m2-2v2m2-2v2m2-2v2m2-2v2m2-2v2m2-2v2m2-2v2m2-2v2m2-2v2m2-2v2m2-2v2m2-2v2m2-2v2m2-2v2m2-2v2m2-2v2m2-2v2m2-2v2m2-2v2m2-2v2m2-2v2m2-2v2m2-2v2m2-2v2m2-2v2m2-2v2m2-2v2m2-2v2m2-2v2m2-2v2m2-2v2m2-2v2m2-2v2m2-2v2m2-2v2m2-2v2m2-2v2m2-2v2m2-2v2m2-2v2m2-2v2m2-2v2m2-2v2m2-2v2m2-2v2m2-2v2m2-2v2m2-2v2m2-2v2"/>
<path stroke="#c6ff39" d="m878 786v9m0 27v7m2-44v11m0 25v1m0 7v2m2-46v11m0 25v1m0 8v1m2-46v11m0 25v1m0 8v1m2-46v11m0 25v1m0 8v1m2-46v11m0 25v1m0 8v1m2-46v11m0 25v1m0 8v1m2-46v11m0 25v1m0 8v1m2-46v11m0 25v1m0 8v1m2-46v11m0 25v1m0 8v1m2-46v11m0 25v1m0 8v1m2-46v11m0 25v1m0 8v1m2-46v11m0 25v1m0 8v1m2-46v11m0 25v1m0 8v1m2-46v11m0 25v2m0 6v2m2-46v11m0 27v5m2-43v11m2-11v11m2-11v11m2-11v11m2-11v11m2-11v11m2-11v11m2-11v11m2-11v11m2-11v11m2-11v11m2-11v11m2-11v11m2-11v11m2-11v11m2-11v11m2-11v11m2-11v11m2-11v11m2-11v11m2-11v11m2-11v11m2-11v11m2-11v11m2-11v11m2-11v11m2-11v11m2-11v11m2-11v11m2-11v11m2-10v9m4 68v5m2-5v5m2-5v5m2-5v5m2-5v5m2-87v10m0 72v5m2-89v21m0 63v5m2-90v3m0 17v3m0 61v6m2-91v2m0 21v1m0 59v1m0 2v4m2-90v2m0 22v1m0 60v5m2-91v2m0 23v1m0 56v1m0 3v4m2-90v2m0 23v1m0 60v4m2-90v1m0 24v2m0 58v1m0 1v3m2-90v1m0 25v1m0 58v1m0 1v3m2-90v1m0 25v1m0 58v1m0 1v3m2-91v2m0 25v1m0 58v1m0 1v3m2-91v2m0 25v2m0 19v1m0 33v1m0 5v3m2-91v2m0 25v2m0 53v1m0 5v3m2-91v2m0 25v2m0 59v3m2-91v2m0 25v2m0 56v1m0 2v3m2-91v2m0 25v2m0 56v1m0 2v3m2-91v2m0 25v2m0 16v1m0 42v3m2-91v2m0 25v2m0 52v1m0 5v3m2-90v2m0 25v2m0 52v1m0 5v3m2-90v2m0 25v2m0 15v1m0 42v3m2-90v2m0 25v2m0 17v1m0 37v1m0 1v4m2-90v3m0 23v3m0 55v1m0 1v4m2-91v5m0 21v4m0 51v1m0 3v6m2-91v7m0 11v12m0 16v1m0 16v1m0 17v1m0 3v5m2-90v31m0 12v1m0 37v1m0 3v5m2-90v33m0 40v1m0 6v1m0 4v5m2-90v36m0 6v1m0 2v1m0 6v1m0 26v2m0 4v4m2-90v40m0 23v1m0 15v3m0 4v4m2-90v7m0 5v31m0 9v1m0 26v3m0 4v3m2-89v5m0 13v25m0 2v2m0 8v1m0 18v1m0 3v4m0 3v3m2-88v3m0 22v17m0 3v5m0 5v1m0 22v3m0 4v2m2-87v3m0 26v13m0 3v7m0 10v1m0 9v1m0 4v4m2-81v3m0 29v10m0 3v7m0 25v4m2-82v3m0 33v6m0 3v7m0 3v2m0 21v4m2-82v3m0 36v3m0 3v7m0 3v2m0 7v1m0 12v4m2-81v3m0 42v6m0 4v3m0 4v1m0 11v1m0 2v3m2-80v3m0 42v6m0 4v3m0 14v1m0 4v3m2-80v3m0 43v5m0 3v4m0 19v2m2-79v3m0 45v2m0 4v5m0 17v3m2-79v2m0 47v1m0 4v5m0 17v3m2-79v2m0 52v5m0 16v3m2-79v3m0 52v6m0 3v1m0 10v4m2-79v1m0 1v1m0 52v7m0 2v1m0 7v1m0 2v4m2-89v2m0 8v1m0 54v7m0 2v1m0 5v3m0 2v3m2-88v1m0 64v7m0 2v9m0 2v2m2-22v7m0 2v8m0 3v1m2-106v1m0 20v1m0 63v7m0 3v7m2-102v1m0 20v1m0 10v1m0 52v7m0 3v7m2-102v1m0 20v1m0 10v1m0 52v7m0 3v7m2-102v1m0 20v1m0 10v1m0 52v7m0 3v7m2-102v1m0 20v1m0 10v1m0 52v7m0 3v7m2-102v1m0 20v1m0 10v1m0 52v7m0 3v7m2-102v1m0 20v1m0 10v1m0 52v7m0 3v7m2-102v1m0 20v1m0 10v1m0 52v7m0 3v7m2-103v1m0 32v1m0 52v7m0 3v7m2-103v1m0 32v1m0 52v7m0 2v8m2-103v1m0 32v1m0 52v7m0 2v8m2-103v1m0 32v1m0 52v7m0 2v8m2-103v1m0 32v1m0 52v7m0 2v8m2-103v1m0 32v1m0 52v7m0 2v8m2-103v1m0 9v1m0 22v1m0 52v7m0 2v8m2-103v1m0 9v1m0 22v1m0 52v7m0 2v8m2-103v1m0 9v1m0 22v1m0 52v7m0 2v8m2-103v1m0 9v2m0 21v1m0 52v7m0 2v8m2-103v1m0 9v2m0 21v1m0 52v7m0 2v8m2-103v1m0 9v2m0 21v1m0 52v7m0 2v8m2-103v1m0 9v2m0 18v1m0 2v1m0 52v7m0 2v8m2-92v1m0 18v1m0 2v1m0 52v7m0 2v8m2-92v1m0 18v1m0 2v1m0 52v7m0 2v8m2-103v1m0 10v1m0 8v1m0 9v1m0 2v1m0 52v7m0 2v8m2-103v1m0 19v1m0 9v1m0 2v1m0 52v7m0 2v8m2-93v1m0 10v1m0 8v1m0 2v1m0 52v7m0 2v8m2-71v2m0 52v7m0 2v8m2-72v3m0 52v7m0 3v7m2-71v2m0 53v7m0 2v7m2-71v2m0 54v7m0 2v6m2-71v2m0 49v2m0 4v7m0 2v5m2-71v2m0 49v3m0 4v6m0 3v4m2-71v2m0 49v4m0 4v7m0 2v3m2-71v3m0 47v7m0 3v7m0 2v4m2-73v3m0 41v15m0 3v14m2-76v3m0 35v23m0 2v17m2-79v3m0 28v24m0 6v2m0 4v17m2-84v4m0 17v27m0 24v15m2-87v41m0 36v12m2-88v33m0 48v8m2-89v27m0 59v5m2-90v15m0 71v5m2-91v7m0 80v5m2-91v2m0 85v5m2-92v2m0 85v5m2-5v5m2-5v5m2-4v1m10 1v2m2-2v2m2-2v2m2-2v2m2-2v2m2-2v2m2-2v2m2-2v2m2-2v2m2-2v2m2-2v2m2-2v2m2-2v2m2-2v2m2-2v2m2-2v2m2-2v2m2-2v2m2-2v2m2-2v2m2-2v2m2-2v2m2-2v2m2-2v2m2-2v2m2-2v2m2-2v2m2-2v2m2-2v2m2-2v2m2-2v2m2-2v2m2-2v2m2-2v2m2-2v2m2-2v2m2-2v2m2-2v2m2-2v2m2-2v2m2-2v2m2-2v2m2-2v2m2-2v2m2-2v2m2-2v2m2-2v2m2-2v2m2-2v2m2-2v2m2-2v2m2-2v2m2-2v2m2-2v2m2-2v2m2-2v2m2-2v2m2-2v2m2-2v2m2-2v2m2-2v2m2-2v2m2-2v2m2-2v2m2-2v2m2-2v2m2-2v2m2-2v2m2-2v2m2-2v2m2-2v2m2-2v2m2-2v2m2-2v2m2-2v2m2-2v2m2-2v2"/>
<path stroke="#dbff24" d="m876 859v1m4-38v7m2-7v8m2-8v8m2-8v8m2-8v8m2-8v8m2-8v8m2-8v8m2-8v8m2-8v8m2-8v8m2-8v8m2-8v8m2-7v6m54 30v1m2-1v1m2-1v1m2-1v1m2-1v1m2-1v1m2-1v1m2 8v5m2-5v5m2-5v5m2-5v5m2-5v4m2-4v3m2-3v2m2-89v17m0 70v1m2-90v3m0 15v3m0 62v1m0 4v1m0 4v1m2-94v1m0 19v2m0 60v1m0 9v2m2-95v1m0 21v1m0 60v1m0 4v1m0 4v2m2-95v1m0 21v1m0 57v1m0 2v1m0 4v1m0 4v2m2-96v2m0 21v1m0 65v1m0 4v2m2-96v2m0 21v2m0 64v1m0 3v3m2-96v2m0 21v2m0 64v1m0 3v3m2-96v2m0 22v1m0 68v3m2-96v2m0 22v1m0 68v3m2-96v2m0 22v1m0 20v1m0 47v3m2-96v2m0 22v1m0 55v1m0 2v1m0 9v3m2-96v2m0 22v1m0 19v1m0 1v1m0 46v3m2-96v2m0 22v1m0 68v3m2-96v2m0 22v1m0 68v3m2-96v2m0 22v1m0 20v1m0 42v1m0 4v3m2-96v2m0 22v1m0 63v1m0 3v4m2-96v2m0 21v2m0 54v1m0 2v1m0 5v1m0 3v3m2-95v3m0 19v3m0 67v3m2-94v3m0 17v3m0 38v1m0 29v3m2-93v21m0 18v1m0 50v2m2-90v11m0 72v1m0 4v1m2-6v1m0 4v1m2-43v1m0 10v1m0 16v1m0 8v1m2-18v1m0 10v1m0 4v2m2-49v1m0 29v1m0 11v1m0 4v2m2-85v5m0 43v1m0 18v1m0 10v1m0 3v2m2-86v13m0 34v1m0 11v1m0 23v3m2-88v22m0 17v1m0 38v1m0 5v4m2-88v26m0 52v1m0 3v6m2-88v29m0 12v1m0 9v1m0 26v1m0 2v7m2-89v33m0 6v1m0 39v1m0 2v6m2-88v36m0 35v1m0 6v2m0 2v6m2-88v29m0 2v8m0 2v1m0 6v1m0 28v2m0 3v5m2-87v6m0 3v19m0 3v7m0 3v1m0 6v1m0 2v1m0 25v2m0 3v5m2-87v5m0 8v15m0 3v7m0 3v2m0 33v3m0 3v4m2-86v4m0 16v7m0 4v7m0 3v4m0 2v1m0 12v1m0 15v3m0 3v4m2-87v5m0 16v7m0 3v7m0 3v6m0 1v1m0 10v1m0 11v1m0 5v3m0 3v4m2-87v4m0 19v4m0 4v7m0 3v8m0 10v1m0 11v1m0 4v4m0 3v3m2-86v4m0 21v2m0 4v7m0 3v8m0 10v1m0 11v1m0 4v4m0 3v3m2-88v1m0 1v4m0 21v2m0 4v7m0 3v7m0 11v1m0 11v1m0 4v4m0 3v3m2-87v5m0 21v2m0 4v8m0 2v7m0 27v5m0 3v3m2-98v1m0 8v1m0 1v5m0 21v2m0 4v8m0 2v7m0 26v6m0 3v3m2-99v2m0 8v1m0 1v5m0 21v2m0 4v8m0 2v7m0 3v1m0 17v1m0 3v7m0 3v3m2-109v1m0 9v1m0 9v1m0 1v5m0 21v2m0 4v8m0 2v7m0 3v1m0 9v1m0 7v1m0 2v8m0 3v3m2-109v1m0 9v1m0 9v1m0 2v4m0 21v2m0 4v7m0 3v7m0 3v1m0 9v1m0 7v1m0 2v8m0 3v3m2-109v1m0 9v1m0 9v1m0 2v4m0 21v2m0 4v7m0 3v7m0 3v1m0 9v1m0 7v1m0 2v8m0 3v3m2-109v1m0 9v1m0 9v1m0 2v4m0 21v2m0 4v7m0 3v7m0 3v1m0 9v1m0 7v1m0 2v8m0 3v3m2-109v1m0 9v1m0 9v1m0 2v4m0 21v2m0 4v7m0 3v7m0 3v1m0 9v1m0 7v1m0 2v8m0 3v3m2-109v1m0 9v1m0 9v1m0 2v4m0 21v2m0 4v7m0 3v7m0 3v1m0 9v1m0 7v1m0 2v8m0 3v3m2-109v1m0 22v4m0 21v2m0 4v7m0 3v7m0 3v1m0 9v1m0 7v1m0 2v8m0 3v3m2-109v1m0 22v4m0 21v2m0 4v7m0 3v7m0 3v1m0 9v1m0 7v1m0 2v8m0 2v4m2-109v1m0 22v4m0 21v2m0 4v7m0 3v7m0 3v1m0 9v1m0 7v1m0 2v7m0 3v4m2-109v1m0 22v4m0 21v2m0 4v7m0 3v7m0 3v1m0 17v1m0 2v7m0 3v4m2-109v1m0 22v4m0 21v2m0 4v7m0 3v7m0 3v1m0 17v1m0 2v7m0 3v4m2-109v1m0 22v4m0 21v2m0 4v7m0 3v7m0 3v1m0 17v1m0 2v7m0 3v4m2-109v1m0 22v4m0 21v2m0 4v7m0 3v7m0 3v1m0 17v1m0 2v7m0 3v4m2-109v1m0 22v4m0 21v2m0 4v7m0 2v8m0 3v1m0 17v1m0 1v8m0 3v4m2-109v1m0 22v4m0 21v2m0 4v7m0 2v8m0 3v1m0 17v1m0 1v8m0 3v4m2-109v1m0 22v4m0 21v2m0 4v7m0 2v8m0 3v1m0 17v1m0 1v8m0 3v4m2-109v1m0 22v4m0 21v2m0 4v7m0 2v8m0 3v1m0 17v1m0 1v8m0 3v4m2-88v1m0 1v4m0 21v2m0 4v7m0 2v8m0 3v1m0 17v1m0 1v8m0 3v4m2-88v1m0 1v4m0 21v2m0 4v7m0 2v8m0 3v1m0 17v1m0 1v8m0 3v4m2-88v1m0 1v4m0 21v2m0 4v7m0 2v8m0 3v1m0 17v1m0 1v8m0 3v4m2-88v1m0 1v4m0 21v2m0 4v7m0 2v8m0 3v1m0 19v8m0 3v4m2-120v1m0 9v1m0 21v1m0 1v4m0 21v2m0 4v7m0 2v8m0 3v1m0 19v8m0 3v4m2-120v1m0 9v1m0 21v1m0 1v4m0 21v2m0 4v7m0 2v8m0 3v1m0 19v8m0 3v4m2-110v1m0 21v1m0 1v4m0 21v2m0 4v7m0 2v8m0 3v1m0 19v8m0 3v4m2-110v1m0 10v1m0 10v1m0 1v4m0 21v2m0 4v7m0 2v8m0 3v1m0 19v8m0 3v4m2-88v1m0 1v4m0 21v1m0 5v7m0 2v8m0 3v1m0 19v8m0 3v4m2-89v1m0 2v4m0 21v1m0 5v7m0 2v8m0 3v1m0 19v8m0 3v4m2-86v4m0 21v2m0 4v7m0 3v7m0 3v1m0 9v1m0 7v1m0 2v8m0 3v3m2-86v4m0 21v4m0 3v8m0 2v7m0 3v1m0 16v1m0 2v8m0 3v3m2-86v4m0 21v5m0 4v7m0 2v7m0 3v1m0 15v2m0 2v7m0 4v2m2-86v4m0 22v5m0 4v7m0 2v5m0 5v1m0 14v12m0 3v2m2-86v4m0 23v6m0 3v7m0 2v4m0 6v1m0 6v1m0 1v1m0 4v12m0 4v1m2-86v4m0 20v1m0 3v7m0 3v7m0 1v3m0 4v1m0 11v1m0 3v13m0 3v1m2-85v4m0 14v19m0 1v9m0 17v2m0 4v12m0 3v1m2-86v6m0 3v32m0 17v1m0 14v10m0 3v1m2-87v35m0 24v1m0 17v7m0 2v2m2-87v28m0 53v2m0 3v3m2-88v17m0 66v1m0 2v3m2-1v3m2-5v1m0 2v3m2-1v2m2-4v1m0 2v2m2-4v1m0 3v1m2-4v2m0 2v1m2-5v4m2-4v5m2-5v5m8-8v1m2 0v1m0 2v1m2-2v2m2-2v2m2-2v2m2-2v2m2-2v2m2-2v2m2-2v2m2-2v2m2-2v2m2-2v2m2-2v2m2-2v2m2-2v2m2-2v2m2-2v2m2-2v2m2-2v2m2-2v2m2-2v2m2-2v2m2-2v2m2-2v2m2-2v2m2-2v2m2-2v2m2-2v2m2-2v2m2-2v2m2-2v2m2-2v2m2-2v2m2-2v2m2-2v2m2-2v2m2-2v2m2-2v2m2-2v2m2-2v2m2-2v2m2-1v1m2-1v1m2-1v1m2-1v1m2-1v1m2-1v1m2-1v1m2-1v1m2-1v1m2-1v1m2-1v1m2-1v1m2-1v1m2-1v1m2-1v1m2-1v1m2-1v1m2-1v1m2-1v1m2-1v1m2-1v1m2-1v1m2-1v1m2-1v1m2-1v1m2-1v1m2-1v1m2-1v1m2-1v1m2-1v1m2-1v1m2-1v1m2-1v1m2-1v1m2-1v1m2-1v1m2-1v1m2-1v1"/>
<path stroke="#f0ff0f" d="m878 858v2m2-2v2m2-2v2m2-2v2m2-2v2m2-2v2m2-2v2m2-2v2m2-2v2m2-2v2m2-2v2m2-2v2m2-2v2m2-2v2m2-2v2m2-2v2m2-2v2m2-2v2m2-2v2m2-2v2m2-2v2m2-2v2m2-2v2m2-2v2m2-2v2m2-2v2m2-2v2m2-2v2m2-2v2m2-2v2m2-2v2m2-2v2m2-2v2m2-2v2m2-2v2m2-2v2m2-2v2m2-2v2m2-2v2m2-2v2m2-2v2m16 13v5m2-5v5m2-5v3m2-3v1m2 2v1m2-2v2m2-3v2m2-3v3m2-94v15m0 64v1m0 11v2m2-95v3m0 13v3m0 71v1m0 2v2m2-96v2m0 17v2m0 70v1m0 2v2m2-96v2m0 18v1m0 70v1m0 2v2m2-96v1m0 19v1m0 58v1m0 11v1m0 2v2m2-96v1m0 19v1m0 73v2m2-96v1m0 19v1m0 73v2m2-96v1m0 19v2m0 65v1m0 6v2m2-96v1m0 19v2m0 65v1m0 6v2m2-96v1m0 19v2m0 59v1m0 12v2m2-96v1m0 19v2m0 72v2m2-96v1m0 19v2m0 56v1m0 15v1m2-95v1m0 19v2m0 68v1m0 3v1m2-95v1m0 19v2m0 68v1m0 3v1m2-95v1m0 19v2m0 19v1m0 48v1m0 3v1m2-95v1m0 19v2m0 38v1m0 19v1m0 13v1m2-95v2m0 17v2m0 72v2m2-94v3m0 13v3m0 39v1m0 17v1m0 8v1m0 6v2m2-93v17m0 67v1m0 6v2m2-3v3m2-4v4m2-4v4m2-57v1m0 1v1m0 8v1m0 29v1m0 10v4m2-18v1m0 12v5m2-26v1m0 20v5m2-55v1m0 45v1m0 3v4m2-8v1m0 3v4m2-4v3m2-54v1m0 39v1m0 10v2m2-25v1m0 22v2m2-46v1m0 11v1m0 9v1m0 16v1m2-1v1m2-60v2m0 20v1m0 27v1m0 7v2m2-83v3m0 19v1m0 9v1m0 20v1m0 27v2m2-84v8m0 17v1m0 38v1m0 11v1m0 4v3m2-85v14m0 1v1m0 10v1m0 9v1m0 29v1m0 10v1m0 4v2m2-84v13m0 2v1m0 17v1m0 12v1m0 30v1m0 4v2m2-85v4m0 2v8m0 2v3m0 4v1m0 10v1m0 12v1m0 30v1m0 3v3m2-85v4m0 2v8m0 3v4m0 2v1m0 10v1m0 12v1m0 30v1m0 3v3m2-85v3m0 3v8m0 3v4m0 2v1m0 10v1m0 9v1m0 2v1m0 30v1m0 3v3m2-91v1m0 5v3m0 3v8m0 3v4m0 2v1m0 12v1m0 7v1m0 2v1m0 7v1m0 11v1m0 10v1m0 3v3m2-85v3m0 3v8m0 2v5m0 2v1m0 12v1m0 7v1m0 2v1m0 7v1m0 11v1m0 10v1m0 3v3m2-85v3m0 3v7m0 3v5m0 2v1m0 12v1m0 7v1m0 10v1m0 11v1m0 10v1m0 3v3m2-85v3m0 3v7m0 3v5m0 2v1m0 12v1m0 7v1m0 10v1m0 11v1m0 10v1m0 3v3m2-85v3m0 3v7m0 3v5m0 2v1m0 10v1m0 1v1m0 7v1m0 10v1m0 11v1m0 10v1m0 3v3m2-85v3m0 3v7m0 3v5m0 2v1m0 10v1m0 1v1m0 7v1m0 10v1m0 11v1m0 10v1m0 3v3m2-85v3m0 3v7m0 3v5m0 2v1m0 10v1m0 1v1m0 7v1m0 22v1m0 10v1m0 3v3m2-85v3m0 3v7m0 3v5m0 2v1m0 10v1m0 1v1m0 7v1m0 22v1m0 10v1m0 3v3m2-91v1m0 5v3m0 3v7m0 3v5m0 2v1m0 10v1m0 1v1m0 7v1m0 22v1m0 10v1m0 3v3m2-102v1m0 9v2m0 5v3m0 3v7m0 3v5m0 2v1m0 10v1m0 1v1m0 7v1m0 22v1m0 10v1m0 3v3m2-102v1m0 9v2m0 5v3m0 3v7m0 3v5m0 2v1m0 10v1m0 1v1m0 7v1m0 22v1m0 14v3m2-102v1m0 9v2m0 5v3m0 3v7m0 3v5m0 2v1m0 10v1m0 1v1m0 7v1m0 22v1m0 7v1m0 6v3m2-102v1m0 9v2m0 5v3m0 3v7m0 3v5m0 2v1m0 10v1m0 1v1m0 7v1m0 22v1m0 7v1m0 6v3m2-102v1m0 9v2m0 5v3m0 3v7m0 3v5m0 2v1m0 10v1m0 1v1m0 7v1m0 22v1m0 7v1m0 6v3m2-102v1m0 9v2m0 5v3m0 3v7m0 3v5m0 2v1m0 10v1m0 1v1m0 30v1m0 7v1m0 6v3m2-102v1m0 9v2m0 5v3m0 3v7m0 3v5m0 2v1m0 10v1m0 1v1m0 30v1m0 7v1m0 6v3m2-102v1m0 9v2m0 5v3m0 3v7m0 3v5m0 2v1m0 2v1m0 7v1m0 40v1m0 6v3m2-102v1m0 9v2m0 5v3m0 3v7m0 3v5m0 2v1m0 2v1m0 7v1m0 40v1m0 6v3m2-102v1m0 9v2m0 5v3m0 3v7m0 3v5m0 2v1m0 2v1m0 7v1m0 40v1m0 6v3m2-102v1m0 9v2m0 5v3m0 3v7m0 3v5m0 5v1m0 7v1m0 40v1m0 6v3m2-102v1m0 16v3m0 2v8m0 3v5m0 5v1m0 7v1m0 40v1m0 6v3m2-102v1m0 16v3m0 2v8m0 3v5m0 5v1m0 7v1m0 40v1m0 6v3m2-102v1m0 16v3m0 2v8m0 3v5m0 5v1m0 7v1m0 40v1m0 6v3m2-102v1m0 16v3m0 2v8m0 3v5m0 5v1m0 38v1m0 9v1m0 6v3m2-102v1m0 16v3m0 2v8m0 3v5m0 5v1m0 38v1m0 9v1m0 6v3m2-102v1m0 16v3m0 2v8m0 3v5m0 5v1m0 38v1m0 9v1m0 6v3m2-102v1m0 16v3m0 2v8m0 3v5m0 5v1m0 38v1m0 9v1m0 6v3m2-85v3m0 2v8m0 3v5m0 5v1m0 38v1m0 9v1m0 6v3m2-92v1m0 6v3m0 2v8m0 3v5m0 1v1m0 3v1m0 38v1m0 9v1m0 6v3m2-85v3m0 2v8m0 3v5m0 1v1m0 3v1m0 38v1m0 9v1m0 6v3m2-85v4m0 1v8m0 3v5m0 2v1m0 10v1m0 1v1m0 7v1m0 22v1m0 10v1m0 3v3m2-85v15m0 3v3m0 24v1m0 20v1m0 15v4m2-86v16m0 3v2m0 8v1m0 16v1m0 20v2m0 7v1m0 2v1m0 2v4m2-86v18m0 3v1m0 5v1m0 19v1m0 34v4m2-86v20m0 2v1m0 16v1m0 8v1m0 28v1m0 2v1m0 1v4m2-86v20m0 1v3m0 9v1m0 7v1m0 10v1m0 7v1m0 17v1m0 3v5m2-86v14m0 19v1m0 16v1m0 29v1m0 1v4m2-84v3m0 76v1m0 1v4m2-3v3m2-7v1m0 5v2m2-1v2m2-4v1m0 3v1m2 0v1m2-3v1m0 2v1m0 4v1m2-5v1m0 4v1m2-9v1m0 1v1m0 1v1m2-3v2m0 1v1m2-2v3m2-2v3m2-3v4m2-6v1m2-1v1m2-2v2m2-2v2m2-5v2m0 1v2m2-2v2m2-2v2m2-2v2m2-2v2m2-2v2m2-2v2m2-2v2m2-2v2m2-2v2m2-2v2m2-2v2m2-2v2m2-2v2m2-2v2m2-2v2m2-2v2m2-2v2m2-2v2m2-2v2m2-2v2m2-2v2m2-2v2m2-2v2m2-2v2m2-2v2m2-2v2m2-2v2m2-2v2m2-2v2m2-2v2m2-2v2m2-2v2m2-2v2m2-2v2m2-2v2m2-2v2m2-2v2m2-2v2m2-2v2m2-2v2m2-2v2m2-2v2m2-2v2m2-2v2m2-2v2m2-2v2m2-2v2m2-2v2m2-2v2m2-2v2m2-2v2m2-2v2m2-2v2m2-2v2m2-2v2m2-2v2m2-2v2m2-2v2m2-2v2m2-2v2m2-2v2m2-2v2m2-2v2m2-2v2m2-2v2m2-2v2m2-2v2m2-2v2m2-2v2m2-2v2m2-2v2m2-2v2m2-2v2m2-2v2m2-2v2m2-2v2m2-2v2"/>
<path stroke="#fff900" d="m876 860v1m2-1v1m2-1v1m2-1v1m2-1v1m2-1v1m2-1v1m2-1v1m2-1v1m2-1v1m2-1v1m2-1v1m2-1v1m2-1v1m2-1v1m2-1v1m2-1v1m2-1v1m2-1v1m2-1v1m2-1v1m2-1v1m2-1v1m2-1v1m2-1v1m2-1v1m2-1v1m2-1v1m2-1v1m2-1v1m2-1v1m2-1v1m2-1v1m2-1v1m2-1v1m2-1v1m2-1v1m2-1v1m2-1v1m2-1v1m2-1v1m2-1v1m2-1v1m2-1v1m2-1v1m2-1v1m2-1v1m2-1v1m2-1v1m2 17v3m2-3v1m4-2v1m2-3v1m2-2v1m2-2v1m0 2v1m2-5v1m2-2v1m0 3v1m2-93v13m0 63v1m2-79v4m0 1v12m2-17v2m0 14v2m2-19v2m0 15v2m2-19v2m0 15v2m2-19v2m0 15v2m2-19v2m0 15v2m2-19v2m0 15v2m0 61v1m2-81v2m0 15v2m0 24v1m0 42v1m2-87v2m0 15v2m0 24v1m0 42v1m0 2v1m2-90v2m0 15v2m0 70v1m0 4v1m2-95v2m0 15v2m0 75v1m2-95v2m0 15v2m0 75v1m2-95v2m0 15v2m0 60v1m0 14v1m2-95v3m0 14v2m0 75v1m2-94v3m0 6v8m0 76v1m2-92v13m2 60v1m2-37v1m0 44v1m2 2v1m2-32v1m0 20v1m0 9v1m2-1v1m0 4v1m2-1v1m2-48v1m0 1v1m0 26v1m0 17v1m2-58v1m0 19v1m0 35v2m2-2v2m2-49v1m0 31v1m0 6v1m0 6v3m2-59v1m0 11v1m0 36v1m0 5v3m2-38v1m0 10v1m0 23v3m2-28v1m0 22v5m2-59v1m0 1v1m0 51v4m2-16v1m0 11v3m2-66v1m0 48v1m0 1v1m0 11v1m2-54v1m0 7v1m0 11v1m0 18v1m2-62v1m0 8v1m0 41v1m0 18v1m2-1v1m2-81v1m0 79v1m2-70v1m0 68v1m2-83v1m0 12v1m0 19v1m0 48v1m2-83v1m0 12v1m0 68v1m2-92v1m0 8v1m0 81v1m2-92v1m0 8v1m0 9v1m0 71v1m2-92v1m0 8v1m0 9v1m0 71v1m2-92v1m0 8v1m0 9v1m0 71v1m2-92v1m0 8v1m0 9v1m0 71v1m2-92v1m0 8v1m0 9v1m0 12v1m0 28v1m0 29v1m2-92v1m0 8v1m0 9v1m0 12v1m0 28v1m0 29v1m2-81v1m0 7v1m0 12v1m0 28v1m0 29v1m2-81v1m0 7v1m0 12v1m0 28v1m0 29v1m2-81v1m0 7v1m0 12v1m0 28v1m0 29v1m2-81v1m0 7v1m0 12v1m0 28v1m0 29v1m2-81v1m0 7v1m0 12v1m0 28v1m0 29v1m2-81v1m0 20v1m0 28v1m0 29v1m2-81v1m0 20v1m0 17v1m0 10v1m0 29v1m2-81v1m0 20v1m0 17v1m0 10v1m0 29v1m2-81v1m0 38v1m0 10v1m0 29v1m2-81v1m0 38v1m0 40v1m2-81v1m0 38v1m0 40v1m2-81v1m0 17v1m0 20v1m0 40v1m2-93v1m0 29v1m0 20v1m0 40v1m2-93v1m0 29v1m0 20v1m0 40v1m2-93v1m0 29v1m0 20v1m0 40v1m2-93v1m0 29v1m0 10v1m0 50v1m2-93v1m0 29v1m0 10v1m0 50v1m2-93v1m0 29v1m0 10v1m0 50v1m2-93v1m0 29v1m0 10v1m0 50v1m2-93v1m0 29v1m0 10v1m0 50v1m2-63v1m0 10v1m2-1v1m2-31v1m0 8v1m0 12v1m0 28v1m0 29v1m2-49v1m0 29v1m0 8v1m0 1v1m2-63v1m0 9v1m0 11v1m2-19v1m0 9v1m0 7v1m0 20v1m0 17v1m0 1v1m0 6v1m2-67v2m0 7v1m0 10v1m0 45v1m2-56v1m0 48v1m2-2v1m0 7v1m2 4v1m2-38v1m0 32v1m0 4v3m2-13v1m0 9v4m2-3v3m2-13v1m0 10v3m2-2v2m2-11v1m0 10v1m2 0v1m0 5v1m2-7v1m0 5v1m2-6v1m4-3v1m2 0v1m2-8v1m0 1v3m2-10v1m0 4v1m0 1v3m2-10v1m0 6v3m2-6v1m0 2v3m2-3v3m2-3v3m2-3v3m2-3v3m2-3v3m2-3v3m2-3v3m2-3v3m2-3v3m2-3v3m2-3v3m2-3v3m2-3v3m2-3v3m2-3v3m2-3v3m2-3v3m2-3v3m2-3v3m2-3v3m2-3v3m2-3v3m2-3v3m2-3v3m2-3v3m2-3v3m2-3v3m2-3v3m2-3v3m2-3v3m2-3v3m2-3v3m2-3v3m2-3v3m2-3v3m2-3v3m2-3v3m2-3v3m2-3v3m2-3v3m2-7v1m0 3v3m2-3v3m2-3v3m2-3v3m2-3v3m2-3v3m2-3v3m2-3v3m2-3v3m2-3v3m2-3v3m2-3v3m2-3v3m2-3v3m2-3v3m2-3v3m2-3v3m2-3v3m2-3v3m2-3v3m2-3v3m2-3v3m2-3v3m2-3v3m2-3v3m2-3v3m2-3v3m2-3v3m2-3v3m2-3v3m2-3v3m2-3v3m2-3v3m2-3v3m2-3v3m2-3v3m2-3v3m2-3v3"/>
<path stroke="#ffe400" d="m974 881v1m2-3v1m2-4v1m0 2v1m2-2v1m0 4v1m2-7v1m0 4v2m2-2v2m2-3v3m2-4v4m2-4v4m2-5v5m2-99v1m0 93v5m2-101v14m0 82v5m2-102v15m0 82v5m2-102v15m0 61v1m0 20v5m2-102v15m0 82v5m2-102v15m0 63v1m0 18v5m2-102v15m0 72v1m0 9v5m2-102v15m0 72v1m0 9v5m2-102v15m0 82v5m2-102v15m0 69v1m0 12v5m2-102v15m0 60v1m0 21v5m2-102v15m0 82v5m2-102v15m0 82v5m2-101v14m0 82v5m2-100v6m0 31v1m0 17v1m0 39v5m2-65v1m0 19v1m0 34v1m0 4v5m2-16v1m0 5v1m0 4v5m2-16v1m0 5v1m0 4v5m2-26v1m0 6v1m0 13v5m2-46v1m0 40v5m2-5v5m2-56v1m0 50v5m2-5v5m2-47v1m0 8v1m0 32v5m2-5v5m2-5v3m2-36v1m0 26v1m0 5v2m2-45v1m0 27v1m0 8v1m0 5v1m2-16v1m0 2v1m0 5v1m2-50v1m0 20v1m0 10v1m0 10v1m0 4v2m2-7v1m0 3v2m2-6v1m0 1v4m2-60v1m0 31v1m0 21v6m2-48v1m0 28v1m0 12v5m2-80v1m0 51v1m0 22v3m2-88v1m0 61v1m0 22v2m2-86v1m0 30v1m0 53v1m2-86v1m0 20v1m2-1v1m2-22v1m0 20v1m2-22v1m0 20v1m2-22v1m0 20v1m2-22v1m0 20v1m2-22v1m0 20v1m2-22v1m2-1v1m2-3v1m2-1v1m2-1v1m2-1v1m2-1v1m2-1v1m0 9v1m2-11v1m0 9v1m2-11v1m0 9v1m2-1v1m2-1v1m0 41v1m2-43v1m0 41v1m2-43v1m0 41v1m2-1v1m2-1v1m2-1v1m2-12v1m0 10v1m2-12v1m0 10v1m2-12v1m0 10v1m0 21v1m2-34v1m0 10v1m0 21v1m2-63v1m0 28v1m0 32v1m2-63v1m0 28v1m0 11v1m0 20v1m0 7v1m2-83v2m0 10v1m0 7v1m0 20v1m0 11v1m0 20v1m0 7v1m2-20v1m0 23v1m2-74v1m0 38v1m0 33v1m2-54v1m0 20v1m0 31v2m2-74v1m0 20v1m0 50v3m2-62v1m0 27v1m0 31v5m2-9v1m0 3v5m2-5v5m2-43v1m0 34v1m0 4v4m2-5v1m0 3v1m2-8v1m2 3v1m0 3v1m2-4v1m0 8v3m2-19v1m0 7v1m0 2v1m0 4v3m2-10v1m0 7v2m2-16v1m0 6v1m0 6v1m2-14v1m0 6v1m2 0v1m0 5v1m2-9v1m0 2v1m2 0v1m4-15v1m0 9v2m2-2v2m2-2v2m2-11v1m0 8v2m2-2v2m2-2v2m2-2v2m2-2v2m2-2v2m2-2v2m2-2v2m2-2v2m2-2v2m2-2v2m2-2v2m2-2v2m2-2v2m2-2v2m2-2v2m2-2v2m2-2v2m2-2v2m2-2v2m2-2v2m2-2v2m2-2v2m2-2v2m2-2v2m2-2v2m2-2v2m2-2v2m2-2v2m2-2v2m2-2v2m2-2v2m2-2v2m2-2v2m2-2v2m2-2v2m2-2v2m2-2v2m2-2v2m2-2v2m2-2v2m2-2v2m2-2v2m2-2v2m2-2v2m2-2v2m2-2v2m2-2v2m2-2v2m2-2v2m2-2v2m2-2v2m2-2v2m2-2v2m2-2v2m2-2v1m2-1v1m2-1v1"/>
<path stroke="#ffcf00" d="m876 861v1m2-1v1m2-1v1m2-1v1m2-1v1m2-1v1m2-1v1m2-1v1m2-1v1m2-1v1m2-1v1m2-1v1m2-1v1m2-1v1m2-1v1m2-1v1m2-1v1m2-1v1m2-1v1m2-1v1m2-1v1m2-1v1m2-1v1m2-1v1m2-1v1m2-1v1m2-1v1m2-1v1m2-1v1m2-1v1m2-1v1m2-1v1m2-1v1m2-1v1m2-1v1m2-1v1m2-1v1m2-1v1m2-1v1m2-1v1m2-1v1m2-1v1m2-1v1m2-1v1m2-1v1m2-1v1m2-1v1m2-1v1m2-1v1m4 18v1m2-3v1m2-5v1m2-3v1m2-2v1m0 5v1m0 3v1m2-12v1m2-2v1m0 6v1m2-9v1m2-9v1m0 6v1m0 7v1m2-9v1m0 7v1m2-1v1m2-1v1m4-18v1m0 1v1m2 8v1m6-48v1m4 43v1m2-45v1m0 36v1m8 8v1m0 9v1m2-41v1m0 39v1m2-23v1m0 21v1m2-61v1m0 55v1m0 3v1m2-14v1m0 8v1m0 3v1m2-5v1m0 3v1m2-1v1m2-61v1m0 59v1m2-24v1m0 22v1m2-43v1m0 9v1m0 8v1m0 1v1m0 20v1m2-33v1m0 8v1m0 22v1m0 3v2m2-29v1m0 11v1m0 10v1m0 2v3m2-29v1m0 11v1m0 10v1m0 1v4m2-49v1m0 20v1m0 21v6m2-58v1m0 37v1m0 13v6m2-39v1m0 27v1m0 4v3m2-77v1m0 30v1m0 9v1m0 27v1m2-71v1m0 30v1m0 38v1m2-2v2m2-81v1m0 10v1m0 49v1m0 15v3m2-69v1m0 9v1m0 39v1m0 14v4m2-91v1m0 21v1m0 8v1m0 30v1m0 9v1m0 12v1m0 1v4m2-60v1m0 30v1m0 9v1m0 12v6m2-90v1m0 29v1m0 30v1m0 22v6m2-60v1m0 30v1m0 22v6m2-60v1m0 30v1m0 22v6m2-60v1m0 30v1m0 22v6m2-60v1m0 30v1m0 10v1m0 11v6m2-60v1m0 30v1m0 10v1m0 11v6m2-60v1m0 30v1m0 10v1m0 11v6m2-60v1m0 30v1m0 10v1m0 11v6m2-60v1m0 30v1m0 10v1m0 11v6m2-60v1m0 30v1m0 10v1m0 11v6m2-60v1m0 30v1m0 10v1m0 11v6m2-60v1m0 30v1m0 10v1m0 11v6m2-60v1m0 30v1m0 10v1m0 11v6m2-60v1m0 30v1m0 10v1m0 11v6m2-60v1m0 30v1m0 10v1m0 11v6m2-60v1m0 30v1m0 10v1m0 11v6m2-92v1m0 31v1m0 30v1m0 10v1m0 11v6m2-92v1m0 31v1m0 20v1m0 9v1m0 10v1m0 11v6m2-92v1m0 31v1m0 20v1m0 9v1m0 10v1m0 11v6m2-92v1m0 31v1m0 20v1m0 9v1m0 10v1m0 11v6m2-92v1m0 9v1m0 21v1m0 20v1m0 9v1m0 10v1m0 11v6m2-92v1m0 9v1m0 1v1m0 19v1m0 20v1m0 9v1m0 10v1m0 11v6m2-82v1m0 1v1m0 19v1m0 20v1m0 9v1m0 10v1m0 11v6m2-82v1m0 1v1m0 19v1m0 20v1m0 9v1m0 10v1m0 11v6m2-82v1m0 1v1m0 19v1m0 20v1m0 9v1m0 10v1m0 11v6m2-82v1m0 1v1m0 19v1m0 20v1m0 9v1m0 22v6m2-80v1m0 19v1m0 20v1m0 9v1m0 22v6m2-60v1m0 19v2m0 9v1m0 22v6m2-92v2m0 30v1m0 19v1m0 10v1m0 22v6m2-60v1m0 19v1m0 10v1m0 22v6m2-60v1m0 41v1m0 11v1m0 1v4m2-70v1m0 10v1m0 20v1m0 31v1m0 1v5m2-39v1m0 20v1m0 7v1m0 5v4m2-38v1m0 34v3m2-6v1m2-59v1m2 63v1m2-17v1m2 1v1m2 9v1m0 4v1m0 4v4m2-22v1m0 5v1m0 11v4m2-15v1m0 6v1m2-7v1m2 0v1m0 5v1m0 3v1m2-15v1m0 4v1m2 0v1m0 4v1m0 3v1m2-9v1m2 4v1m0 3v1m4-6v3m2-4v1m2-1v1m2-12v1m0 2v1m0 7v1m2-11v2m0 8v1m2-1v1m2-1v1m2-1v1m2-1v1m2-1v1m2-1v1m2-1v1m2-1v1m2-1v1m2-1v1m2-1v1m2-1v1m2-1v1m2-1v1m2-1v1m2-1v1m2-1v1m2-1v1m2-1v1m2-1v1m2-1v1m2-1v1m2-1v1m2-1v1m2-1v1m2-1v1m2-1v1m2-1v1m2-1v1m2-1v1m2-1v1m2-1v1m2-1v1m2-1v1m2-1v1m2-1v1m2-1v1m2-1v1m2-1v1m2-1v1m2-1v1m2-10v1m0 8v1m2-1v1m2-1v1m2-1v1m2-1v1m2-1v1m2-1v1m2-1v1m2-1v1m2-1v1m14-3v1"/>
<path stroke="#ffba00" d="m996 867v1m4 7v1m2-7v1m0 5v1m2-1v1m10-55v1m2 35v1m0 8v1m0 11v1m2-1v1m2-1v1m2-11v1m0 9v1m6-21v1m2-21v1m2-20v1m2 17v1m0 27v1m2-49v1m0 9v1m0 46v1m2-38v1m0 36v1m2-1v1m2-8v1m2-51v1m0 9v1m0 39v1m2-43v1m0 10v1m2 19v1m2-41v1m0 38v1m4 8v1m0 16v3m2-69v1m0 62v6m2-6v6m2-61v1m0 10v1m0 43v3m2-79v1m0 11v1m0 40v1m0 17v1m2-82v1m0 9v1m0 52v1m0 17v1m2-19v1m0 17v1m2-19v1m0 17v1m2-20v2m0 17v1m2-20v2m0 17v1m2-20v2m0 17v1m2-40v1m0 19v2m0 17v1m2-40v1m0 19v1m0 18v1m2-40v1m0 19v1m0 18v1m2-40v1m0 19v1m0 18v1m2-40v1m0 19v1m0 18v1m2-40v1m0 19v1m0 18v1m2-40v1m0 19v1m0 18v1m2-40v1m0 19v1m0 18v1m2-40v1m0 19v1m0 18v1m2-40v1m0 19v1m0 18v1m2-40v1m0 19v1m0 18v1m2-40v1m0 19v1m0 18v1m2-40v1m0 19v1m0 18v1m2-81v1m0 40v1m0 19v1m0 18v1m2-81v1m0 60v1m0 18v1m2-81v1m0 60v1m0 18v1m2-81v1m0 60v1m0 18v1m2-81v1m0 60v1m0 18v1m2-20v1m0 18v1m2-93v1m0 72v1m0 18v1m2-93v1m0 72v1m0 18v1m2-93v1m0 91v1m2-93v1m0 42v1m0 48v1m2-93v1m0 9v1m0 32v1m0 48v1m2-93v2m0 8v1m0 32v1m0 48v1m2-83v1m0 32v1m0 48v1m2-83v1m0 32v1m0 48v1m2-40v1m0 19v1m0 18v1m2-81v1m0 11v1m2 49v1m0 11v1m4-12v2m2 10v1m0 5v1m2-44v1m0 48v1m2-49v1m0 26v1m0 9v1m0 9v5m2-25v1m0 19v5m4-23v1m2 18v1m2-17v1m16 4v1m0 8v1m2-13v1m0 2v1m0 8v1m2-1v1m2-1v1m2-1v1m2-1v1m2-1v1m2-1v1m2-1v1m2-1v1m2-1v1m2-1v1m2-1v1m2-1v1m2-1v1m2-1v1m2-1v1m2-1v1m2-1v1m2-1v1m2-1v1m2-1v1m2-1v1m2-1v1m2-1v1m2-1v1m2-1v1m2-1v1m2-1v1m2-1v1m2-1v1m2-1v1m2-1v1m2-1v1m2-1v1m2-1v1m2-1v1m2-1v1m2-1v1m2-1v1m2-1v1m2-1v1m2-1v1m2-1v1m2-1v1m2-1v1m2-1v1m2-1v1m2-1v1m2-1v1m2-1v1m2-1v1m2-1v1m6-2v1m6-2v1m8-2v1"/>
<path stroke="#ffa500" d="m876 862v1m2-1v1m2-1v1m2-1v1m2-1v1m2-1v1m2-1v1m2-1v1m2-1v1m2-1v1m2-1v1m2-1v1m2-1v1m2-1v1m2-1v1m2-1v1m2-1v1m2-1v1m2-1v1m2-1v1m2-1v1m2-1v1m2-1v1m2-1v1m2-1v1m2-1v1m2-1v1m2-1v1m2-1v1m2-1v1m2-1v1m2-1v1m2-1v1m2-1v1m2-1v1m2-1v1m2-1v1m2-1v1m2-1v1m2-1v1m2-1v1m2-1v1m2-1v1m2-1v1m2-1v1m2-1v1m2-1v1m2-1v1m2-1v1m2 19v1m4-6v1m0 5v1m2-8v1m0 5v1m2-2v1m4-2v1m4-2v1m8-13v1m2-8v1m0 8v1m4-12v1m2 16v1m2-1v1m2-1v1m2 2v1m2-20v1m0 18v1m4-13v1m2-47v1m0 47v1m6-49v1m2 17v1m2 17v1m6-20v1m0 27v1m4-40v1m0 30v1m0 9v1m2-52v1m0 57v1m2-39v1m0 19v1m0 17v1m2-19v1m2-42v1m4 19v1m0 19v1m2-42v1m0 20v1m0 19v1m2-1v1m0 8v1m2-40v1m0 29v1m2-43v1m0 41v1m0 25v3m2-50v1m0 43v6m2-91v1m0 40v1m0 43v6m2-82v1m0 31v1m0 43v5m2-101v1m0 19v1m0 31v1m0 43v5m2-81v1m0 31v1m0 43v5m2-81v1m0 31v1m0 43v5m2-81v1m0 31v1m0 43v5m2-5v5m2-5v5m2-5v5m2-5v5m2-5v5m2-5v5m2-5v5m2-5v5m2-5v5m2-90v1m0 84v5m2-90v1m0 84v5m2-90v1m0 84v5m2-90v1m0 84v5m2-5v5m2-5v5m2-17v1m0 11v5m2-17v1m0 11v5m2-59v1m0 41v1m0 11v5m2-101v1m0 41v1m0 41v1m0 11v5m2-101v1m0 41v1m0 41v1m0 11v5m2-101v1m0 41v1m0 41v1m0 11v5m2-101v1m0 41v1m0 29v1m0 11v1m0 11v5m2-101v1m0 71v1m0 11v1m0 11v5m2-101v1m0 71v1m0 11v1m0 11v5m2-29v1m0 11v1m0 11v5m2-29v1m0 11v1m0 11v5m2-29v1m0 11v1m0 11v5m2-5v5m2-28v1m0 8v1m0 13v5m2-87v1m0 81v5m2-86v1m0 8v1m0 49v1m0 22v5m2-19v1m0 8v1m0 4v5m2-27v1m0 21v5m2-26v1m0 20v1m0 1v3m4-9v1m2-16v1m0 18v1m4-17v1m4 2v1m10 11v1m4-13v1m0 12v1m2-1v1m2-13v2m0 10v1m2-1v1m2-1v1m2-1v1m2-1v1m2-1v1m2-1v1m2-1v1m2-1v1m2-1v1m2-1v1m2-1v1m2-1v1m2-1v1m2-1v1m2-1v1m2-1v1m2-1v1m2-1v1m2-1v1m2-1v1m2-1v1m2-1v1m2-1v1m2-1v1m2-1v1m2-1v1m2-1v1m2-1v1m2-1v1m2-1v1m2-1v1m2-1v1m2-1v1m2-1v1m2-1v1m2-1v1m2-1v1m2-1v1m2-1v1m2-1v1m2-1v1m2-1v1m2-1v1m2-12v1m0 10v1m2-1v1m2-1v1m2-1v1m2-1v1m6-2v1m20-4v1"/>
<path stroke="#ff9000" d="m842 884v2m2-2v2m2-2v2m2-2v2m2-2v2m2-2v2m2-2v2m2-2v2m2-2v2m2-2v2m2-2v2m2-2v2m2-2v2m2-2v2m2-2v2m2-2v2m2-2v2m100-1v1m2-5v1m0 2v2m2-2v2m2-2v2m2-2v2m2-2v2m2-2v2m2-2v2m2-10v1m0 7v2m2-2v2m2-27v1m0 24v2m2-2v2m2-17v1m0 14v2m2-19v1m0 16v2m2-2v2m2-2v2m2-8v1m0 5v2m2-8v1m0 5v2m2-8v1m0 5v2m2-11v1m0 8v2m2-11v1m0 8v2m2-2v2m2-29v1m0 10v1m0 15v2m2-65v1m0 44v1m0 17v2m2-2v2m2-2v2m2-67v1m0 38v1m0 25v2m2-2v2m2-2v2m2-2v2m2-2v2m2-2v2m2-21v1m0 1v1m0 16v2m2-2v2m2-2v2m2-2v2m2-12v1m0 9v2m2-12v1m0 9v2m2-60v1m0 57v2m2-2v2m2-62v1m0 52v1m0 6v2m2-9v1m0 6v2m2-82v1m0 59v1m0 12v1m0 6v2m2-82v1m0 72v1m0 6v2m2-20v1m0 10v1m0 6v2m2-73v1m0 52v1m0 10v1m0 6v2m2-94v1m0 73v1m0 10v1m0 5v3m2-20v1m0 10v1m0 5v3m2-104v1m0 83v1m0 10v1m0 5v3m2-104v1m0 83v1m0 10v1m0 5v3m2-104v1m0 83v1m0 10v1m0 5v3m2-104v1m0 19v1m0 63v1m0 10v1m0 5v3m2-104v1m0 19v1m0 63v1m0 10v1m0 5v3m2-104v1m0 19v1m0 63v1m0 10v1m0 5v3m2-104v1m0 19v1m0 63v1m0 10v1m0 5v3m2-104v1m0 10v1m0 72v1m0 10v1m0 5v3m2-104v1m0 10v1m0 72v1m0 10v1m0 5v3m2-104v1m0 10v1m0 72v1m0 10v1m0 5v3m2-104v1m0 10v1m0 72v1m0 10v1m0 5v3m2-104v1m0 10v1m0 72v1m0 10v1m0 5v3m2-104v1m0 83v1m0 10v1m0 5v3m2-104v1m0 83v1m0 10v1m0 5v3m2-104v1m0 41v1m0 41v1m0 10v1m0 5v3m2-104v1m0 41v1m0 41v1m0 10v1m0 5v3m2-104v1m0 41v1m0 41v1m0 10v1m0 5v3m2-104v1m0 41v1m0 41v1m0 10v1m0 5v3m2-104v1m0 41v1m0 52v1m0 5v3m2-104v1m0 41v1m0 52v1m0 5v3m2-104v1m0 94v1m0 5v3m2-9v1m0 5v3m2-9v1m0 5v3m2-9v1m0 5v3m2-9v1m0 5v3m2-9v1m0 5v3m2-9v1m0 5v3m2-9v1m0 5v3m2-9v1m0 5v3m2-83v1m0 73v1m0 5v3m2-93v1m0 72v1m0 10v1m0 5v3m2-3v3m2-91v1m0 87v3m2-19v1m0 6v1m0 3v1m0 5v2m2-8v1m0 5v2m2-58v1m0 49v1m0 5v2m2-20v1m0 17v2m2-11v1m0 8v2m2-19v1m0 16v2m2-2v2m2-2v2m2-2v2m2-9v1m0 2v1m0 3v2m2-2v2m2-8v1m0 2v1m0 2v2m2-2v2m2-7v1m0 2v1m0 1v2m2-2v2m2-9v1m0 2v1m0 2v3m2-2v2m2-19v2m0 11v1m2-14v2m0 11v1m2-1v1m2-1v1m2-1v1m2-1v1m2-1v1m2-1v1m2-1v1m2-1v1m2-1v1m2-1v1m2-1v1m2-1v1m2-1v1m2-1v1m2-1v1m2-1v1m2-1v1m2-1v1m2-1v1m2-1v1m2-1v1m2-1v1m2-1v1m2-1v1m2-1v1m2-1v1m2-1v1m2-1v1m2-1v1m2-1v1m2-1v1m2-1v1m2-1v1m2-1v1m2-1v1m2-1v1m2-1v1m2-1v1m2-1v1m2-1v1m2-1v1m2-1v1m2-1v1m2-1v1m2-1v1m2-1v1m2-1v1m6-2v1m10-3v1m6-2v1m10-2v1m2-1v1m2-1v1m2-1v1m2-1v1m2-1v1m2-1v1m2-1v1m2-1v1m2-1v1m2-1v1m2-1v1m2-1v1m2-1v1m2-1v1m2-1v1m2-1v1m2-1v1m2 8v2m2-2v2m2-2v2m2-2v2m2-2v2m2-2v2m2-2v2m2-2v2m2-2v2m2-2v2m2-2v2m2-2v2"/>
<path stroke="#ff7b00" d="m876 863v1m0 21v1m2-23v1m0 21v1m2-23v1m0 21v1m2-23v1m0 21v1m2-23v1m0 21v1m2-23v1m0 21v1m2-23v1m0 21v1m2-23v1m0 21v1m2-23v1m0 21v1m2-23v1m0 21v1m2-23v1m0 21v1m2-23v1m0 21v1m2-23v1m0 21v1m2-23v1m0 21v1m2-23v1m0 21v1m2-23v1m0 21v1m2-23v1m0 21v1m2-23v1m0 21v1m2-23v1m0 21v1m2-23v1m0 21v1m2-23v1m0 21v1m2-23v1m0 21v1m2-23v1m0 21v1m2-23v1m0 21v1m2-23v1m0 21v1m2-23v1m0 21v1m2-23v1m0 21v1m2-23v1m0 21v1m2-23v1m0 21v1m2-23v1m0 21v1m2-23v1m0 21v1m2-23v1m0 21v1m2-23v1m0 21v1m2-23v1m0 21v1m2-23v1m0 21v1m2-23v1m0 21v1m2-23v1m0 21v1m2-23v1m0 21v1m2-23v1m0 21v1m2-23v1m0 21v1m2-23v1m0 21v1m2-23v1m2-1v1m2-1v1m2-1v1m2-1v1m2-1v1m2-1v1m2-1v1m6 16v1m2-2v1m2-2v1m4-2v1m8-18v1m2 8v1m2-10v1m4 6v1m0 10v1m2-1v1m2-21v1m6 0v1m2-38v1m2 45v1m0 6v1m2-1v1m4-10v1m10-49v1m0 37v1m4-39v1m0 48v1m2-11v1m2 7v1m2-49v1m2 59v1m2-1v1m2-62v1m0 8v1m0 51v1m2-4v1m0 2v1m2-4v1m0 2v1m2-63v1m6 48v1m0 1v1m2-54v1m0 9v1m4-31v1m2-2v1m2-1v1m4 0v1m2-1v1m2-1v1m2-1v1m2-1v1m2 8v1m2-1v1m2-1v1m0 21v1m2-23v1m0 21v1m2-1v1m2-1v1m2-1v1m24-22v1m2-1v1m2-1v1m2-1v1m4-2v1m2 74v1m2-4v1m4-67v1m4 69v1m8-3v1m0 2v1m114-12v1m14 9v1m12-3v1"/>
<path stroke="#ff6700" d="m958 885v1m2-1v1m2-1v1m2-1v1m18-12v1m12-6v1m2-10v1m2 17v1m2-1v1m12-57v1m4-2v1m4 35v1m0 17v1m4-18v1m6-40v1m4 47v1m4-51v1m0 59v1m2-1v1m2-51v1m0 37v1m0 11v1m2-62v1m6-2v1m4 58v1m2-61v1m0 10v1m0 48v1m2-9v1m2-64v1m0 10v1m2 49v1m2-42v1m0 40v1m2-42v1m0 40v1m2-72v1m0 29v1m0 40v1m2-72v1m0 70v1m2-73v2m0 70v1m2-73v1m0 71v1m2-73v1m0 71v1m2-73v1m0 31v1m0 39v1m2-73v1m0 31v1m0 39v1m2-41v1m0 39v1m2-41v1m2-1v1m6-23v1m2-1v1m2-1v1m2-1v1m2-1v1m10 0v1m2-1v1m2-1v1m2-1v1m2-1v1m12 20v1m2 0v1m0 48v1m2-69v1m0 19v1m0 50v1m2-51v1m2 0v1m4 1v1m0 37v1m2 9v1m2-10v1m18 7v1m102-10v1m2-1v1m0 11v1m2-13v1m2-1v1m2-1v1m2-1v1m2-1v1m2-1v1m2-1v1m2-1v1m0 8v1m2-10v1m2-1v1m2-1v1m2-1v1m0 7v1m2-9v1m2-1v1m2-1v1m2-1v1m2-1v1m2-1v1m2-1v1m2-1v1m2-1v1m2-1v1m2-1v1m2-1v1m2-1v1m2-1v1m2-1v1m2-1v1m2-1v1m2-1v1m2-1v1m2-1v1"/>
<path stroke="#ff5200" d="m876 864v1m0 4v3m0 6v1m0 5v1m2-21v1m0 4v3m0 12v1m2-21v1m0 4v3m0 12v1m2-21v1m0 4v3m0 12v1m2-21v1m0 4v3m0 12v1m2-21v1m0 4v3m0 12v1m2-21v1m0 4v3m0 12v1m2-21v1m0 4v3m0 12v1m2-21v1m0 4v3m0 12v1m2-21v1m0 4v3m0 12v1m2-21v1m0 4v3m0 12v1m2-21v1m0 4v3m0 12v1m2-21v1m0 4v3m0 12v1m2-21v1m0 4v3m0 12v1m2-21v1m0 4v3m0 12v1m2-21v1m0 4v3m0 12v1m2-21v1m0 4v3m0 12v1m2-21v1m0 4v3m0 12v1m2-21v1m0 4v3m0 12v1m2-21v1m0 4v3m0 12v1m2-21v1m0 4v3m0 12v1m2-21v1m0 4v3m0 12v1m2-21v1m0 4v3m0 12v1m2-21v1m0 4v3m0 12v1m2-21v1m0 4v3m0 12v1m2-21v1m0 4v3m0 12v1m2-21v1m0 4v3m0 12v1m2-21v1m0 4v3m0 12v1m2-21v1m0 4v3m0 12v1m2-21v1m0 4v3m0 12v1m2-21v1m0 4v3m0 12v1m2-21v1m0 4v3m0 12v1m2-21v1m0 4v3m0 12v1m2-21v1m0 4v3m0 12v1m2-21v1m0 4v3m0 12v1m2-21v1m0 4v3m0 12v1m2-21v1m0 4v3m0 12v1m2-21v1m0 4v3m0 12v1m2-21v1m0 4v3m0 12v1m2-21v1m0 4v3m0 12v1m2-21v1m0 5v2m0 12v1m2-21v1m0 5v2m0 12v1m2-21v3m0 5v1m0 11v1m2-21v6m0 4v1m2-11v8m2-8v11m0 10v1m2-22v14m2-14v16m2-16v17m2 3v1m6-10v1m4-3v1m2-2v1m2-2v1m0 7v1m2-10v1m2-2v1m0 8v1m2-1v1m2-1v1m8-12v1m4-10v1m2 0v1m4 8v1m4-48v1m4-2v1m0 54v1m2-56v1m0 45v1m0 8v1m4-57v1m4 47v1m2-50v1m0 37v1m0 20v1m2-21v1m0 19v1m2-51v1m2-11v1m2 8v1m0 29v1m2 8v1m2-50v1m6-2v1m2 50v1m2-43v1m0 41v1m2-53v1m0 59v1m2-1v1m2-1v1m4-51v1m2-1v1m2-2v2m2-2v2m2-2v2m2-2v2m2-2v1m2-1v1m2-32v1m2-1v1m0 71v1m2-73v1m0 71v1m2-73v1m0 71v1m2-73v1m0 71v1m2-73v1m0 71v1m2-73v1m0 71v1m2-1v1m2-1v1m2-1v1m2-63v2m0 60v1m2-63v2m0 60v1m2-63v2m0 60v1m2-63v2m0 60v1m2-1v1m2-1v1m2-1v1m2-1v1m2-1v1m12-73v1m0 71v1m2-71v1m0 71v1m4-60v1m0 18v1m0 38v1m0 11v1m2-51v1m0 39v1m4 7v1m22 0v1m4 6v1m2-3v5m2-5v5m2-5v5m2-5v5m2-5v5m2-5v5m2-5v5m2-5v5m2-5v5m2-5v5m2-5v5m2-5v5m2-5v5m2-5v5m2-5v5m2-5v5m2-5v5m2-5v5m2-5v5m2-5v5m2-5v5m2-5v5m2-5v5m2-5v5m2-5v5m2-5v5m2-5v5m2-5v5m2-5v5m2-5v5m2-5v5m2-5v5m2-5v5m2-5v5m2-5v5m2-5v5m2-5v5m2-5v5m2-5v5m2-5v5m2-5v5m2-5v5m2-5v5m2-5v5m2-5v1m0 1v3m2-5v1m0 1v3m2-5v1m0 1v3m2-5v1m0 1v3m2-3v3m2-4v4m2-4v4m2-4v4m2-7v1m0 2v4m2-4v4m2-4v4m2-8v1m0 2v5m2-5v5m2-5v5m2-9v1m0 3v5m2-5v5m2-5v5m2-5v5m2-10v1m0 4v5m2-5v5m2-5v5m2-5v5m2-5v5m2-5v5m2-5v5m2-5v5m2-5v5m2-5v5m2-5v5m2-5v5m2-5v5m2-5v5m2-5v5m2-5v5m2-5v5m2-5v5m2-5v5m2-5v5"/>
<path stroke="#ff3d00" d="m876 865v1m0 2v1m0 3v1m0 3v2m0 1v2m0 2v1m2-19v1m0 11v3m0 3v1m2-19v1m0 11v3m0 3v1m2-19v1m0 11v3m0 3v1m2-19v1m0 11v3m0 3v1m2-19v1m0 11v3m0 3v1m2-19v1m0 11v3m0 3v1m2-19v1m0 11v3m0 3v1m2-19v1m0 11v3m0 3v1m2-19v1m0 11v3m0 3v1m2-19v1m0 11v3m0 3v1m2-19v1m0 11v3m0 3v1m2-19v1m0 11v3m0 3v1m2-19v1m0 11v3m0 3v1m2-19v1m0 11v3m0 3v1m2-19v1m0 11v3m0 3v1m2-19v1m0 11v3m0 3v1m2-19v1m0 11v3m0 3v1m2-19v1m0 11v3m0 3v1m2-19v1m0 11v3m0 3v1m2-19v1m0 11v3m0 3v1m2-19v1m0 11v3m0 3v1m2-19v1m0 11v3m0 3v1m2-19v1m0 11v3m0 3v1m2-19v1m0 11v3m0 3v1m2-19v1m0 11v3m0 3v1m2-19v1m0 11v3m0 3v1m2-19v1m0 11v3m0 3v1m2-19v1m0 11v3m0 3v1m2-19v1m0 11v3m0 3v1m2-19v1m0 11v3m0 3v1m2-19v1m0 11v3m0 3v1m2-19v1m0 11v3m0 3v1m2-19v1m0 11v3m0 3v1m2-19v1m0 11v3m0 3v1m2-19v1m0 11v3m0 3v1m2-19v1m0 11v3m0 3v1m2-19v1m0 11v3m0 3v1m2-19v1m0 11v3m0 3v1m2-19v1m0 11v3m0 3v1m2-19v1m0 3v1m0 7v3m0 3v1m2-19v1m0 3v1m0 2v1m0 4v3m0 3v1m2-17v1m0 3v1m0 1v1m0 4v3m2-8v1m0 5v2m0 3v1m2-13v1m0 3v1m0 4v1m0 2v1m2-10v1m0 2v1m2 6v1m2-6v1m2 0v1m2 1v1m10-4v1m12-22v1m10 7v1m4-10v1m2 9v1m10-12v2m4 7v1m0 8v1m2-1v1m2 1v1m2-1v1m14-13v1m2-40v1m4 39v1m10-43v1m2-1v1m0 49v1m2-1v1m2-1v1m2-1v1m2-1v1m2-1v1m2-1v1m2-1v1m2-1v1m2-52v1m0 50v1m2-52v1m0 50v1m2-52v1m0 50v1m2-52v1m0 50v1m2-52v1m0 50v1m2-72v1m0 19v1m0 50v1m2-72v1m0 70v1m2-83v1m0 10v1m0 70v1m2-83v1m0 10v1m0 70v1m2-83v1m0 10v1m0 70v1m2-83v1m0 81v1m2-83v1m0 81v1m2-83v1m0 81v1m2-83v1m0 81v1m2-83v1m0 9v1m0 71v1m2-83v1m0 9v1m0 71v1m2-83v1m0 9v1m0 71v1m2-83v1m0 9v1m0 71v1m2-83v1m0 9v1m0 71v1m2-83v1m0 71v1m0 9v1m2-83v1m0 71v1m0 9v1m2-83v1m0 71v1m0 9v1m2-83v1m0 71v1m0 9v1m2-83v1m0 71v1m0 9v1m2-52v1m0 50v1m2-51v1m2-20v1m0 19v1m6 3v1m6 48v1m10 1v1m4 0v1m2-6v1m2 5v1m4-2v1m90 0v1m2-1v1m2-1v1m2-1v1m2-2v2m4-3v1m6-2v1m2 1v1m18-6v1m0 3v1m2-5v1m0 3v1m2-1v1m2-1v1m2-1v1m2-1v1m2-1v1m2-1v1m2-1v1m2-1v1m2-1v1m2-1v1m2-1v1m2-1v1m2-1v1m2-1v1m2-1v1m2-1v1m2-1v1"/>
<path stroke="#ff2800" d="m876 866v2m0 13v2m2-15v1m0 3v1m0 3v1m0 3v3m2-15v1m0 3v1m0 3v1m0 3v3m2-15v1m0 3v1m0 3v1m0 3v3m2-15v1m0 3v1m0 3v1m0 3v3m2-15v1m0 3v1m0 3v1m0 3v3m2-15v1m0 3v1m0 3v1m0 3v3m2-15v1m0 3v1m0 3v1m0 3v3m2-15v1m0 3v1m0 3v1m0 3v3m2-15v1m0 3v1m0 3v1m0 3v3m2-15v1m0 3v1m0 3v1m0 3v3m2-15v1m0 3v1m0 3v1m0 3v3m2-15v1m0 3v1m0 3v1m0 3v3m2-15v1m0 3v1m0 3v1m0 3v3m2-15v1m0 3v1m0 3v1m0 3v3m2-15v1m0 3v1m0 3v1m0 3v3m2-15v1m0 3v1m0 3v1m0 3v3m2-15v1m0 3v1m0 3v1m0 3v3m2-15v1m0 3v1m0 3v1m0 3v3m2-15v1m0 3v1m0 3v1m0 3v3m2-15v1m0 3v1m0 3v1m0 3v3m2-15v1m0 3v1m0 3v1m0 3v3m2-15v1m0 3v1m0 3v1m0 3v3m2-15v1m0 3v1m0 3v1m0 3v3m2-15v1m0 3v1m0 3v1m0 3v3m2-15v1m0 3v1m0 3v1m0 3v3m2-15v1m0 3v1m0 3v1m0 3v3m2-15v1m0 3v1m0 3v1m0 3v3m2-15v1m0 3v1m0 3v1m0 3v3m2-15v1m0 3v1m0 3v1m0 3v3m2-15v1m0 3v1m0 3v1m0 3v3m2-15v1m0 3v1m0 3v1m0 3v3m2-15v1m0 3v1m0 3v1m0 3v3m2-15v1m0 3v1m0 3v1m0 3v3m2-15v1m0 3v1m0 3v1m0 3v3m2-15v1m0 3v1m0 3v1m0 3v3m2-15v1m0 3v1m0 3v1m0 3v3m2-15v1m0 3v1m0 3v1m0 3v3m2-15v1m0 3v1m0 3v1m0 3v3m2-15v1m0 3v1m0 3v1m0 3v3m2-15v1m0 3v1m0 3v1m0 3v3m2-17v1m0 13v3m2-15v1m0 1v1m0 10v3m2-14v1m0 1v1m0 2v1m0 5v3m2-11v1m0 1v1m0 4v1m0 1v2m2-2v3m2-7v1m0 1v1m0 3v1m2 0v1m22-10v1m16-18v1m0 7v1m2 0v1m14-12v1m2 19v1m2-12v1m0 10v1m2-11v1m0 7v1m4-19v1m2-2v1m4-30v1m8 37v1m2-41v1m0 40v1m4-42v1m24-23v1m2-1v1m2-1v1m2-1v1m2-1v1m2-1v1m2-1v1m4 19v1m2-1v1m2-1v1m2-1v1m2-1v1m2-1v1m2-1v1m2-1v1m2-1v1m10-22v1m2-1v1m2-1v1m2-1v1m2-1v1m2 0v1m8 73v1m2-12v1m0 8v1m4-9v1m4 0v1m0 7v1m2-7v1m2 0v1m0 5v1m0 1v1m2-8v1m2 0v1m0 4v1m2-5v1m2 0v1m0 3v1m2-5v1m2 4v1m104 0v1m2-1v1m2-2v2m2-1v1m2-1v1m2-3v1m4-2v1m6-2v1m0 2v1m2-1v1m2-1v1m2-1v1m6-5v1m2-1v1m2-1v1m2-1v1m2-1v1m2-1v1m2-1v1m2-1v1m2-1v1m2-1v1m2-1v1m2-1v1m2-1v1m2-1v1m2-1v1m2-1v1m2-1v1"/>
<path stroke="#ff1300" d="m876 873v1m0 1v1m2-10v2m2-2v2m2-2v2m2-2v2m2-2v2m2-2v2m2-2v2m2-2v2m2-2v2m2-2v2m2-2v2m2-2v2m2-2v2m2-2v2m2-2v2m2-2v2m2-2v2m2-2v2m2-2v2m2-2v2m2-2v2m2-2v2m2-2v2m2-2v2m2-2v2m2-2v2m2-2v2m2-2v2m2-2v2m2-2v2m2-2v2m2-2v2m2-2v2m2-2v2m2-2v2m2-2v2m2-2v2m2-2v2m2-2v2m2-2v2m2-1v2m0 4v1m0 2v1m2-8v1m0 4v1m0 2v1m2-7v1m2 2v1m0 2v1m2-2v2m2 1v1m0 3v1m2-3v1m2 0v1m0 2v1m4-3v1m6-11v1m2 4v1m4-2v1m6-2v1m2-1v1m2-18v1m8-1v1m2 8v1m2-2v1m2-10v1m8-1v1m2 18v1m2-1v1m4-11v1m2-2v1m2-10v1m0 17v1m2-1v1m4-20v1m2-1v1m4-31v1m2-1v1m2 39v1m2-2v1m2-41v1m6-2v1m2-1v1m2-22v1m2-1v1m2-1v1m2-1v1m2-1v1m2-1v1m2-1v1m2-1v1m36 19v1m2-1v1m2-1v1m2-1v1m2-1v1m2-1v1m2-1v1m0 52v1m2-54v1m0 52v1m2-54v1m0 52v1m4-73v1m2 60v2m14 11v1m2-10v1m2 0v1m2 0v1m2 0v1m2 0v1m2 0v1m114 5v1m2-1v1m2-1v1m2-2v2m2-1v1m2-3v1m0 1v1m2-1v1m4-4v1m2-1v1"/>
<path stroke="#fd0000" d="m876 874v1m2-2v1m2-1v1m2-1v1m2-1v1m2-1v1m2-1v1m2-1v1m2-1v1m2-1v1m2-1v1m2-1v1m2-1v1m2-1v1m2-1v1m2-1v1m2-1v1m2-1v1m2-1v1m2-1v1m2-1v1m2-1v1m2-1v1m2-1v1m2-1v1m2-1v1m2-1v1m2-1v1m2-1v1m2-1v1m2-1v1m2-1v1m2-1v1m2-1v1m2-1v1m2-1v1m2-1v1m2-1v1m2-1v1m2-1v1m2-1v1m6 4v1m4 0v1m0 1v1m4 0v1m0 1v1m14-13v1m2-2v1m2-2v1m2-2v1m2-2v1m6 7v1m2-18v1m0 16v1m2-18v1m2-1v1m0 8v1m2-1v1m6-2v1m2-10v1m0 8v1m2-10v1m2-1v1m0 18v1m2-1v1m4-11v1m2-11v1m0 9v1m2-11v1m2-1v1m2 8v1m4 8v1m2-1v1m6-10v1m2-1v1m6-2v1m2-1v1m8 10v1m2-1v1m2-1v1m2-1v1m2-1v1m2-1v1m2-1v1m2-1v1m2-1v1m2-1v1m2-1v1m2-1v1m2-1v1m2-1v1m2-1v1m2-1v1m2-1v1m2-1v1m2-1v1m2-1v1m2-1v1m2-1v1m2-1v1m2-1v1m2-1v1m2-1v1m2-1v1m2-1v1m2-12v1m0 10v1m2-12v1m0 10v1m2-12v1m0 10v1m2-12v1m2-1v1m2-1v1m2 10v1m8-2v1m2-9v1m0 9v1m4-10v1m2 7v1m2-8v1m134 9v1m2-1v1m2-2v1m2-1v1m6-2v1m2-1v1m0 1v1m2-1v1m2-1v1m2-1v1m2-1v1m2-1v1m2-1v1m2-1v1m2-1v1m2-1v1m2-1v1m2-1v1m2-1v1m2-1v1m2-1v1m2-1v1m2-1v1m2-1v1m2-1v1"/>
<path stroke="#e80000" d="m878 875v1m2-1v1m2-1v1m2-1v1m2-1v1m2-1v1m2-1v1m2-1v1m2-1v1m2-1v1m2-1v1m2-1v1m2-1v1m2-1v1m2-1v1m2-1v1m2-1v1m2-1v1m2-1v1m2-1v1m2-1v1m2-1v1m2-1v1m2-1v1m2-1v1m2-1v1m2-1v1m2-1v1m2-1v1m2-1v1m2-1v1m2-1v1m2-1v1m2-1v1m2-1v1m2-1v1m2-1v1m2-1v1m2-1v1m2-1v1m6 0v1m6 4v1m4 1v1m4-2v1m2-1v1m2-2v1m10-4v1m4-11v1m2-1v1m2-1v1m2-1v1m2-1v1m0 7v1m2-1v1m10 0v1m2-11v1m0 9v1m2-11v1m2-1v1m2-1v1m12-2v1m2-1v1m2-1v1m2-1v1m0 8v1m2-10v1m0 8v1m14-11v1m0 10v1m2-12v1m0 10v1m2-12v1m0 10v1m2-12v1m2-1v1m2-1v1m2-1v1m2-1v1m2-1v1m2-1v1m2-1v1m2-1v1m2-1v1m2-1v1m2-1v1m2-1v1m2-1v1m2-1v1m2-1v1m2-1v1m2-1v1m2-1v1m2-1v1m2-1v1m2-1v1m2-1v1m2-1v1m2-1v1m2-1v1m2-1v1m2-1v1m14-1v1m2-1v1m0 10v1m4-11v1m0 8v1m2-10v1m4 0v1m4 0v1m140 10v1m2-1v1m2-2v2m2-2v2m2-2v2m2-2v1m2-2v1m2-1v1m2-1v1m2-1v1m2-1v1m2-1v1m2-1v1m2-1v1m2-1v1m2-1v1m2-1v1m2-1v1m2-1v1m2-1v1m2-1v1m2-1v1m2-1v1m2-1v1"/>
<path stroke="#d30000" d="m958 874v2m2-1v2m4 1v2m4 2v1m2 0v1m2 0v1m10-5v1m4-2v1m20-4v1m2-1v1m2 0v1m2-1v1m32-3v1m2-1v1m2-1v1m2 0v1m2-1v1m2-1v1m88 0v1m2-2v1m6 1v1m4 0v1m4 0v1m4 0v1m4 0v1m2-1v1m130-5v1m2-1v1m2-1v1m2-1v1m2-1v1m2-1v1m2-1v1m2-1v1m2-1v1m2-1v1m2-1v1m2-1v1m2-1v1m2-1v1m2-1v1m2-1v1m2-1v1m2-1v1"/>
<path stroke="#be0000" d="m878 874v1m2-1v1m2-1v1m2-1v1m2-1v1m2-1v1m2-1v1m2-1v1m2-1v1m2-1v1m2-1v1m2-1v1m2-1v1m2-1v1m2-1v1m2-1v1m2-1v1m2-1v1m2-1v1m2-1v1m2-1v1m2-1v1m2-1v1m2-1v1m2-1v1m2-1v1m2-1v1m2-1v1m2-1v1m2-1v1m2-1v1m2-1v1m2-1v1m2-1v1m2-1v1m2-1v1m2-1v1m2-1v1m2-1v1m2-1v1m6 2v1m4 2v1m12 0v1m4-3v1m4-2v1m4-2v1m14-1v1m2-1v1m2-1v1m2-2v1m2-1v1m2-1v1m30-1v1m2-1v1m2-1v1m2-2v1m2-1v1m2-1v1m80-1v2m16 0v1m4 0v1m4 0v1m4 0v1m4 0v1"/>
<path stroke="#a90000" d="m980 880v1m4-2v1m4-2v1m4-2v1m2-1v1m2-1v1m2-1v1m2-1v1m2-1v1m14-2v1m2-1v1m2-1v1m2-1v1m2-1v1m2-1v1m6-1v1m2-1v1m2-1v1m2-1v1m2-1v1m2-1v1m14-2v1m2-1v1m2-1v1m2-1v1m2-1v1m2-1v1m2-1v1m2-1v1m2-1v1m2-1v1m2-1v1m2-1v1m2-1v1m2-1v1m2-1v1m2-1v1m2-1v1m2-1v1m2-1v1m2-1v1m2-1v1m2-1v1m2-1v1m2-1v1m2-1v1m2-1v1m2-1v1m2-1v1m2-1v1m2-1v1m2-1v1m2-1v1m2-1v1m2-1v1m2-1v1m2-1v1m2-1v1m2-1v1m2-1v1m4 0v1m2-1v1m4-1v1m2 0v1"/>
<path stroke="#940000" d="m1028 876v1m2-1v1m110-1v1m6 0v1m2-1v1m4 0v1m4 0v1m4 0v1m4 0v1"/>
<rect x="841" y="508" width="516" height="378" fill="#fff" stroke="none" filter="url(#tx)"/>
<rect x="841" y="508" width="516" height="378" fill="#fff" stroke="none" opacity=".8" filter="url(#n2)"/>
<path stroke="#fff" stroke-opacity=".85" stroke-width="4" d="M1020.4 508v34"/>
<path stroke="#fff" stroke-opacity=".8" stroke-width="1.3" d="M1025.5 508v30M1055.7 508v30M1079.3 508v28M1136 508v20"/>
</g>
<g fill="#222">
<text x="895.1" y="904" font-size="14.8" text-anchor="middle">1</text>
<text x="949.2" y="904" font-size="14.8" text-anchor="middle">2</text>
<text x="1003.3" y="904" font-size="14.8" text-anchor="middle">3</text>
<text x="1057.4" y="904" font-size="14.8" text-anchor="middle">4</text>
<text x="1111.5" y="904" font-size="14.8" text-anchor="middle">5</text>
<text x="1165.6" y="904" font-size="14.8" text-anchor="middle">6</text>
<text x="1219.7" y="904" font-size="14.8" text-anchor="middle">7</text>
<text x="1273.8" y="904" font-size="14.8" text-anchor="middle">8</text>
<text x="1327.9" y="904" font-size="14.8" text-anchor="middle">9</text>
<text x="836.8" y="890.3" font-size="14.8" text-anchor="end">0</text>
<text x="836.8" y="805.6" font-size="14.8" text-anchor="end">0.5</text>
<text x="836.8" y="720.7" font-size="14.8" text-anchor="end">1</text>
<text x="836.8" y="636.1" font-size="14.8" text-anchor="end">1.5</text>
<text x="836.8" y="550.7" font-size="14.8" text-anchor="end">2</text>
<text x="1098" y="922.8" font-size="14.4" text-anchor="middle" textLength="31.6" lengthAdjust="spacingAndGlyphs">Time</text>
<text transform="translate(802 749) rotate(-90)" font-size="13.6" textLength="98.4" lengthAdjust="spacingAndGlyphs">Frequency (Hz)</text>
<text x="842.6" y="503" font-size="14.4" text-anchor="start" textLength="27.8" lengthAdjust="spacingAndGlyphs">x 10</text>
<text x="871.2" y="489.3" font-size="9.5" text-anchor="start">4</text>
</g>
<g id="arrows">
<path class="ar" stroke-width="6.3" d="M222.7 86.2C221.5 93.9 218.1 117 215.4 132.6C212.7 148.2 208.1 166 206.3 179.9C204.5 193.8 204.1 206.2 204.5 216.2C204.9 226.2 207.8 236 208.5 240"/>
<path fill="#fb2a7c" d="M196.2 243.4L220.9 234.4L226.3 274.3Z"/>
<path class="ar" stroke-width="6.3" d="M340.7 80C339.8 88.8 338.3 114.8 335.3 132.6C332.3 150.4 325.9 170.7 322.6 187C319.3 203.3 316.8 218 315.3 230.7C313.8 243.4 313.1 252.7 313.5 263.4C313.9 274.1 317.2 289.7 318 295"/>
<path fill="#fb2a7c" d="M306.2 299.7L329.8 288.8L335.3 328.8Z"/>
<path class="ar" stroke-width="6.3" d="M440.6 76.3C440 85.7 438.8 114.1 437 132.6C435.2 151 432.4 168.8 429.7 187C427 205.2 423.2 225.3 420.6 241.6C418 257.9 415.2 271.7 414 285C412.8 298.3 412.7 310.5 413.4 321.5C414.1 332.5 417.2 346.1 418 351"/>
<path fill="#fb2a7c" d="M406 356L429.7 343.3L437 387Z"/>
<path class="ar" stroke-width="5.5" d="M247.9 326.7C243.5 333.6 228.9 354 221.3 368.4C213.7 382.8 207.2 398.6 202.5 412.8C197.8 427 194.6 440.1 193.2 453.8C191.8 467.5 192.3 481.7 193.9 494.8C195.5 507.9 199.1 522.1 202.5 532.4C205.9 542.7 212.4 552.5 214.4 556.5"/>
<path fill="#fb2a7c" d="M202.5 563.2L224.7 547.8L234.3 591.2Z"/>
<path class="ar" stroke-width="5.5" d="M343.6 381.3C339.7 386.6 327 401.9 320.4 412.8C313.8 423.8 307.3 436.2 304 447C300.7 457.8 300.2 467.4 300.6 477.7C301.1 487.9 303.4 498.2 306.7 508.5C310 518.8 317 531.9 320.4 539.3C323.8 546.7 326.1 550.7 327.2 553"/>
<path fill="#fb2a7c" d="M315.3 558L337.5 544.4L347 587Z"/>
<path class="ar" stroke-width="5.5" d="M444.5 439.5C440.9 443 428.6 454.2 423 460.6C417.4 467 412.7 472 411 477.7C409.3 483.4 409.6 486.2 412.7 494.8C415.8 503.4 424.7 519.6 429.8 529C434.9 538.4 441.1 547.3 443.4 551"/>
<path fill="#fb2a7c" d="M431.5 554.6L455.4 541L463.3 583.7Z"/>
<path class="ar" stroke-width="5.5" d="M562.4 317.8C558.5 323.4 546.5 338.3 539.2 351.3C531.9 364.3 523.7 381.5 518.6 395.7C513.5 409.9 510 423 508.4 436.7C506.8 450.4 507.3 464 509 477.7C510.7 491.4 515.3 507.1 518.6 518.8C521.9 530.5 527.2 543.1 528.9 548"/>
<path fill="#fb2a7c" d="M517 553L540.9 541L549.4 583.7Z"/>
<path fill="#fb2a7c" d="M627.2 703.4H750V684.5L788.7 723L750 761.6V742.2H627.2Z"/>
<text x="697.8" y="735" font-size="29" text-anchor="middle" fill="#fff" stroke="#fff" stroke-width=".5">Stack</text>
</g>
<g class="pk">
<text x="272" y="51" font-size="36">L</text>
<text x="354.2" y="51" font-size="36">2L</text>
<text x="448" y="51" font-size="36">3L</text>
<text x="10.5" y="269.5" font-size="34.5">short-time</text>
<text x="11" y="310.3" font-size="34.5">window</text>
<text x="93.5" y="448.3" font-size="34.5">DFT</text>
</g>
</svg>
</body></html>
